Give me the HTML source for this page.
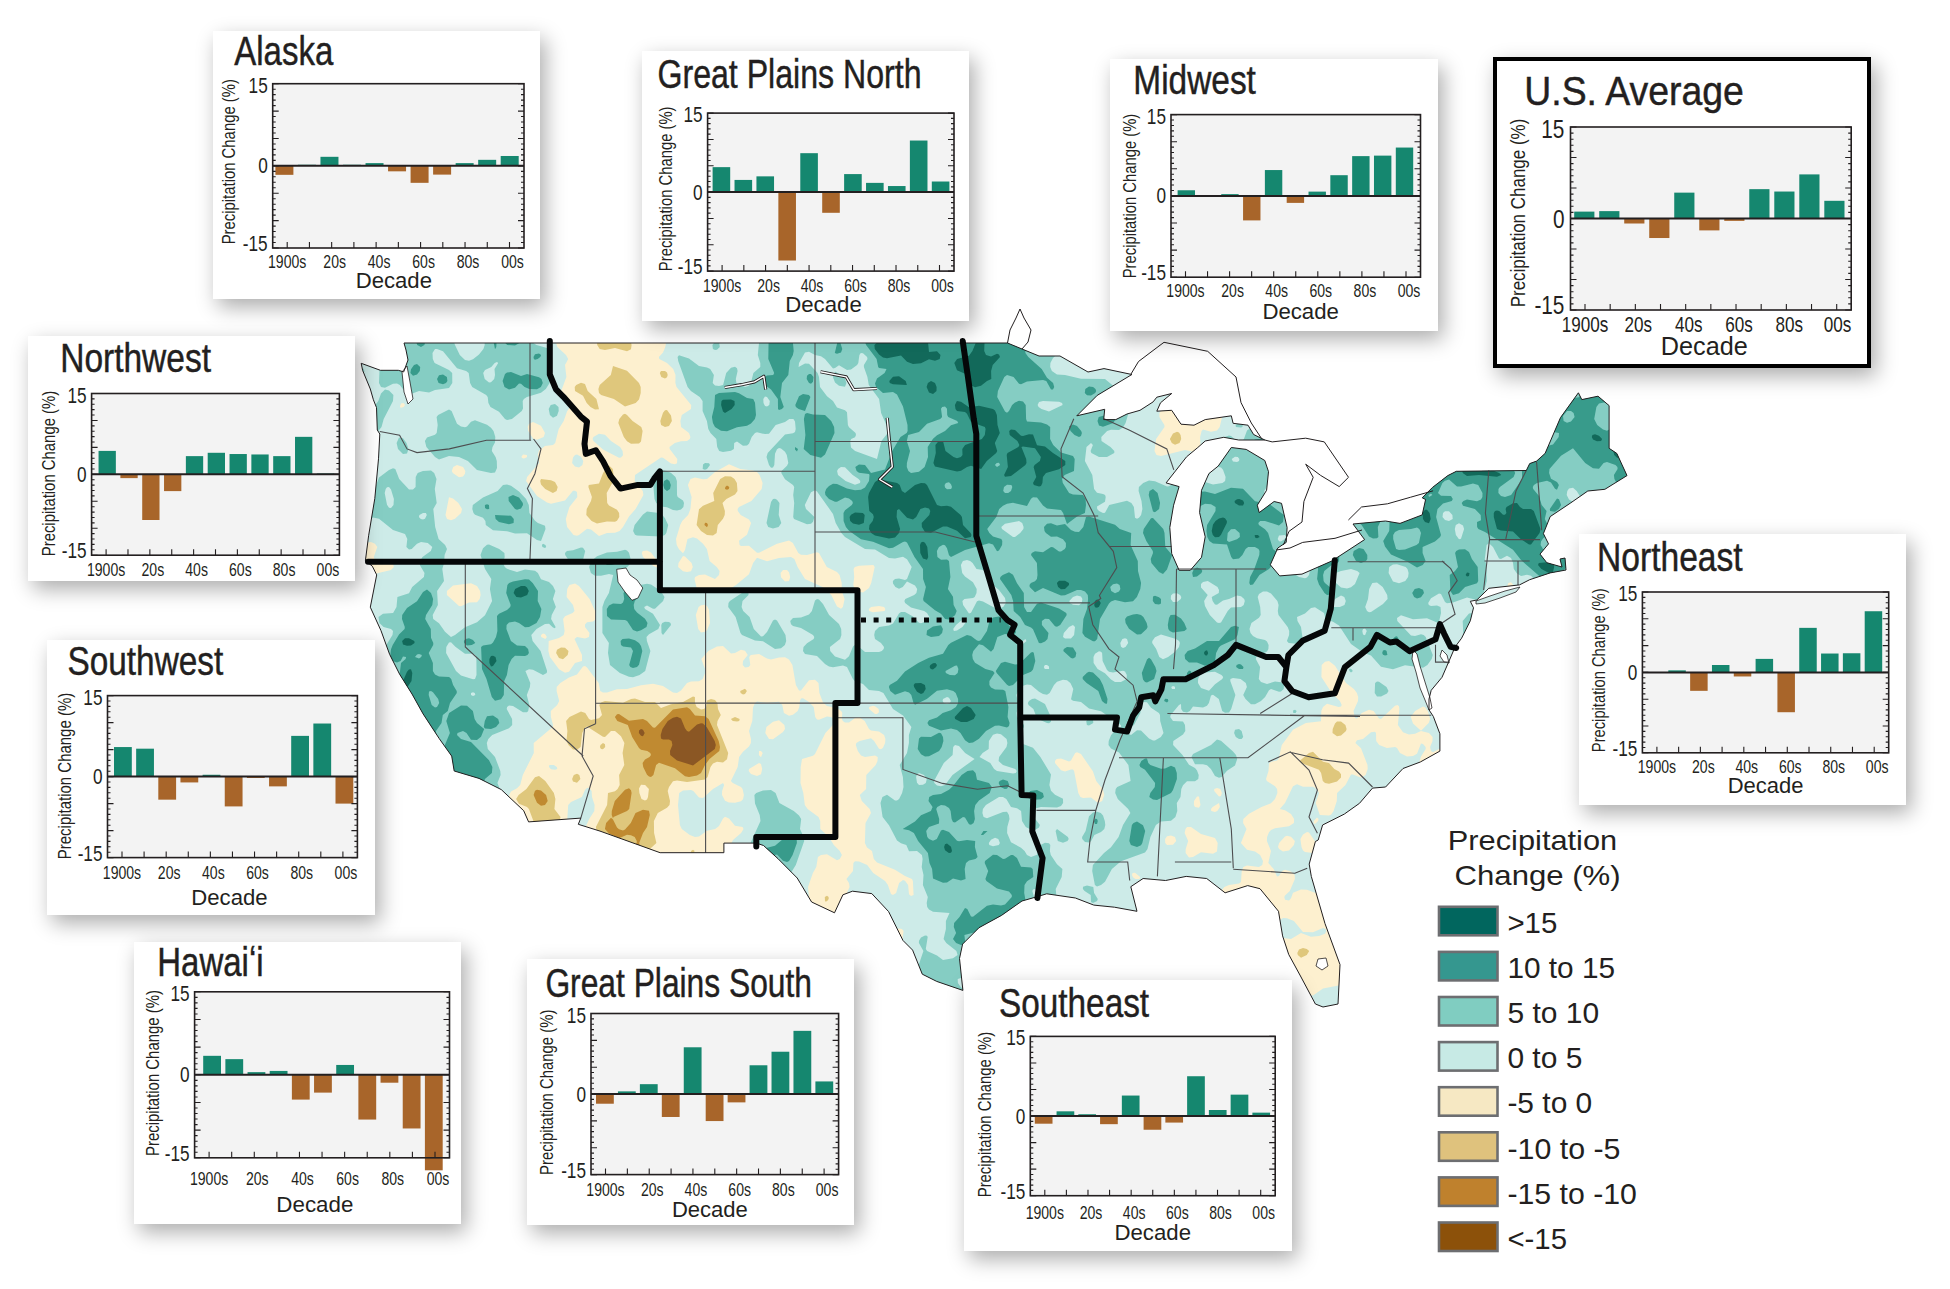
<!DOCTYPE html>
<html><head><meta charset="utf-8">
<style>
html,body{margin:0;padding:0;background:#fff;}
body{width:1950px;height:1289px;position:relative;overflow:hidden;font-family:"Liberation Sans",sans-serif;}
.pn{position:absolute;background:#fff;box-shadow:5px 8px 20px rgba(0,0,0,0.33);}
svg{position:absolute;left:0;top:0;}
text{font-family:"Liberation Sans",sans-serif;fill:#231f20;}
</style></head><body>

<svg width="1950" height="1289" viewBox="0 0 1950 1289" style="z-index:0"><defs><clipPath id="us"><path d="M361.2 363.3L380.4 370.3L398.3 370.3L403.7 371.9L408.0 360.0L406.0 350.0L404.0 343.0L1007.5 343.0L1022.0 349.0L1039.0 356.0L1060.0 356.0L1074.0 364.0L1088.0 372.0L1104.0 368.6L1131.9 374.5L1097.2 395.4L1076.8 415.8L1104.7 409.3L1103.7 419.6L1115.8 419.6L1127.0 414.0L1140.0 410.3L1153.1 401.9L1156.8 397.2L1171.7 393.5L1160.5 402.8L1156.8 411.2L1171.7 410.3L1181.0 424.2L1194.0 425.2L1205.2 419.6L1231.3 415.8L1233.1 423.3L1248.0 425.2L1253.6 434.5L1264.8 440.0L1238.7 440.0L1223.8 437.3L1205.2 441.0L1197.8 447.5L1186.6 456.8L1166.1 482.9L1179.1 486.6L1173.6 505.2L1169.8 527.5L1171.7 553.6L1179.1 570.3L1190.3 570.3L1201.5 557.3L1205.2 536.8L1199.6 512.6L1201.5 490.3L1208.9 473.6L1218.2 466.1L1231.3 447.5L1246.2 449.4L1264.8 460.5L1268.5 471.7L1266.6 490.3L1257.3 505.2L1259.2 512.6L1274.1 501.5L1281.5 503.3L1287.1 527.5L1286.2 542.4L1277.8 548.0L1270.3 564.8L1279.7 575.9L1302.0 574.1L1331.8 561.0L1364.6 539.6L1353.0 524.0L1385.5 521.0L1400.0 523.4L1422.2 514.9L1425.6 499.5L1422.2 497.8L1432.4 487.5L1447.8 475.6L1456.3 471.3L1526.3 470.5L1529.7 463.6L1536.6 461.1L1545.1 453.4L1560.5 417.6L1578.4 392.8L1581.8 399.6L1598.0 396.2L1609.1 405.6L1609.1 448.3L1616.8 453.4L1627.0 475.6L1604.9 489.3L1587.8 491.0L1570.7 502.9L1550.2 516.6L1543.4 533.6L1548.5 543.9L1540.0 554.1L1546.8 562.7L1562.0 567.0L1560.0 559.0L1565.0 558.0L1566.0 570.0L1550.2 572.9L1529.7 579.7L1519.5 584.9L1488.8 588.3L1476.8 600.0L1470.3 601.3L1473.5 607.8L1470.3 620.8L1461.6 638.2L1455.1 646.9L1448.6 662.1L1442.0 677.3L1431.2 690.3L1429.0 699.0L1429.0 709.9L1433.3 716.4L1439.9 733.8L1439.9 751.1L1420.3 762.0L1403.0 768.5L1385.6 787.0L1372.5 788.1L1359.5 803.3L1344.3 814.1L1322.6 825.0L1318.2 840.0L1315.4 841.5L1309.2 864.1L1311.3 876.4L1325.0 923.6L1340.0 964.6L1338.0 1004.0L1323.0 1007.0L1315.4 1004.0L1301.0 977.0L1288.7 954.4L1282.6 935.9L1278.5 911.3L1260.0 888.7L1247.7 885.6L1225.1 892.8L1206.7 878.5L1186.2 876.4L1165.6 880.5L1143.1 878.5L1130.8 886.7L1137.0 911.3L1114.4 907.2L1093.8 905.1L1075.4 898.0L1046.7 893.8L1036.4 896.9L1022.0 901.0L1001.5 915.4L979.0 927.7L962.6 944.1L959.5 958.5L962.9 990.4L936.7 981.4L922.3 974.2L912.6 950.1L903.0 940.5L888.6 911.6L871.8 893.6L852.5 891.2L842.9 894.8L834.5 912.8L811.6 902.0L797.2 878.0L778.0 858.7L763.5 845.5L756.3 843.1L723.9 843.1L723.9 852.7L660.1 852.7L600.0 831.1L578.3 824.3L580.8 818.1L528.6 821.9L523.7 810.7L501.3 789.6L479.0 778.4L454.2 771.0L451.7 756.1L439.3 738.7L423.1 713.9L412.0 694.0L399.6 674.2L389.6 654.3L381.0 630.7L370.3 607.2L376.7 574.9L372.3 566.2L365.4 560.6L368.6 535.8L374.8 498.5L378.5 458.8L379.8 434.0L377.3 430.0L376.5 407.6L373.4 399.8L370.3 389.0L362.6 370.3Z"/></clipPath></defs>
<g clip-path="url(#us)">
<rect x="360" y="300" width="1280" height="740" fill="#cdebe8"/>
<path fill="#85cdc3" fill-rule="evenodd" d="M549.6 383.0L545.8 389.0L541.0 392.8L526.9 397.0L523.9 399.0L522.7 401.0L523.0 408.4L521.8 411.0L511.9 419.0L507.0 420.0L505.0 418.9L499.0 411.7L490.5 407.0L488.4 403.0L487.7 397.0L486.2 395.0L472.2 387.0L470.1 383.0L468.7 373.0L466.1 371.0L457.0 368.2L443.0 351.3L437.0 348.9L435.0 349.1L432.5 353.0L432.8 359.0L434.6 363.0L449.0 370.1L452.2 373.0L452.3 383.0L449.0 387.9L435.0 389.9L429.0 392.4L419.0 391.1L411.0 393.9L405.0 391.7L399.8 385.0L397.0 383.5L393.0 383.7L385.0 387.7L381.0 387.0L379.0 383.0L379.7 365.0L377.1 361.0L371.0 357.1L369.1 351.0L374.3 341.0L375.5 335.0L383.4 325.0L384.6 317.0L382.8 313.0L381.0 312.1L377.0 312.8L370.0 317.0L365.0 324.5L361.0 326.2L361.0 301.0L385.7 301.0L388.5 303.0L397.0 304.6L401.0 303.6L402.8 301.0L419.4 301.0L423.0 305.7L431.0 308.4L436.1 307.0L441.0 302.7L443.0 302.1L447.0 317.0L449.0 319.5L451.0 319.8L455.0 319.0L458.3 315.0L459.7 309.0L459.1 301.0L532.2 301.0L537.9 311.0L538.7 317.0L537.8 325.0L531.1 333.0L530.5 337.0L533.2 343.0L536.5 345.0L547.0 348.1L551.0 353.0L551.7 369.0ZM715.0 322.3L713.0 323.8L711.0 323.7L703.0 315.6L697.3 315.0L694.1 313.0L692.9 309.0L694.9 301.0L697.8 301.0L703.0 313.6L705.0 314.7L713.0 311.4L717.0 312.7L717.8 317.0ZM893.4 1029.0L891.6 1025.0L893.0 1020.9L895.0 1019.4L905.0 1017.9L909.0 1015.0L920.0 995.0L926.6 987.0L926.9 983.0L925.9 981.0L919.5 975.0L917.7 971.0L918.0 967.0L923.4 951.0L918.9 943.0L919.0 940.8L921.0 937.5L925.0 935.4L927.0 935.7L927.7 937.0L925.8 949.0L927.1 951.0L937.0 955.4L943.0 960.0L953.0 958.3L957.6 955.0L956.4 951.0L946.3 943.0L943.6 939.0L945.9 929.0L945.9 921.0L949.5 913.0L933.0 911.7L929.0 909.6L927.2 907.0L926.7 903.0L927.8 897.0L922.9 885.0L923.5 875.0L921.7 867.0L922.6 859.0L921.9 855.0L917.0 851.1L909.0 851.3L906.3 845.0L901.0 843.2L897.0 840.4L889.0 825.3L882.6 817.0L880.5 803.0L882.4 797.0L887.0 794.7L895.0 800.4L897.0 800.5L899.1 799.0L902.1 793.0L903.5 787.0L902.9 777.0L899.7 765.0L907.0 753.0L908.9 743.0L908.9 735.0L911.4 727.0L903.0 715.4L893.0 708.9L883.4 693.0L879.0 690.9L869.0 689.9L863.0 684.1L855.0 681.2L852.9 679.0L847.0 667.0L843.0 665.5L833.0 667.2L829.0 666.5L825.0 664.0L817.0 655.9L805.0 654.1L803.0 651.0L803.5 647.0L807.0 643.2L813.7 639.0L814.3 637.0L813.0 635.0L801.0 628.1L793.0 626.0L791.0 624.2L790.2 621.0L793.0 618.0L801.0 617.5L809.0 614.6L811.9 611.0L815.0 600.4L817.0 598.9L819.0 599.5L823.0 603.9L829.1 615.0L839.0 624.0L841.2 629.0L841.4 635.0L840.1 639.0L829.9 647.0L830.2 651.0L835.0 656.6L845.0 659.7L849.0 656.3L853.0 646.5L855.0 644.7L857.0 645.2L865.0 651.9L879.0 651.9L881.8 651.0L883.7 649.0L884.0 647.0L881.0 643.0L875.0 639.0L874.2 635.0L875.0 631.0L879.1 627.0L889.0 625.6L893.0 623.6L899.0 613.4L901.0 611.9L905.0 612.0L913.0 616.4L919.0 622.8L921.0 623.3L927.1 621.0L929.1 619.0L929.4 617.0L927.0 613.1L924.1 611.0L911.0 607.4L905.1 603.0L904.4 601.0L905.3 599.0L914.2 595.0L916.4 593.0L917.2 589.0L915.0 585.4L907.0 581.5L902.8 587.0L899.0 588.7L895.4 587.0L893.0 583.6L892.9 581.0L895.0 578.9L899.0 578.5L905.0 580.1L907.0 578.9L911.7 567.0L907.0 559.2L903.0 556.8L895.0 558.5L889.0 558.1L875.0 549.6L865.0 549.0L845.0 537.0L841.4 533.0L835.7 523.0L833.0 513.9L817.0 491.4L815.0 490.3L811.0 492.2L804.8 505.0L806.0 509.0L814.4 517.0L813.0 521.8L811.0 523.8L807.0 524.3L794.0 519.0L793.2 517.0L794.2 503.0L793.2 495.0L794.2 487.0L793.0 485.0L785.0 479.2L781.3 473.0L781.5 471.0L787.0 465.7L788.3 463.0L786.8 455.0L785.0 451.8L781.0 448.5L779.0 448.1L777.0 449.3L775.0 453.8L774.3 465.0L773.0 467.6L771.0 467.7L769.0 465.0L766.5 457.0L767.7 453.0L785.0 434.6L793.0 433.3L795.0 432.0L795.7 429.0L795.0 421.6L793.4 419.0L789.3 419.0L785.0 422.0L775.7 425.0L769.0 433.7L765.0 434.1L757.0 432.3L755.0 432.9L751.7 437.0L749.0 443.8L747.0 445.6L743.0 445.8L737.0 441.4L734.2 443.0L733.9 449.0L731.0 450.8L723.0 452.1L719.2 451.0L717.2 447.0L716.3 439.0L710.5 433.0L708.3 429.0L706.9 421.0L702.6 411.0L702.6 401.0L699.7 397.0L690.9 391.0L687.6 387.0L678.2 361.0L677.6 357.0L679.0 355.3L689.0 358.5L699.0 366.0L707.0 367.4L710.2 369.0L713.9 375.0L712.7 383.0L715.0 385.5L719.0 386.1L723.1 385.0L726.2 373.0L731.0 367.8L735.0 366.7L737.0 368.2L737.6 371.0L735.8 379.0L736.4 383.0L745.0 386.9L749.0 385.8L751.0 382.6L753.4 373.0L760.3 367.0L760.3 363.0L757.8 355.0L759.2 341.0L761.0 336.3L767.4 329.0L769.6 323.0L769.6 313.0L766.5 301.0L852.3 301.0L855.0 308.9L859.0 311.9L863.0 311.1L865.4 309.0L867.3 305.0L867.7 301.0L1062.0 301.0L1057.3 325.0L1058.0 333.0L1057.2 335.0L1045.0 335.1L1041.1 339.0L1042.2 343.0L1045.0 343.9L1055.0 341.4L1057.0 341.8L1060.5 347.0L1060.5 351.0L1053.0 358.1L1050.4 363.0L1050.2 367.0L1051.9 371.0L1057.0 374.5L1065.0 374.9L1081.0 378.7L1105.0 378.9L1117.1 389.0L1123.0 398.7L1131.3 405.0L1131.0 409.0L1128.5 413.0L1125.6 423.0L1123.0 427.6L1119.0 429.9L1111.0 429.8L1107.1 431.0L1101.3 437.0L1101.5 441.0L1110.5 447.0L1114.3 451.0L1114.3 453.0L1107.0 457.0L1099.0 456.9L1091.4 453.0L1090.6 451.0L1092.9 445.0L1091.0 443.1L1086.5 447.0L1084.9 461.0L1092.3 475.0L1094.1 489.0L1097.0 492.8L1103.0 493.9L1105.1 495.0L1105.7 497.0L1105.0 501.8L1097.0 506.6L1097.2 509.0L1099.0 511.0L1103.0 512.9L1105.0 512.7L1109.2 505.0L1127.0 500.8L1131.4 503.0L1133.9 507.0L1135.0 517.7L1137.0 518.8L1139.0 517.8L1141.1 515.0L1142.4 509.0L1141.5 501.0L1138.6 491.0L1138.9 487.0L1143.2 483.0L1149.0 480.6L1155.0 481.2L1167.0 486.4L1169.0 486.2L1177.0 481.3L1181.0 480.7L1185.0 481.7L1193.0 486.0L1197.0 485.5L1205.0 482.0L1213.0 484.5L1222.5 483.0L1225.1 481.0L1225.6 477.0L1223.0 469.7L1221.0 467.6L1215.0 466.3L1213.4 467.0L1209.0 475.0L1205.0 477.0L1197.0 471.5L1194.9 467.0L1196.6 463.0L1199.0 461.8L1211.0 463.1L1215.0 449.7L1219.0 446.0L1221.0 441.0L1224.6 437.0L1229.0 435.4L1231.0 435.9L1237.0 441.2L1241.0 442.4L1243.9 439.0L1247.0 430.4L1257.0 422.9L1265.0 422.7L1275.0 425.2L1277.0 424.3L1279.0 420.0L1281.0 418.9L1289.0 420.7L1299.0 420.3L1303.0 421.5L1311.0 428.0L1319.0 428.0L1320.6 429.0L1321.5 437.0L1313.2 449.0L1312.1 459.0L1310.3 463.0L1307.0 464.6L1297.0 463.2L1294.9 465.0L1294.0 475.0L1292.4 479.0L1281.6 487.0L1281.8 489.0L1295.9 501.0L1298.6 511.0L1298.3 515.0L1291.2 525.0L1290.4 533.0L1293.0 533.4L1301.0 530.0L1304.9 525.0L1303.8 513.0L1309.0 505.0L1310.0 501.0L1309.3 491.0L1306.4 481.0L1307.0 474.7L1309.0 471.6L1311.0 471.2L1321.0 477.4L1323.0 477.4L1325.8 475.0L1327.3 463.0L1334.8 457.0L1336.8 453.0L1336.0 433.0L1336.8 429.0L1338.5 427.0L1345.0 423.7L1349.0 423.5L1349.8 425.0L1347.6 433.0L1349.6 439.0L1355.0 443.6L1363.0 446.2L1365.0 444.6L1368.2 437.0L1373.0 433.7L1377.0 434.4L1387.0 441.3L1389.0 441.3L1391.0 438.2L1392.8 433.0L1392.5 429.0L1385.0 418.7L1371.0 413.1L1360.8 415.0L1358.3 413.0L1357.0 407.0L1359.0 402.7L1363.0 402.0L1371.0 410.8L1373.0 411.5L1377.1 409.0L1378.6 405.0L1375.9 395.0L1387.0 385.0L1383.9 375.0L1384.1 363.0L1381.2 353.0L1372.0 345.0L1369.2 339.0L1371.0 335.0L1380.5 325.0L1381.3 321.0L1380.5 313.0L1388.3 305.0L1389.9 301.0L1451.1 301.0L1455.0 303.2L1457.9 301.0L1639.0 301.0L1639.0 621.3L1631.0 621.8L1629.1 623.0L1628.6 625.0L1630.6 627.0L1633.0 627.4L1639.0 625.8L1639.0 720.4L1631.2 721.0L1623.0 724.0L1622.2 723.0L1622.9 717.0L1621.1 713.0L1609.4 705.0L1605.0 699.2L1599.2 695.0L1599.9 683.0L1599.0 678.9L1597.0 676.8L1589.0 674.3L1577.0 677.0L1565.0 676.1L1561.0 673.8L1558.7 669.0L1557.3 659.0L1559.0 655.8L1564.0 651.0L1564.0 649.0L1559.0 643.5L1551.0 639.5L1548.6 637.0L1551.2 627.0L1550.8 621.0L1547.7 615.0L1540.8 607.0L1539.8 603.0L1541.0 597.0L1544.3 593.0L1543.7 589.0L1531.0 575.8L1527.0 574.7L1521.0 576.0L1517.0 573.6L1513.8 569.0L1513.0 562.7L1511.0 557.9L1507.0 555.8L1501.0 558.9L1499.0 558.4L1493.0 547.0L1489.0 543.3L1486.6 545.0L1484.8 559.0L1486.3 565.0L1486.8 581.0L1482.1 599.0L1477.0 599.9L1467.0 597.5L1453.0 602.6L1447.0 603.2L1445.0 602.0L1441.0 593.9L1439.0 593.4L1431.0 598.2L1428.2 603.0L1428.8 605.0L1431.0 605.9L1437.0 605.6L1440.5 607.0L1441.0 613.0L1439.0 622.0L1437.0 622.4L1427.0 618.2L1413.0 619.2L1401.0 615.3L1397.0 618.0L1397.3 621.0L1411.0 635.5L1415.0 636.0L1421.0 634.2L1423.7 635.0L1425.7 637.0L1432.8 655.0L1431.7 659.0L1427.4 665.0L1423.0 667.8L1405.0 665.2L1393.0 669.2L1381.0 666.7L1371.0 655.5L1363.0 652.6L1351.0 643.9L1339.0 625.6L1333.0 621.8L1325.7 619.0L1324.0 613.0L1315.0 607.2L1311.0 607.9L1305.0 613.4L1297.0 616.9L1297.5 621.0L1301.0 627.0L1303.0 641.2L1299.0 644.1L1288.7 643.0L1286.9 641.0L1289.1 635.0L1289.2 631.0L1287.7 627.0L1278.5 615.0L1277.8 611.0L1278.6 605.0L1277.4 601.0L1271.0 593.6L1267.0 591.6L1263.0 591.5L1259.0 594.1L1257.7 597.0L1260.2 607.0L1260.7 615.0L1259.0 617.7L1251.4 623.0L1249.5 629.0L1250.5 633.0L1253.0 636.0L1257.0 638.3L1265.0 640.1L1267.0 641.5L1268.6 645.0L1268.4 649.0L1267.0 651.5L1256.2 657.0L1255.8 659.0L1260.1 667.0L1258.8 679.0L1261.0 682.1L1267.0 684.0L1275.0 681.4L1281.0 682.2L1284.0 685.0L1283.7 689.0L1281.0 691.6L1279.0 691.8L1271.0 689.0L1269.0 690.2L1265.1 697.0L1261.0 701.1L1255.0 704.2L1251.0 704.2L1245.5 699.0L1243.2 695.0L1246.9 687.0L1245.8 683.0L1240.6 679.0L1233.0 678.0L1230.4 679.0L1230.3 681.0L1235.4 695.0L1231.2 709.0L1229.0 712.4L1225.0 712.8L1222.2 711.0L1218.8 699.0L1213.0 694.7L1211.0 695.6L1208.9 703.0L1207.0 705.8L1203.0 707.5L1193.0 706.6L1189.8 711.0L1187.0 712.6L1183.0 711.8L1181.2 709.0L1181.0 704.1L1179.0 705.1L1170.7 715.0L1170.2 717.0L1173.0 720.9L1183.0 721.5L1185.0 725.0L1185.3 731.0L1183.0 734.4L1173.3 741.0L1173.1 745.0L1182.5 755.0L1189.0 764.7L1195.0 768.0L1197.0 770.6L1198.7 775.0L1198.3 779.0L1195.0 781.2L1187.0 781.3L1183.0 785.3L1181.3 789.0L1180.5 797.0L1176.8 803.0L1177.3 811.0L1175.4 817.0L1171.0 820.7L1161.0 821.5L1155.9 825.0L1150.4 837.0L1147.5 849.0L1145.0 852.6L1121.0 861.3L1111.9 869.0L1105.0 881.7L1101.0 885.0L1097.0 886.4L1094.9 885.0L1092.2 871.0L1092.9 865.0L1104.0 853.0L1111.0 847.3L1118.6 837.0L1123.0 825.0L1130.4 813.0L1128.2 809.0L1117.8 799.0L1115.2 793.0L1115.7 789.0L1117.2 787.0L1130.6 781.0L1128.4 765.0L1119.0 752.5L1111.0 748.6L1108.5 745.0L1108.7 741.0L1111.0 735.2L1115.0 730.3L1121.2 727.0L1120.8 725.0L1101.0 711.2L1089.0 708.4L1081.0 701.9L1073.0 700.7L1071.0 699.2L1073.3 689.0L1070.4 683.0L1067.0 680.2L1063.0 679.7L1057.0 681.8L1054.0 685.0L1049.7 693.0L1047.0 694.8L1043.0 694.0L1039.0 691.7L1031.0 685.1L1027.0 684.6L1023.0 685.7L1018.8 689.0L1016.4 695.0L1018.5 705.0L1016.6 713.0L1017.0 717.0L1024.0 725.0L1024.0 727.0L1019.8 733.0L1021.0 739.2L1023.0 744.0L1033.0 747.8L1040.4 757.0L1051.0 774.5L1049.4 785.0L1051.0 790.7L1055.0 794.8L1063.0 798.8L1063.1 803.0L1061.0 805.9L1057.0 807.4L1041.0 807.0L1032.9 809.0L1031.3 811.0L1032.1 815.0L1039.9 825.0L1039.0 827.5L1035.0 829.9L1031.0 829.8L1025.8 827.0L1022.0 821.0L1021.1 811.0L1017.0 808.3L1011.0 806.9L1006.3 799.0L1003.0 797.0L999.0 797.0L985.9 805.0L982.9 809.0L982.4 813.0L983.6 817.0L987.0 818.3L1003.0 812.1L1007.0 811.8L1008.9 815.0L1009.5 819.0L1007.3 827.0L1007.1 833.0L1011.0 842.2L1021.0 847.8L1024.6 851.0L1027.0 855.1L1031.0 857.1L1037.0 854.8L1039.3 847.0L1041.0 844.8L1045.0 842.7L1049.0 843.3L1050.3 845.0L1049.9 851.0L1050.8 855.0L1057.0 864.3L1062.4 869.0L1061.7 877.0L1055.7 889.0L1057.1 903.0L1056.1 909.0L1054.1 915.0L1051.0 918.5L1047.0 919.3L1043.9 917.0L1037.6 897.0L1038.0 891.0L1035.0 888.9L1033.0 889.5L1032.3 891.0L1034.0 897.0L1032.0 907.0L1033.0 913.5L1037.0 918.3L1045.0 923.0L1051.0 931.0L1050.9 933.0L1045.0 941.0L1043.6 945.0L1044.1 951.0L1042.8 957.0L1045.0 965.0L1044.9 969.0L1043.0 971.8L1041.0 971.7L1031.0 968.0L1027.0 969.7L1023.0 973.7L1019.0 975.8L1002.0 977.0L999.0 979.0L995.0 986.4L993.0 987.0L984.2 981.0L981.0 974.5L979.0 973.7L975.1 975.0L974.5 977.0L980.1 981.0L980.9 983.0L975.5 997.0L974.9 1005.0L976.1 1009.0L981.0 1014.0L991.0 1017.4L1000.6 1019.0L1001.1 1021.0L995.0 1025.3L989.0 1026.2L977.0 1022.3L963.0 1027.0L959.2 1031.0L958.3 1039.0L921.7 1039.0L920.0 1033.0L917.0 1030.4L897.0 1030.3ZM1087.0 304.8L1085.0 305.7L1083.0 304.8L1079.9 301.0L1087.9 301.0ZM1429.0 320.9L1430.7 319.0L1429.6 315.0L1423.0 309.0L1421.8 313.0L1423.0 317.4L1425.0 320.2ZM479.0 321.5L483.0 321.1L486.3 319.0L487.1 315.0L485.0 312.0L481.0 311.1L477.6 313.0L476.5 317.0ZM848.8 323.0L847.8 317.0L843.0 312.9L838.7 313.0L834.0 317.0L834.4 321.0L839.3 325.0L845.0 326.4L847.0 325.8ZM409.0 319.3L411.5 317.0L411.0 314.4L409.0 314.2L407.1 317.0ZM1289.4 329.0L1284.6 339.0L1285.3 347.0L1283.8 349.0L1277.0 351.0L1269.0 348.7L1267.0 349.1L1262.8 353.0L1259.0 354.7L1255.0 352.4L1249.0 341.4L1240.7 337.0L1227.1 327.0L1227.0 325.0L1235.0 319.5L1243.0 319.5L1249.0 323.0L1255.0 331.4L1267.0 338.2L1269.0 338.2L1271.0 336.6L1276.7 327.0L1281.0 323.4L1285.0 322.4L1287.0 323.0L1288.9 325.0ZM805.0 338.1L807.5 335.0L806.5 331.0L800.2 321.0L795.7 321.0L794.7 323.0L798.6 329.0L801.0 335.7L803.0 338.1ZM1168.1 331.0L1165.0 331.1L1162.1 329.0L1161.7 327.0L1165.0 323.5L1167.0 323.3L1169.3 325.0L1170.0 329.0ZM1186.8 339.0L1185.0 337.0L1185.1 335.0L1188.2 327.0L1193.0 325.2L1197.0 326.1L1198.0 327.0L1197.4 329.0ZM1096.6 339.0L1095.0 339.7L1087.0 339.0L1083.0 337.3L1080.4 333.0L1081.0 328.8L1083.0 327.9L1087.0 329.7L1093.5 335.0ZM483.4 349.0L484.7 345.0L484.5 341.0L479.0 329.9L477.0 329.1L475.0 330.6L473.9 339.0L472.7 341.0L469.0 343.0L463.0 342.4L457.0 334.3L455.0 333.0L453.0 333.6L452.4 337.0L455.0 345.0L459.8 355.0L465.0 360.1L469.0 360.8L473.0 359.2L479.0 354.4ZM1320.1 353.0L1317.0 354.3L1315.0 353.2L1311.0 345.5L1303.0 342.0L1302.8 339.0L1304.2 337.0L1307.0 335.7L1309.0 336.0L1319.4 345.0L1321.2 349.0ZM715.0 350.1L712.9 349.0L712.4 345.0L715.0 341.8L717.0 341.6L719.2 343.0L719.8 347.0L717.0 349.7ZM1416.1 351.0L1415.8 349.0L1413.0 346.4L1409.0 345.5L1407.3 347.0L1411.0 352.7L1414.5 353.0ZM396.6 367.0L403.0 365.7L406.3 361.0L406.4 355.0L403.0 349.1L401.0 349.0L397.0 351.9L393.5 359.0L393.7 365.0ZM1179.0 364.0L1174.7 361.0L1174.8 355.0L1179.0 350.1L1183.0 348.7L1185.0 349.1L1187.0 351.3L1188.0 355.0L1187.0 360.5L1183.0 364.0ZM877.0 459.1L881.4 441.0L887.0 434.0L888.1 429.0L881.1 413.0L879.1 399.0L868.8 385.0L867.4 377.0L863.9 367.0L863.9 365.0L867.5 359.0L867.1 357.0L863.0 353.2L860.8 353.0L859.4 355.0L858.3 363.0L857.1 365.0L851.0 369.5L847.0 369.9L839.0 365.2L835.0 368.1L833.0 368.4L825.0 359.1L821.0 356.3L815.0 355.0L809.0 351.8L805.0 352.5L799.0 363.1L798.6 367.0L805.0 363.4L809.0 363.8L817.6 373.0L819.0 377.0L820.0 387.0L827.0 396.3L833.0 401.0L837.0 407.4L845.0 410.3L847.0 412.3L847.9 425.0L849.0 427.2L855.6 433.0L856.0 435.0L855.0 437.2L851.2 439.0L850.2 441.0L851.0 447.5L855.1 451.0ZM489.0 382.5L491.0 382.3L494.2 379.0L495.0 375.0L494.5 369.0L498.2 363.0L497.0 362.1L494.7 363.0L491.3 367.0L485.0 370.0L483.2 373.0L484.7 379.0ZM1473.0 369.3L1475.2 367.0L1475.2 365.0L1471.0 362.0L1469.0 363.8L1469.0 367.0L1471.0 369.5ZM361.0 373.8L361.0 367.2L363.7 369.0L364.4 371.0L363.7 373.0ZM1334.4 387.0L1331.0 388.2L1327.2 387.0L1319.0 379.1L1305.0 380.5L1297.0 374.3L1289.0 373.0L1290.9 371.0L1293.0 370.5L1303.0 372.4L1319.0 370.9L1325.0 369.2L1329.0 369.7L1332.1 373.0ZM845.0 386.7L839.0 385.7L835.0 382.5L832.9 377.0L835.0 371.6L843.0 376.3L845.0 378.7L846.4 383.0ZM1365.0 396.2L1363.3 393.0L1364.6 385.0L1367.0 382.2L1371.0 382.3L1372.5 385.0L1371.5 391.0L1369.0 394.6ZM1514.3 391.0L1517.9 389.0L1517.0 386.0L1514.4 387.0L1513.4 389.0ZM361.0 451.6L361.0 423.3L367.0 423.9L371.0 421.4L372.2 409.0L378.3 401.0L381.0 393.4L385.0 389.6L389.0 390.5L393.4 395.0L393.0 401.0L383.7 419.0L381.5 427.0L375.1 435.0L374.8 445.0L373.5 449.0L371.0 451.3ZM767.0 406.5L769.3 405.0L769.8 401.0L767.0 397.1L765.0 396.6L763.3 399.0L763.5 403.0L765.0 406.0ZM1062.6 405.0L1062.1 403.0L1059.0 401.7L1043.0 401.0L1039.0 402.0L1037.6 405.0L1038.6 407.0L1041.5 409.0L1049.0 411.4ZM1103.7 405.0L1101.5 401.0L1099.0 399.7L1094.2 401.0L1091.8 403.0L1091.2 405.0L1093.0 407.1L1099.0 408.5L1103.0 407.0ZM553.0 417.7L549.9 415.0L548.7 409.0L550.7 405.0L555.0 404.1L558.5 407.0L558.7 411.0L557.0 415.8ZM1253.0 416.5L1249.0 415.8L1247.0 414.0L1245.8 409.0L1247.0 406.7L1251.0 407.0L1253.2 409.0L1254.5 413.0ZM495.0 472.5L491.0 473.0L477.0 470.0L467.9 461.0L459.0 457.1L449.0 456.1L439.0 459.6L435.0 457.0L426.4 447.0L424.9 441.0L427.0 437.5L435.0 434.7L436.7 433.0L437.7 425.0L436.6 417.0L438.1 415.0L449.0 409.6L451.6 411.0L457.0 423.7L461.0 426.6L465.0 427.2L467.0 426.4L471.0 421.7L475.0 420.3L487.0 424.8L491.0 427.8L493.5 431.0L495.3 437.0L495.0 442.4L492.5 447.0L491.8 451.0L495.6 457.0L496.8 461.0L497.0 467.9ZM1321.0 426.5L1320.1 421.0L1321.0 418.1L1325.0 417.1L1328.4 419.0L1329.0 423.1L1325.0 425.9ZM1242.8 425.0L1242.4 427.0L1241.0 427.5L1235.9 427.0L1235.6 425.0L1239.0 422.9L1241.1 423.0ZM407.0 453.6L403.0 454.0L398.0 449.0L396.6 443.0L399.0 437.5L403.0 438.3L406.5 443.0L408.5 449.0ZM1371.9 455.0L1372.6 453.0L1371.0 450.1L1365.0 447.3L1364.4 451.0L1366.3 455.0L1369.0 456.0ZM1239.4 459.0L1237.8 457.0L1235.0 456.7L1231.7 459.0L1233.0 461.6L1237.0 462.1L1239.0 461.1ZM702.7 469.0L703.0 464.6L705.0 463.1L709.0 463.2L710.0 465.0L707.0 468.9L705.0 469.7ZM860.0 483.0L860.3 481.0L858.6 479.0L852.7 475.0L845.0 467.2L841.0 466.9L838.1 469.0L837.1 471.0L838.0 475.0L845.6 481.0L855.0 484.7ZM361.0 978.3L361.0 676.7L365.0 674.2L369.0 662.9L371.0 662.0L381.0 662.4L383.0 660.4L385.4 653.0L386.3 645.0L392.5 635.0L393.0 631.0L391.0 629.1L383.6 627.0L379.4 623.0L378.5 617.0L383.0 613.7L393.1 613.0L396.5 607.0L397.4 597.0L409.0 593.3L412.2 587.0L423.9 577.0L424.5 573.0L419.8 565.0L420.1 561.0L422.5 557.0L430.8 551.0L432.3 547.0L427.8 543.0L421.0 542.0L417.0 543.8L411.7 549.0L409.0 549.6L406.4 547.0L407.3 539.0L405.0 534.0L393.0 529.9L379.0 518.8L373.0 517.6L361.0 523.0L361.0 487.5L369.0 490.9L373.0 490.2L375.4 487.0L379.0 477.5L389.0 470.0L393.0 468.2L395.3 469.0L399.2 479.0L409.0 489.4L413.0 489.6L415.6 487.0L415.7 477.0L417.7 473.0L422.9 471.0L431.0 470.4L434.2 473.0L436.5 479.0L434.8 489.0L436.7 503.0L433.3 509.0L435.2 527.0L438.6 539.0L445.1 545.0L447.0 549.0L444.6 555.0L444.1 563.0L442.3 569.0L444.0 581.0L437.1 591.0L437.9 605.0L432.7 615.0L433.2 619.0L439.0 623.3L445.0 631.7L451.0 637.1L455.0 635.1L465.0 627.2L477.0 622.3L485.0 615.2L492.1 601.0L489.9 589.0L491.3 579.0L485.0 569.0L480.5 555.0L483.0 548.3L487.0 544.8L489.0 544.4L499.2 549.0L504.4 553.0L504.7 557.0L503.1 563.0L504.8 567.0L507.0 568.8L517.0 572.1L525.0 569.5L535.0 570.7L537.9 573.0L541.0 579.2L549.0 582.0L553.0 585.9L555.4 591.0L552.9 599.0L555.9 607.0L551.7 615.0L551.1 619.0L555.6 627.0L555.0 628.3L553.0 627.5L549.0 623.7L545.0 624.1L536.5 629.0L531.3 635.0L532.6 641.0L540.6 651.0L547.1 671.0L546.7 673.0L543.0 675.0L533.0 669.8L529.0 669.3L525.4 671.0L530.3 683.0L529.9 687.0L526.8 695.0L529.3 705.0L528.2 711.0L527.0 712.2L523.0 712.2L513.0 706.1L509.0 705.4L507.1 707.0L506.7 709.0L512.1 719.0L512.2 725.0L509.0 728.2L492.2 735.0L488.3 739.0L486.8 743.0L487.8 749.0L495.0 757.0L500.3 771.0L500.6 775.0L497.4 783.0L502.4 795.0L502.7 809.0L509.1 817.0L510.7 833.0L510.0 837.0L504.5 843.0L495.8 849.0L491.0 859.2L487.0 863.7L479.0 866.5L473.0 863.6L471.6 865.0L470.9 867.0L472.2 873.0L471.3 877.0L468.6 881.0L463.8 885.0L451.0 892.1L447.0 893.0L443.0 892.5L435.0 888.4L431.0 888.9L429.6 893.0L429.6 905.0L433.6 913.0L434.2 917.0L431.6 925.0L427.0 927.7L415.0 928.7L409.0 937.4L399.0 943.4L391.0 946.7L387.0 954.1L381.0 970.2L377.0 972.1L369.0 972.5ZM681.0 509.4L677.0 510.4L673.0 510.0L667.0 507.2L661.0 506.4L656.2 503.0L654.5 499.0L652.9 481.0L655.6 475.0L659.0 471.7L663.0 470.3L667.0 470.9L671.1 473.0L675.5 477.0L676.9 481.0L677.0 495.0L677.7 497.0L683.0 500.4L684.0 503.0L683.4 507.0ZM1266.0 495.0L1270.5 495.0L1273.5 493.0L1277.8 487.0L1276.4 485.0L1273.0 482.6L1269.0 483.1L1264.3 491.0L1264.1 493.0ZM541.0 540.9L537.0 539.9L527.0 533.2L515.0 533.4L507.0 531.2L493.0 530.2L485.8 525.0L485.4 521.0L483.0 517.8L475.0 514.7L473.5 513.0L472.3 509.0L472.8 505.0L483.0 497.6L497.6 491.0L503.0 484.9L507.0 484.4L511.0 485.8L519.0 491.6L526.1 499.0L528.8 505.0L529.4 513.0L535.0 520.7L537.9 523.0L545.0 525.7L545.5 529.0ZM391.0 508.1L393.5 505.0L393.9 499.0L391.0 489.4L389.0 487.0L387.0 487.3L385.7 489.0L384.7 493.0L387.0 504.7L389.0 507.7ZM1579.0 500.9L1580.4 499.0L1580.4 497.0L1576.7 491.0L1573.0 487.7L1569.0 488.4L1567.3 491.0L1566.7 495.0L1569.0 499.6L1573.0 502.1ZM773.0 528.4L768.2 527.0L766.5 523.0L771.0 501.9L773.0 499.0L775.0 498.8L777.0 499.7L779.5 503.0L778.7 515.0L781.3 523.0L778.6 527.0ZM1452.7 519.0L1452.4 515.0L1449.0 511.2L1445.0 511.3L1443.0 513.0L1442.5 517.0L1445.0 520.1L1449.0 521.0ZM1629.2 511.0L1627.0 511.0L1623.0 513.7L1619.0 513.2L1617.0 514.3L1615.8 517.0L1616.7 519.0L1629.0 519.0ZM426.8 515.0L425.9 513.0L423.0 512.9L419.4 515.0L418.9 517.0L420.8 519.0L423.0 519.4L425.0 518.7ZM668.2 525.0L666.3 533.0L664.8 535.0L661.0 536.4L637.0 535.4L635.0 534.7L633.1 531.0L634.6 525.0L643.0 514.5L647.0 511.5L661.0 513.3L665.0 518.2ZM1023.6 527.0L1022.2 523.0L1019.0 521.1L1005.0 523.8L1001.3 527.0L1002.0 529.0L1013.0 537.0L1015.0 536.9L1020.2 533.0L1023.4 529.0ZM1175.9 545.0L1179.0 547.0L1185.0 547.6L1193.0 541.7L1199.0 539.2L1200.9 533.0L1199.0 524.3L1197.0 523.2L1193.0 525.1L1188.4 537.0L1179.0 537.4L1175.6 539.0L1174.6 541.0ZM1459.0 539.2L1461.0 538.7L1464.1 529.0L1463.0 525.4L1459.0 523.2L1455.8 525.0L1454.8 529.0L1455.9 535.0ZM1279.0 541.3L1281.0 541.6L1284.7 539.0L1286.1 537.0L1285.0 535.1L1279.0 535.4L1277.7 539.0ZM545.0 548.1L542.4 547.0L541.9 545.0L543.0 543.7L545.5 545.0L546.2 547.0ZM585.2 551.0L583.0 560.1L579.0 563.7L575.0 563.6L567.8 559.0L565.2 555.0L565.0 553.0L566.9 551.0L573.0 550.2L581.0 547.5L583.0 547.7ZM633.0 677.2L629.0 676.8L619.9 673.0L610.0 665.0L608.0 653.0L608.9 643.0L602.4 633.0L602.4 607.0L604.4 601.0L608.9 593.0L613.2 575.0L609.0 574.1L601.0 575.8L595.0 575.7L590.9 573.0L589.1 567.0L591.3 561.0L597.0 556.2L607.0 552.4L617.0 551.7L625.0 549.8L627.0 550.4L629.0 552.7L631.1 561.0L629.2 565.0L621.1 573.0L621.1 575.0L628.4 581.0L635.0 584.6L639.0 585.2L647.0 583.8L651.0 584.4L660.8 591.0L664.5 597.0L663.1 601.0L655.0 608.7L653.0 608.7L647.0 605.5L644.2 607.0L645.0 609.0L653.0 613.7L660.0 625.0L658.3 629.0L649.0 634.2L646.5 637.0L646.9 641.0L650.4 651.0L645.2 671.0L639.6 675.0ZM1003.2 607.0L1005.8 603.0L1005.0 597.9L999.0 589.9L991.0 583.6L985.0 571.6L983.0 570.1L976.5 569.0L972.6 563.0L970.1 561.0L967.0 560.0L962.9 561.0L960.9 565.0L962.2 573.0L965.0 576.6L973.0 582.3L976.7 589.0L976.5 593.0L974.7 597.0L973.0 598.1L964.4 599.0L962.4 601.0L963.1 605.0L969.0 613.6L971.0 612.7L977.0 601.3L979.0 600.5L983.0 601.4L995.0 608.1L999.0 608.4ZM1405.3 581.0L1408.1 577.0L1408.6 573.0L1407.5 569.0L1405.7 567.0L1397.0 564.2L1393.0 564.6L1389.2 567.0L1388.6 573.0L1393.0 581.4L1399.0 583.3ZM1309.0 574.9L1309.8 571.0L1309.0 568.9L1307.0 568.1L1297.0 567.6L1295.0 570.1L1296.0 575.0L1299.0 577.0L1305.0 578.2L1307.0 577.4ZM1359.6 573.0L1357.2 571.0L1351.0 569.0L1341.0 570.9L1335.0 573.3L1333.6 575.0L1333.4 579.0L1336.0 583.0L1341.0 587.5L1347.0 588.5L1351.0 587.2L1355.0 583.9ZM1243.7 605.0L1244.8 601.0L1244.2 599.0L1241.0 596.2L1237.0 595.4L1229.0 599.1L1223.0 600.4L1217.0 604.8L1215.0 604.6L1212.6 601.0L1211.7 597.0L1218.8 593.0L1219.0 590.0L1217.5 587.0L1207.8 581.0L1203.0 581.9L1201.0 584.1L1201.0 587.5L1207.7 595.0L1204.1 601.0L1205.0 606.1L1209.8 615.0L1217.0 622.4L1219.0 623.1L1221.0 622.5L1227.7 611.0L1231.0 607.5L1241.0 607.1ZM1369.0 612.2L1371.0 612.1L1383.0 604.1L1387.6 599.0L1387.2 595.0L1382.7 587.0L1377.0 582.5L1372.3 583.0L1369.2 589.0L1368.0 599.0L1365.2 607.0L1367.0 611.0ZM784.9 645.0L781.0 648.3L775.0 648.9L763.0 641.2L755.0 640.5L742.0 635.0L740.5 633.0L735.6 617.0L728.2 607.0L728.5 603.0L729.9 601.0L743.0 592.2L747.0 591.3L748.5 593.0L748.5 595.0L742.5 601.0L741.6 607.0L743.2 611.0L749.6 617.0L753.8 629.0L761.0 636.4L763.0 636.3L767.0 632.0L773.0 620.6L775.0 619.5L777.0 620.4L785.5 635.0L786.2 641.0ZM1180.8 599.0L1181.3 597.0L1180.1 595.0L1177.0 593.2L1173.0 593.5L1171.0 595.5L1170.8 599.0L1173.0 602.0L1177.0 602.0ZM1082.4 599.0L1081.0 596.5L1077.0 595.6L1073.0 597.0L1069.3 601.0L1070.0 603.0L1073.0 604.7L1079.0 605.3L1081.7 603.0ZM1332.7 607.0L1339.8 607.0L1344.5 605.0L1345.8 601.0L1344.3 597.0L1341.0 595.6L1335.0 598.9L1332.3 603.0L1331.8 605.0ZM1491.8 607.0L1491.0 608.6L1486.9 607.0L1489.0 605.8ZM1501.0 670.1L1495.0 672.1L1489.5 671.0L1487.9 669.0L1485.0 660.3L1481.0 657.8L1479.0 658.7L1473.0 667.0L1469.0 667.8L1467.0 666.8L1463.6 649.0L1463.9 645.0L1467.0 641.8L1473.0 644.6L1474.6 643.0L1467.0 640.8L1465.0 638.5L1463.2 633.0L1462.7 621.0L1469.0 613.5L1473.1 613.0L1474.7 623.0L1483.0 635.7L1491.0 635.8L1495.5 639.0L1499.0 653.4L1504.7 663.0L1504.4 667.0ZM953.9 631.0L957.0 630.6L962.4 627.0L966.8 621.0L967.0 617.8L961.0 620.8L956.0 625.0L953.2 629.0ZM663.0 635.0L661.5 633.0L661.3 625.0L662.2 623.0L665.0 621.8L669.0 621.9L670.5 623.0L671.0 625.0ZM1065.0 638.5L1071.0 638.4L1074.1 635.0L1075.0 626.9L1073.0 625.0L1069.0 627.1L1063.8 633.0L1063.0 637.0ZM1365.0 635.2L1366.8 631.0L1365.0 628.4L1363.0 628.9L1362.3 631.0L1363.0 634.4ZM1163.0 659.2L1168.1 657.0L1175.0 651.7L1179.0 647.0L1179.9 643.0L1179.1 641.0L1176.0 639.0L1161.0 634.6L1155.0 637.3L1152.3 641.0L1152.2 643.0L1156.2 649.0L1159.3 657.0ZM1023.0 643.9L1026.5 641.0L1025.4 639.0L1022.7 641.0ZM1123.0 648.0L1125.5 647.0L1128.2 643.0L1127.0 639.0L1125.0 638.2L1122.4 639.0L1120.3 643.0L1121.0 646.7ZM361.0 654.5L361.0 642.3L363.0 643.3L364.7 647.0L363.2 653.0ZM475.0 679.1L476.5 675.0L476.4 659.0L475.3 655.0L473.0 653.7L465.0 653.7L455.7 647.0L451.0 642.2L449.0 642.5L446.3 647.0L446.1 653.0L456.0 671.0L461.0 675.6L473.0 679.3ZM1126.6 679.0L1126.8 675.0L1125.0 671.6L1123.0 670.8L1113.0 672.6L1109.0 671.7L1107.0 670.1L1102.6 661.0L1102.1 653.0L1101.0 651.7L1099.0 651.3L1095.0 653.7L1093.5 657.0L1093.6 663.0L1097.6 669.0L1105.0 673.3L1111.0 679.6L1115.0 681.9L1121.0 682.1ZM1049.1 669.0L1049.0 666.4L1047.0 664.9L1044.9 665.0L1043.8 667.0L1044.8 669.0ZM1352.9 671.0L1351.0 672.4L1349.4 671.0L1349.0 668.9L1351.0 668.7ZM1527.4 689.0L1521.4 689.0L1515.0 685.9L1515.0 677.0L1517.0 672.0L1523.0 670.9L1531.0 671.7L1532.9 673.0L1529.2 687.0ZM1223.2 677.0L1221.5 675.0L1215.0 671.7L1205.0 672.4L1199.8 675.0L1198.1 679.0L1198.0 683.0L1201.0 687.9L1209.0 690.8L1215.0 684.3L1222.3 679.0ZM1387.0 693.5L1381.0 696.4L1377.0 696.4L1374.7 693.0L1375.1 683.0L1377.0 681.5L1379.0 681.8L1386.5 687.0L1388.5 691.0ZM1175.0 689.0L1175.0 686.7L1173.0 686.0L1171.2 687.0L1172.0 689.0ZM475.3 695.0L474.8 693.0L473.0 692.3L471.0 693.0L471.0 695.0L473.0 696.0ZM1441.0 699.0L1437.0 700.7L1435.0 699.4L1433.1 695.0L1433.7 693.0L1437.0 692.9L1440.3 695.0L1441.4 697.0ZM950.9 701.0L949.0 697.8L947.0 697.0L943.0 699.0L942.6 701.0L943.8 703.0L947.0 704.0L950.0 703.0ZM1529.0 720.7L1526.0 717.0L1526.5 711.0L1533.0 697.6L1535.0 696.2L1539.0 695.9L1541.2 697.0L1543.0 701.0L1541.9 711.0L1535.0 720.1L1533.0 721.0ZM1051.0 721.7L1049.0 723.3L1047.0 723.1L1037.0 718.6L1033.4 709.0L1028.5 705.0L1027.8 703.0L1029.0 701.0L1032.0 699.0L1035.0 698.6L1045.0 704.0L1050.9 717.0ZM1593.0 717.1L1587.7 709.0L1587.5 707.0L1591.0 702.1L1597.0 697.6L1599.0 697.3L1599.8 703.0L1598.7 711.0L1597.0 714.7ZM1461.0 738.7L1458.2 737.0L1457.0 728.8L1451.0 722.1L1450.5 719.0L1452.3 713.0L1455.3 707.0L1459.0 703.7L1469.0 700.2L1475.0 700.0L1478.1 703.0L1478.2 707.0L1469.0 713.2L1464.4 721.0L1465.0 724.3L1469.7 729.0L1469.3 733.0L1465.0 737.7ZM1155.0 740.4L1160.9 737.0L1163.5 733.0L1160.2 721.0L1160.0 715.0L1158.9 713.0L1151.0 707.8L1147.0 702.2L1143.0 701.9L1141.0 704.9L1140.4 713.0L1134.0 725.0L1125.1 729.0L1127.2 733.0L1131.0 735.0L1137.0 730.2L1141.0 730.6L1149.0 738.6L1153.0 740.5ZM1293.3 713.0L1293.0 710.6L1295.0 709.7L1296.7 711.0L1295.6 713.0ZM1553.0 723.9L1551.0 721.3L1551.4 719.0L1553.0 716.5L1557.0 715.7L1559.0 717.8L1559.6 721.0L1557.0 723.2ZM1089.0 725.6L1086.9 725.0L1086.2 721.0L1089.0 717.7L1091.0 717.9L1093.0 719.6L1093.3 723.0ZM1587.0 725.0L1583.0 727.2L1580.1 727.0L1578.0 725.0ZM1241.6 739.0L1239.0 739.0L1235.8 737.0L1234.1 733.0L1235.0 729.8L1239.0 729.0L1241.6 731.0L1243.2 737.0ZM1015.8 773.0L1016.8 771.0L1015.2 769.0L1003.0 765.1L998.6 761.0L999.1 757.0L1006.5 747.0L1007.4 743.0L1006.6 739.0L1001.0 734.2L997.0 733.4L993.0 734.8L988.9 741.0L988.7 749.0L982.6 753.0L979.5 757.0L990.3 763.0L994.1 769.0L997.0 771.0L1013.0 773.5ZM1219.0 777.7L1215.0 775.9L1210.9 769.0L1207.0 765.3L1203.0 764.2L1195.0 764.2L1191.4 757.0L1193.0 753.9L1211.0 744.9L1217.0 739.5L1221.0 740.8L1233.0 751.4L1236.0 755.0L1237.2 759.0L1235.0 765.5L1227.0 770.7L1221.7 777.0ZM937.0 785.4L941.0 786.3L945.0 784.9L952.5 775.0L974.6 759.0L965.1 753.0L959.0 745.9L955.0 744.9L953.2 747.0L952.6 755.0L943.8 763.0L934.0 781.0L934.3 783.0ZM399.2 757.0L401.0 758.4L405.0 756.0L410.8 749.0L409.8 747.0L403.0 745.9L399.6 747.0L398.1 751.0ZM923.0 784.7L925.8 783.0L926.8 779.0L924.0 775.0L919.0 773.1L917.0 774.3L916.1 777.0L917.0 782.8L919.0 784.9ZM676.0 1039.0L677.6 1031.0L683.8 1023.0L686.4 1015.0L690.8 1007.0L691.9 997.0L690.3 991.0L678.0 983.0L677.2 979.0L687.4 963.0L695.0 955.7L699.0 953.3L707.0 955.2L709.0 954.7L711.3 951.0L711.7 939.0L716.7 935.0L727.0 933.1L729.0 931.8L730.3 929.0L729.1 921.0L729.6 917.0L735.0 912.5L743.0 910.9L743.9 909.0L739.5 899.0L739.9 893.0L747.2 875.0L753.8 867.0L754.4 865.0L748.1 853.0L747.8 849.0L760.5 821.0L759.7 815.0L755.0 803.6L754.4 795.0L756.2 793.0L763.0 790.4L771.0 789.9L775.6 793.0L779.4 803.0L793.8 811.0L799.0 815.5L801.2 819.0L800.0 829.0L803.7 837.0L804.2 841.0L795.8 865.0L789.6 875.0L789.2 879.0L791.0 888.8L799.0 899.6L800.5 907.0L800.5 913.0L792.3 923.0L789.0 931.2L785.0 932.6L777.0 929.6L769.0 934.4L766.9 939.0L768.9 949.0L765.0 955.8L755.0 960.7L747.0 967.5L738.6 971.0L736.7 973.0L732.6 983.0L729.0 986.7L716.9 991.0L714.0 999.0L708.3 1009.0L707.3 1015.0L709.0 1017.7L720.3 1023.0L726.6 1039.0ZM1487.0 800.9L1484.6 799.0L1484.2 797.0L1486.4 793.0L1489.0 792.3L1491.0 795.0L1491.0 797.0L1489.0 800.5ZM1085.0 842.0L1082.2 839.0L1082.1 837.0L1085.6 831.0L1089.0 816.3L1093.0 812.4L1097.0 811.8L1100.8 813.0L1103.0 815.5L1104.8 821.0L1105.3 825.0L1104.3 829.0L1101.0 831.9L1094.4 835.0L1091.0 841.3L1089.0 842.6ZM1389.0 829.8L1384.8 825.0L1385.0 819.6L1393.0 814.8L1397.0 814.9L1398.0 819.0L1395.5 827.0L1393.0 829.8ZM430.0 825.0L427.0 825.0L426.2 827.0L429.0 827.2ZM1398.1 853.0L1396.0 849.0L1398.0 843.0L1401.1 841.0L1411.2 839.0L1412.4 837.0L1412.8 831.0L1415.0 828.9L1417.0 829.0L1418.3 835.0L1425.8 841.0L1426.2 843.0L1423.0 844.3L1415.0 845.0L1409.7 851.0L1406.2 853.0L1401.0 854.0ZM1067.5 841.0L1063.0 842.7L1057.8 841.0L1055.6 831.0L1057.0 829.1L1067.9 837.0L1068.7 839.0ZM442.9 853.0L445.0 854.2L447.0 853.9L459.0 847.0L467.0 846.2L469.1 845.0L469.2 841.0L467.0 838.3L464.0 837.0L453.0 836.3L449.0 840.2L442.9 851.0ZM999.9 843.0L998.3 839.0L995.0 837.8L991.0 839.7L988.8 843.0L989.3 845.0L993.0 846.2L998.8 845.0ZM397.0 886.5L401.0 885.0L402.4 883.0L403.1 879.0L401.0 876.9L397.0 878.1L394.8 881.0L394.5 885.0ZM1176.2 889.0L1175.3 887.0L1176.1 885.0L1178.9 883.0L1181.0 883.2L1182.4 885.0L1181.0 888.9ZM1093.0 903.1L1091.0 902.1L1090.7 895.0L1084.6 891.0L1082.9 889.0L1083.0 886.8L1087.0 885.6L1093.3 887.0L1094.1 893.0L1097.8 899.0L1097.1 901.0ZM855.0 924.9L854.0 923.0L855.0 920.4L861.0 917.8L869.0 908.4L871.0 907.4L873.0 907.9L875.0 917.0L873.0 923.0L869.0 925.0L863.0 923.5ZM1083.0 927.3L1079.0 928.6L1077.0 927.4L1074.4 921.0L1075.0 916.6L1077.0 915.4L1079.0 915.9L1083.4 923.0ZM1163.0 935.9L1162.7 931.0L1165.0 927.4L1169.0 923.6L1171.0 922.7L1173.0 923.4L1173.6 927.0L1171.0 933.4L1167.0 936.1ZM1067.0 943.0L1066.5 941.0L1069.0 937.7L1073.0 935.8L1075.0 936.5L1076.1 939.0L1074.9 943.0L1071.0 944.3ZM847.3 975.0L848.0 969.0L851.0 964.2L861.0 959.7L869.0 953.7L889.0 951.6L895.2 953.0L898.8 957.0L899.2 961.0L897.9 965.0L893.0 968.0L885.0 967.9L875.0 961.6L873.0 961.3L865.0 965.7L855.7 975.0L851.0 976.3ZM1063.0 988.7L1057.0 986.6L1051.7 981.0L1049.9 977.0L1055.4 969.0L1057.0 958.8L1059.0 956.0L1061.0 955.3L1067.9 963.0L1069.7 969.0L1077.1 979.0L1071.0 982.0ZM1126.0 989.0L1123.0 990.9L1107.0 992.9L1105.0 994.7L1099.0 1005.7L1095.0 1008.4L1089.0 1008.6L1085.6 1005.0L1082.4 997.0L1082.4 987.0L1081.3 983.0L1083.0 981.1L1093.0 986.6L1101.0 987.8L1104.1 985.0L1103.8 979.0L1095.0 968.3L1075.0 966.7L1072.6 965.0L1073.5 963.0L1079.0 958.8L1087.0 957.4L1091.0 958.8L1097.0 965.2L1105.0 964.5L1109.0 965.7L1115.5 971.0L1120.2 983.0L1123.0 986.0L1125.6 987.0ZM967.0 987.5L968.0 983.0L967.0 980.2L961.0 978.1L957.7 979.0L957.9 983.0L961.0 987.5L965.0 989.1ZM905.0 992.3L901.0 992.9L895.8 989.0L894.5 985.0L896.7 981.0L901.0 980.2L905.3 983.0L907.2 989.0ZM845.0 992.6L842.1 991.0L841.0 982.1L843.0 982.3L846.1 989.0ZM1121.0 1002.2L1118.7 1001.0L1119.0 999.4L1121.0 998.5L1122.5 1001.0ZM817.0 1009.7L816.6 1007.0L819.0 1003.9L823.0 1003.0L825.0 1004.9L825.0 1007.0L823.0 1010.1L819.0 1011.0ZM953.0 1016.9L957.0 1015.8L958.9 1011.0L957.4 1005.0L955.0 1003.2L952.2 1005.0L948.1 1013.0L948.8 1015.0ZM1139.0 1018.9L1137.0 1017.1L1136.6 1015.0L1137.6 1009.0L1141.0 1006.6L1145.0 1006.9L1146.3 1009.0L1145.0 1014.8L1143.0 1017.4ZM1312.2 1011.0L1309.2 1015.0L1305.0 1016.4L1301.0 1015.9L1299.0 1013.0L1301.0 1008.4L1305.0 1006.1L1309.7 1007.0ZM1051.0 1028.0L1048.5 1025.0L1048.6 1019.0L1053.0 1009.0L1055.0 1008.9L1055.8 1013.0L1054.4 1025.0L1053.0 1027.4ZM843.0 1029.3L839.1 1025.0L839.4 1021.0L843.0 1017.7L848.1 1017.0L849.9 1021.0L849.0 1027.0L847.0 1029.1ZM1084.6 1039.0L1089.0 1025.3L1091.0 1022.7L1093.0 1022.5L1095.0 1024.5L1097.7 1031.0L1096.3 1039.0ZM1234.8 1039.0L1228.6 1039.0L1229.0 1036.1L1231.0 1034.3L1233.0 1034.7ZM1447.3 1039.0L1430.0 1039.0L1432.9 1035.0L1437.0 1034.2L1443.0 1035.6ZM1486.3 1039.0L1479.9 1039.0L1483.0 1036.4L1485.0 1036.9Z"/>
<path fill="#389b8b" fill-rule="evenodd" d="M480.1 301.0L478.2 303.0L475.0 303.9L473.0 303.6L471.3 301.0ZM777.9 311.0L778.0 307.0L781.0 305.2L793.0 305.0L799.0 307.0L801.5 301.0L812.1 301.0L814.3 307.0L811.8 309.0L809.0 309.3L799.0 307.0L792.9 313.0L785.0 316.6L781.0 315.4ZM837.1 301.0L835.2 305.0L829.0 308.7L821.0 307.5L819.0 305.0L819.5 301.0ZM949.0 619.5L945.1 619.0L941.0 613.7L935.0 610.2L923.6 601.0L923.1 599.0L925.9 587.0L923.1 579.0L923.0 569.0L914.5 557.0L907.0 542.6L905.0 541.5L903.0 542.0L893.0 547.8L889.0 548.2L873.0 541.7L861.0 539.2L849.0 530.8L845.9 527.0L843.6 521.0L843.5 513.0L845.0 510.3L851.8 505.0L852.9 503.0L852.2 501.0L849.0 498.5L845.0 497.5L837.0 501.8L835.0 501.7L829.0 499.1L825.4 495.0L825.0 492.3L826.2 489.0L829.0 486.0L833.0 483.8L837.0 483.9L847.0 488.4L855.0 490.2L861.0 489.8L865.0 487.5L869.0 481.0L869.5 475.0L869.0 473.9L859.0 472.8L856.6 471.0L855.3 467.0L859.0 464.4L865.0 464.9L871.0 472.9L885.0 469.5L892.2 451.0L900.5 437.0L906.7 433.0L907.6 431.0L907.5 425.0L903.0 406.5L897.0 394.4L893.0 392.1L883.0 393.1L876.1 387.0L875.0 383.4L877.0 378.5L884.6 373.0L886.5 369.0L879.0 368.1L878.2 367.0L876.6 359.0L866.1 345.0L863.3 337.0L857.3 327.0L858.2 323.0L860.0 321.0L875.0 311.0L874.3 301.0L1023.1 301.0L1021.4 307.0L1017.0 309.7L1001.0 312.6L983.0 310.0L981.0 311.5L981.2 315.0L984.8 319.0L990.3 321.0L1009.0 323.4L1019.0 331.5L1028.9 335.0L1030.1 339.0L1025.4 347.0L1025.4 353.0L1028.3 357.0L1041.7 369.0L1047.0 377.8L1053.1 383.0L1054.2 387.0L1053.0 389.5L1051.0 389.4L1046.3 381.0L1043.0 379.9L1027.0 381.6L1021.0 384.3L1019.0 383.8L1013.6 377.0L1007.0 375.1L1004.3 377.0L997.9 391.0L997.2 397.0L1005.0 411.5L1007.0 412.7L1009.0 411.1L1012.1 405.0L1015.0 402.5L1019.0 400.8L1023.0 401.4L1025.7 405.0L1026.1 419.0L1027.0 421.6L1041.0 422.6L1047.0 424.5L1050.2 427.0L1050.1 439.0L1053.2 445.0L1061.0 452.4L1073.0 455.9L1074.7 459.0L1074.0 471.0L1064.6 475.0L1062.1 479.0L1062.8 483.0L1069.1 493.0L1073.0 494.6L1083.0 494.9L1085.6 499.0L1086.0 505.0L1084.9 513.0L1077.0 516.4L1067.0 524.1L1063.1 513.0L1061.0 510.0L1047.0 508.5L1043.0 505.6L1037.0 497.4L1033.0 497.3L1031.0 498.7L1027.0 505.9L1013.0 502.8L1007.0 503.7L1003.0 505.7L999.2 509.0L996.3 517.0L987.2 529.0L989.4 533.0L993.0 536.4L1001.3 539.0L1002.3 541.0L1002.1 545.0L999.0 550.6L997.0 551.2L993.0 544.6L989.0 543.2L965.0 550.0L951.0 557.1L949.0 555.2L947.0 548.2L945.0 545.3L943.0 544.8L939.0 547.0L936.9 551.0L937.4 557.0L941.0 559.8L947.0 559.6L949.0 561.0L950.4 577.0L947.9 589.0L953.0 596.7L953.6 605.0L956.7 611.0L955.0 615.2ZM1639.0 716.5L1631.0 714.1L1625.0 707.0L1617.0 701.6L1608.6 691.0L1607.1 685.0L1608.9 677.0L1608.6 673.0L1602.4 665.0L1597.1 651.0L1591.0 646.3L1570.6 635.0L1567.0 630.8L1561.0 627.9L1559.0 625.7L1558.7 619.0L1567.0 613.6L1573.4 601.0L1573.7 597.0L1572.6 595.0L1569.0 592.2L1561.0 590.6L1541.0 577.5L1521.0 560.0L1513.0 549.8L1485.0 531.9L1478.4 529.0L1477.1 527.0L1477.0 521.9L1481.0 520.2L1480.7 515.0L1474.9 509.0L1463.0 505.7L1461.7 503.0L1463.4 501.0L1467.0 499.5L1477.0 501.2L1481.0 499.5L1482.4 497.0L1482.5 493.0L1478.2 485.0L1473.0 483.5L1461.0 486.4L1457.0 486.4L1449.0 479.5L1445.0 480.8L1442.4 483.0L1438.0 493.0L1441.0 495.7L1451.0 496.1L1452.8 499.0L1451.8 501.0L1443.0 503.4L1437.5 509.0L1436.1 517.0L1441.0 535.0L1440.1 537.0L1435.0 541.5L1422.6 547.0L1422.6 553.0L1425.6 561.0L1422.7 565.0L1417.0 567.6L1407.0 561.5L1391.0 554.5L1385.0 546.4L1383.2 541.0L1389.2 531.0L1389.9 513.0L1387.9 509.0L1383.0 503.8L1379.0 502.9L1377.3 505.0L1381.6 519.0L1377.8 527.0L1378.4 537.0L1377.0 538.2L1373.0 538.6L1369.0 536.6L1361.6 525.0L1349.8 515.0L1359.1 509.0L1361.3 503.0L1360.2 499.0L1355.0 495.9L1349.0 488.6L1345.0 486.3L1341.0 487.4L1331.0 495.3L1327.0 493.9L1324.7 489.0L1326.3 485.0L1337.0 476.1L1341.0 474.5L1351.0 476.3L1355.3 475.0L1356.3 471.0L1352.7 463.0L1352.8 461.0L1355.0 458.4L1357.0 458.3L1365.0 462.2L1375.7 463.0L1378.9 465.0L1379.2 467.0L1373.0 474.6L1370.4 481.0L1365.8 487.0L1365.0 491.3L1367.0 495.0L1369.0 494.8L1370.2 493.0L1371.2 485.0L1380.6 477.0L1383.8 469.0L1387.2 465.0L1390.7 457.0L1393.0 455.4L1397.0 455.2L1399.8 467.0L1407.0 472.2L1415.0 474.0L1425.0 473.3L1429.0 471.8L1431.0 468.1L1431.2 463.0L1429.5 457.0L1427.0 453.0L1421.0 448.9L1407.0 450.0L1403.1 449.0L1401.6 445.0L1401.7 439.0L1409.0 429.9L1419.0 421.8L1423.0 419.6L1433.0 417.4L1437.0 414.9L1440.0 411.0L1443.0 400.1L1445.0 400.2L1456.5 407.0L1471.0 409.4L1481.0 417.8L1485.0 416.2L1487.1 413.0L1486.9 411.0L1483.0 406.1L1479.0 404.5L1469.0 403.6L1463.0 400.5L1460.3 397.0L1461.6 393.0L1467.0 385.6L1472.2 381.0L1477.0 379.6L1483.0 381.5L1485.6 385.0L1485.4 391.0L1487.0 394.3L1497.0 399.8L1507.0 408.0L1511.6 415.0L1519.0 417.6L1523.0 417.0L1526.3 415.0L1527.8 413.0L1527.5 411.0L1516.1 407.0L1514.0 405.0L1513.9 403.0L1516.3 399.0L1525.5 391.0L1529.0 380.9L1533.6 373.0L1532.5 365.0L1535.0 359.6L1541.0 357.7L1550.0 361.0L1550.9 363.0L1547.5 371.0L1547.0 375.0L1549.0 376.9L1553.0 377.8L1559.1 377.0L1561.2 371.0L1559.3 359.0L1565.7 351.0L1568.2 345.0L1570.9 325.0L1569.0 321.6L1565.0 320.6L1559.0 321.3L1549.0 326.1L1539.0 326.9L1535.5 329.0L1534.7 331.0L1539.4 337.0L1540.7 343.0L1538.6 347.0L1533.0 350.4L1529.0 350.3L1526.8 349.0L1522.1 339.0L1519.0 337.5L1505.0 338.4L1499.0 341.9L1494.9 347.0L1494.6 351.0L1505.0 353.4L1507.0 355.0L1511.0 361.7L1517.2 367.0L1510.7 371.0L1508.5 379.0L1505.0 384.5L1499.0 385.4L1491.0 383.5L1489.4 381.0L1495.9 369.0L1489.0 355.8L1479.0 352.4L1471.0 344.0L1461.0 342.4L1459.0 339.2L1459.3 337.0L1465.3 331.0L1466.0 329.0L1465.4 325.0L1463.0 321.8L1459.0 319.7L1451.0 323.2L1445.0 323.9L1444.1 323.0L1444.6 311.0L1451.0 310.9L1461.0 315.3L1467.0 313.2L1477.0 312.9L1483.8 309.0L1487.2 301.0L1510.8 301.0L1510.9 307.0L1509.0 309.9L1495.0 314.4L1490.5 317.0L1488.5 321.0L1488.0 325.0L1489.0 328.1L1491.0 328.6L1508.1 323.0L1516.3 317.0L1520.0 311.0L1518.2 301.0L1566.2 301.0L1571.0 306.1L1581.0 308.8L1584.0 311.0L1586.6 319.0L1591.2 325.0L1593.6 335.0L1595.0 337.7L1597.0 338.3L1599.0 335.2L1599.6 331.0L1597.7 321.0L1601.9 313.0L1600.2 311.0L1592.2 309.0L1590.6 307.0L1589.8 301.0L1639.0 301.0L1639.0 312.9L1636.7 315.0L1639.0 316.8L1639.0 355.2L1634.9 357.0L1633.8 365.0L1631.0 367.2L1627.0 367.7L1622.0 361.0L1617.0 358.1L1613.0 359.0L1611.7 363.0L1615.0 368.6L1621.7 371.0L1620.9 379.0L1623.0 383.0L1629.0 382.8L1635.0 375.6L1639.0 372.6L1639.0 393.7L1634.7 395.0L1625.0 403.0L1609.0 401.6L1599.0 403.4L1596.4 407.0L1594.2 419.0L1597.2 425.0L1603.0 429.4L1607.0 430.8L1610.1 429.0L1615.0 419.6L1621.0 414.7L1625.0 413.5L1639.0 414.6L1639.0 499.2L1627.0 497.7L1623.2 495.0L1614.4 479.0L1613.9 475.0L1617.6 469.0L1617.4 467.0L1615.5 465.0L1607.0 462.0L1603.6 463.0L1599.0 468.7L1593.0 468.2L1585.2 463.0L1573.0 448.3L1561.0 455.8L1549.5 469.0L1549.1 473.0L1551.0 478.7L1557.0 482.1L1558.9 485.0L1557.0 489.8L1555.0 488.7L1551.0 482.5L1547.0 480.8L1537.0 483.0L1533.9 485.0L1532.8 487.0L1533.2 489.0L1539.0 496.1L1541.7 505.0L1546.6 511.0L1544.8 519.0L1549.8 529.0L1549.6 533.0L1543.0 538.6L1541.0 541.6L1540.6 545.0L1543.0 549.0L1547.0 549.8L1553.0 547.1L1558.1 539.0L1567.0 531.0L1571.0 530.6L1581.0 535.8L1585.4 535.0L1588.4 531.0L1590.9 523.0L1587.3 509.0L1589.7 505.0L1593.0 503.2L1605.0 503.5L1607.0 504.2L1608.5 507.0L1607.0 513.7L1599.6 523.0L1600.8 533.0L1603.0 536.0L1613.0 540.3L1619.0 540.6L1622.9 539.0L1627.1 535.0L1639.0 528.0L1639.0 545.0L1633.4 549.0L1631.9 555.0L1634.5 563.0L1633.8 571.0L1639.0 572.3L1639.0 599.5L1634.4 601.0L1633.0 603.0L1637.7 611.0L1636.5 613.0L1625.0 618.9L1621.6 623.0L1620.1 627.0L1623.0 629.9L1639.0 636.9L1635.0 643.0L1635.3 645.0L1639.0 646.9L1639.0 692.8L1631.0 692.3L1628.3 695.0L1629.0 698.2L1631.0 699.4L1639.0 699.4ZM361.0 313.3L361.0 309.6L369.0 309.0ZM507.2 345.0L505.3 343.0L505.2 341.0L510.4 333.0L509.6 323.0L511.1 317.0L514.6 311.0L517.0 309.0L523.0 308.5L528.3 313.0L529.7 317.0L528.0 321.0L519.5 331.0L519.5 343.0L515.0 345.4ZM1397.0 318.3L1390.7 317.0L1390.3 313.0L1393.0 310.5L1397.0 310.8L1398.6 313.0L1398.6 317.0ZM1433.0 368.4L1429.0 370.2L1425.0 370.0L1417.0 367.2L1415.2 365.0L1415.6 363.0L1423.9 355.0L1425.6 349.0L1423.0 345.0L1419.0 341.9L1401.8 333.0L1400.3 329.0L1401.0 322.5L1413.0 321.1L1415.0 321.5L1423.0 328.6L1439.0 328.4L1437.7 345.0L1441.7 355.0L1442.1 359.0ZM421.0 347.0L417.2 345.0L415.9 341.0L417.2 331.0L419.0 327.8L421.0 326.9L423.0 328.7L426.0 339.0L424.4 345.0ZM389.5 339.0L388.4 337.0L389.0 333.0L393.0 328.1L397.0 328.2L400.4 331.0L401.0 333.1L398.5 337.0L393.0 339.5ZM779.0 409.9L778.0 409.0L777.9 399.0L771.0 389.6L764.9 385.0L763.1 381.0L764.9 377.0L767.0 375.4L773.2 375.0L774.2 373.0L768.3 359.0L768.6 341.0L777.0 330.0L783.0 328.4L787.0 329.5L791.0 333.0L792.4 337.0L793.7 351.0L792.9 355.0L789.8 361.0L788.3 375.0L782.0 383.0L780.3 397.0L783.8 407.0L781.9 409.0ZM495.0 349.3L493.8 343.0L489.3 333.0L491.0 329.9L494.4 331.0L496.9 335.0L496.3 347.0ZM837.0 353.8L834.8 353.0L837.2 343.0L833.6 335.0L835.0 332.4L838.4 333.0L840.5 335.0L840.4 343.0L842.3 349.0L841.0 352.6ZM533.9 359.0L533.5 357.0L535.0 354.3L539.0 353.5L541.1 355.0L540.3 357.0L537.7 359.0L535.0 359.7ZM1459.0 369.3L1453.0 368.7L1448.8 365.0L1448.9 361.0L1455.0 356.2L1459.0 356.5L1460.4 359.0L1461.1 365.0ZM413.0 375.8L410.4 373.0L411.0 369.3L414.0 365.0L417.0 363.9L420.2 367.0L419.8 371.0L417.0 374.4ZM1593.0 378.8L1594.8 377.0L1592.2 371.0L1587.0 364.8L1585.0 363.8L1583.0 364.3L1577.8 371.0L1577.0 375.0L1577.8 377.0L1581.0 379.0ZM542.8 383.0L540.9 387.0L537.0 389.2L529.4 389.0L524.6 387.0L521.0 383.7L519.0 383.4L515.0 387.8L509.0 389.4L504.5 387.0L502.6 381.0L505.0 373.9L507.0 372.5L511.0 372.0L521.0 375.9L527.0 373.9L539.0 377.3L541.5 379.0ZM446.0 383.0L443.0 384.2L438.6 383.0L437.0 379.0L439.0 375.2L443.0 374.4L446.9 377.0L447.4 381.0ZM811.0 383.8L809.0 383.1L806.7 379.0L807.0 375.8L809.0 373.9L811.0 374.1L813.5 377.0L813.0 381.8ZM1388.9 411.0L1387.8 403.0L1389.7 397.0L1393.0 394.4L1397.0 393.3L1405.0 398.3L1409.0 397.0L1412.0 385.0L1417.0 376.7L1421.0 375.3L1425.0 375.8L1440.4 383.0L1437.0 395.0L1432.3 401.0L1427.0 404.7L1419.0 404.6L1417.0 405.7L1411.0 413.3L1407.0 416.6L1395.0 416.8ZM1091.0 395.6L1087.0 395.3L1084.8 393.0L1085.3 389.0L1089.0 386.4L1093.1 387.0L1095.5 389.0L1096.2 391.0L1095.2 393.0ZM1580.5 395.0L1577.8 391.0L1575.0 389.9L1569.0 391.2L1566.3 395.0L1567.0 397.4L1571.0 398.4L1579.0 397.3ZM715.0 426.9L712.9 423.0L711.9 417.0L714.3 407.0L715.0 394.9L719.0 393.0L735.0 392.1L739.0 393.2L747.0 397.9L753.2 399.0L755.0 402.8L756.0 415.0L754.9 419.0L751.0 423.6L747.0 425.7L737.0 427.2L727.0 431.2L721.0 430.8ZM805.0 410.9L798.6 409.0L795.9 407.0L795.3 405.0L799.0 396.2L803.0 393.9L808.9 395.0L810.4 397.0ZM1543.0 407.2L1543.0 405.0L1541.0 404.2L1540.1 405.0L1539.9 407.0L1541.0 408.2ZM911.0 472.9L919.0 471.8L924.6 467.0L928.0 457.0L927.7 447.0L933.0 438.8L937.0 435.3L945.0 431.0L951.0 425.3L958.2 423.0L957.2 421.0L948.2 417.0L947.2 415.0L947.0 408.8L945.0 406.4L942.2 407.0L941.0 408.7L942.1 417.0L940.2 419.0L927.0 423.8L919.0 432.0L908.2 435.0L906.8 441.0L910.0 451.0L906.9 463.0L906.8 467.0L908.4 471.0ZM1567.0 422.7L1571.0 421.5L1574.6 417.0L1573.6 413.0L1571.0 411.0L1567.0 410.9L1563.0 416.1L1563.6 421.0ZM821.0 457.8L810.4 455.0L803.7 449.0L805.4 435.0L803.9 419.0L805.0 414.0L807.0 413.1L813.0 414.6L825.0 415.1L831.2 421.0L834.1 427.0L834.5 433.0L825.0 454.4ZM1115.7 419.0L1113.2 423.0L1103.0 426.7L1099.0 425.4L1097.5 421.0L1098.7 417.0L1105.0 415.2L1113.0 416.0ZM1081.0 436.1L1079.0 436.9L1074.5 435.0L1070.5 431.0L1069.0 426.4L1073.0 424.6L1077.0 426.0L1081.2 431.0L1081.9 433.0ZM1464.4 435.0L1463.0 431.6L1459.0 429.8L1449.0 432.2L1447.0 431.3L1443.0 423.1L1441.0 423.1L1437.0 426.2L1427.3 439.0L1426.9 441.0L1441.0 446.5L1445.0 442.4L1447.0 442.1L1453.0 445.7L1457.0 445.8L1461.0 443.5L1463.0 441.0ZM1544.8 443.0L1549.0 445.4L1553.0 444.6L1558.7 437.0L1559.0 433.0L1553.0 432.0L1545.0 433.4L1543.5 437.0ZM1267.0 456.1L1265.0 456.9L1261.3 455.0L1259.0 448.8L1253.3 443.0L1253.4 441.0L1255.0 439.4L1263.0 438.6L1267.0 440.2L1269.8 443.0L1270.2 449.0ZM1501.0 495.9L1505.0 496.9L1511.1 495.0L1522.1 479.0L1521.9 469.0L1523.0 465.0L1526.3 461.0L1533.4 457.0L1535.0 455.0L1534.8 451.0L1529.0 445.6L1523.0 445.2L1513.3 453.0L1509.0 458.0L1507.0 458.8L1501.0 455.4L1497.3 457.0L1496.0 459.0L1496.2 461.0L1498.2 463.0L1509.0 464.8L1513.4 469.0L1515.2 473.0L1513.6 477.0L1499.9 487.0L1498.5 489.0L1498.4 493.0ZM797.0 451.4L795.0 449.5L795.0 447.0L798.0 449.0ZM1483.6 451.0L1483.3 449.0L1481.0 446.5L1479.0 445.7L1476.2 447.0L1476.2 449.0L1479.0 451.6L1481.0 452.2ZM1451.0 461.2L1451.1 459.0L1449.0 455.7L1443.0 450.8L1442.9 453.0L1449.0 462.4ZM1000.1 465.0L999.0 462.7L996.7 463.0L994.9 465.0L997.0 466.9ZM1288.0 475.0L1285.0 477.7L1281.0 477.8L1276.4 475.0L1274.2 471.0L1277.0 468.8L1285.0 468.6L1287.7 471.0ZM667.0 491.1L664.4 489.0L663.3 485.0L664.0 481.0L667.0 479.3L669.4 481.0L670.8 485.0L670.0 489.0ZM951.1 489.0L952.0 487.0L951.0 484.2L949.0 482.3L945.9 483.0L944.6 485.0L945.0 487.6L947.0 489.2ZM1005.0 493.0L1008.2 493.0L1011.0 491.0L1012.3 487.0L1011.4 485.0L1007.0 484.8L1004.0 487.0L1003.2 491.0ZM1407.0 485.3L1403.0 484.7L1394.2 489.0L1389.9 493.0L1389.4 495.0L1390.4 497.0L1397.0 498.5L1402.3 497.0L1406.7 491.0L1407.6 487.0ZM1155.0 512.3L1153.0 511.6L1148.7 495.0L1149.5 491.0L1153.0 488.9L1157.6 493.0L1160.1 503.0L1159.1 509.0ZM1331.5 593.0L1329.0 594.8L1327.0 594.9L1324.5 593.0L1319.0 584.4L1317.1 579.0L1318.1 569.0L1313.0 557.1L1311.0 556.6L1305.0 558.4L1295.0 558.8L1285.0 564.2L1279.0 561.7L1275.0 562.1L1269.0 569.0L1259.4 575.0L1253.0 584.6L1250.3 585.0L1249.3 583.0L1250.1 577.0L1254.3 569.0L1259.3 555.0L1259.5 551.0L1258.5 549.0L1254.9 547.0L1248.2 547.0L1245.6 549.0L1242.4 555.0L1239.0 558.5L1233.0 559.2L1231.2 557.0L1227.0 544.6L1213.0 543.4L1209.4 541.0L1207.3 537.0L1206.4 531.0L1207.1 525.0L1215.5 511.0L1215.6 507.0L1211.0 504.3L1205.0 503.7L1201.0 505.8L1195.0 512.3L1189.0 514.8L1187.0 514.8L1184.7 513.0L1184.2 509.0L1185.0 506.6L1193.0 497.0L1201.0 491.8L1205.0 491.6L1215.0 494.1L1231.0 487.8L1243.0 488.8L1255.0 501.3L1269.0 503.8L1283.9 515.0L1283.0 522.1L1279.0 525.5L1265.0 521.0L1260.2 521.0L1258.3 523.0L1258.9 525.0L1265.0 529.2L1268.1 533.0L1273.0 549.0L1277.0 552.2L1297.0 543.4L1305.0 536.0L1311.0 533.5L1315.8 535.0L1317.7 537.0L1314.9 547.0L1315.5 551.0L1319.0 552.0L1327.0 551.0L1329.5 547.0L1321.9 537.0L1322.8 529.0L1326.0 523.0L1332.9 517.0L1334.5 509.0L1337.0 508.3L1339.4 509.0L1343.4 513.0L1341.9 521.0L1343.9 533.0L1342.0 537.0L1336.5 543.0L1336.1 545.0L1339.3 551.0L1339.1 561.0L1337.7 563.0L1331.0 565.6L1324.3 571.0L1323.1 575.0L1323.6 581.0L1324.9 583.0L1332.2 589.0ZM1429.0 497.0L1432.4 495.0L1431.0 493.5L1428.4 495.0ZM521.0 508.6L517.0 509.8L515.0 509.0L508.7 501.0L508.5 497.0L513.0 495.1L519.0 497.6L522.8 503.0L523.0 505.0ZM1550.1 511.0L1549.8 509.0L1557.0 498.4L1559.0 499.3L1561.1 505.0L1559.0 508.8L1555.0 511.8ZM489.2 509.0L487.0 509.3L485.0 508.1L484.9 505.0L487.0 504.2L489.0 505.0ZM513.6 523.0L509.0 524.3L499.0 521.9L495.6 519.0L495.0 515.0L511.0 515.7L513.8 519.0ZM1095.0 641.3L1093.0 641.3L1085.0 636.8L1082.4 633.0L1083.4 619.0L1087.0 609.0L1088.1 599.0L1087.8 595.0L1085.0 591.6L1081.0 590.0L1077.0 590.0L1065.0 595.2L1061.0 595.6L1043.0 587.9L1035.0 592.2L1029.7 587.0L1029.5 585.0L1030.9 583.0L1035.0 581.3L1036.9 579.0L1037.5 575.0L1036.9 563.0L1031.0 555.0L1031.7 553.0L1035.0 551.2L1043.0 552.3L1051.0 546.9L1053.0 547.2L1059.0 551.5L1061.0 551.6L1064.8 549.0L1065.9 547.0L1065.9 543.0L1063.0 539.2L1057.0 536.6L1051.0 536.7L1045.9 533.0L1044.5 531.0L1044.0 527.0L1047.0 523.7L1051.0 523.3L1057.0 525.6L1065.0 523.9L1071.0 530.0L1075.0 531.8L1079.0 532.0L1083.3 527.0L1086.0 517.0L1089.0 516.4L1115.0 524.7L1119.8 529.0L1131.2 533.0L1130.6 545.0L1137.8 561.0L1138.0 571.0L1141.1 583.0L1140.3 589.0L1136.9 597.0L1133.0 601.3L1125.0 602.2L1115.0 600.0L1111.0 601.6L1109.0 603.5L1100.0 619.0L1097.2 639.0ZM1163.0 573.9L1159.0 572.1L1151.4 563.0L1150.7 559.0L1153.0 553.0L1152.8 551.0L1146.3 541.0L1143.0 533.0L1143.7 529.0L1151.0 518.2L1153.0 518.0L1163.3 529.0L1164.5 533.0L1165.3 547.0L1172.1 555.0L1167.0 569.4ZM1229.0 542.0L1237.0 539.3L1239.9 537.0L1239.6 533.0L1235.0 529.0L1231.0 529.2L1227.7 533.0L1227.0 540.5ZM1396.1 549.0L1399.0 550.0L1405.0 549.4L1416.5 545.0L1418.9 543.0L1421.0 533.0L1419.3 529.0L1417.0 527.5L1411.0 529.1L1399.0 530.0L1395.0 531.9L1393.2 535.0L1393.2 539.0ZM1563.0 586.0L1567.0 587.8L1569.0 586.9L1571.3 583.0L1571.4 579.0L1567.8 569.0L1581.0 562.0L1587.0 553.4L1590.5 551.0L1591.0 547.8L1589.0 547.0L1583.0 550.5L1573.0 552.5L1569.6 555.0L1567.3 561.0L1566.8 567.0L1561.3 573.0L1559.8 577.0L1560.2 583.0ZM1366.0 561.0L1361.0 562.9L1356.0 561.0L1352.8 555.0L1353.7 551.0L1359.0 547.9L1363.5 549.0L1367.3 555.0L1367.3 559.0ZM1453.0 595.1L1450.4 591.0L1449.7 575.0L1455.0 571.0L1458.0 567.0L1455.1 553.0L1456.2 551.0L1459.0 549.6L1465.0 549.3L1469.0 552.0L1471.9 559.0L1477.7 567.0L1478.2 581.0L1477.0 583.3L1465.1 587.0L1459.0 593.2ZM605.2 563.0L611.0 558.9L617.9 559.0L619.2 561.0L617.0 563.4L611.2 565.0L606.8 565.0ZM1193.0 577.0L1192.2 573.0L1193.9 569.0L1197.0 567.6L1201.3 569.0L1202.3 571.0L1201.4 573.0L1197.0 576.4ZM1045.0 641.6L1041.0 643.2L1038.9 643.0L1033.0 629.3L1031.0 627.4L1025.0 624.9L1020.2 617.0L1013.7 611.0L1013.1 601.0L1011.3 595.0L1000.0 579.0L1000.4 577.0L1002.7 575.0L1009.0 572.2L1013.0 574.7L1017.0 583.3L1023.8 593.0L1024.1 607.0L1027.0 612.0L1031.0 612.0L1037.0 603.8L1041.0 602.6L1059.0 608.5L1066.3 613.0L1066.7 615.0L1060.2 625.0L1057.0 626.7L1055.0 626.2L1049.0 619.1L1045.0 618.7L1041.9 621.0L1041.9 625.0L1048.5 633.0L1047.5 639.0ZM1609.0 604.0L1614.6 603.0L1618.2 601.0L1619.0 599.0L1617.4 591.0L1619.8 581.0L1617.8 579.0L1609.0 575.9L1606.2 577.0L1603.7 581.0L1602.0 595.0L1604.0 601.0L1606.0 603.0ZM495.0 700.8L491.8 697.0L486.5 679.0L482.0 669.0L481.1 647.0L483.0 645.6L491.0 644.2L493.0 642.6L496.0 637.0L497.4 631.0L497.0 616.0L499.0 613.7L507.0 609.9L510.2 607.0L510.7 605.0L506.2 593.0L507.4 585.0L509.1 583.0L513.0 581.5L525.0 579.2L529.0 579.6L532.7 583.0L538.0 591.0L537.7 601.0L541.4 609.0L540.0 617.0L536.5 623.0L529.0 627.0L525.0 627.2L519.0 622.9L515.0 621.6L509.0 622.6L506.6 625.0L506.4 629.0L510.9 641.0L517.0 645.6L525.0 646.0L528.1 649.0L528.9 653.0L527.5 655.0L525.0 656.0L515.0 655.8L511.6 659.0L508.6 665.0L506.9 675.0L504.2 681.0L503.8 695.0L501.0 699.2ZM1115.0 593.2L1119.0 591.4L1120.4 589.0L1119.6 585.0L1117.0 583.6L1113.0 584.3L1110.2 587.0L1111.2 591.0ZM1424.0 593.0L1421.0 597.2L1417.0 598.4L1414.1 597.0L1412.2 593.0L1414.7 589.0L1419.0 587.9L1423.0 589.7ZM483.0 855.3L481.0 854.9L478.4 851.0L474.4 831.0L475.8 827.0L482.5 817.0L483.2 813.0L481.0 810.5L477.0 811.1L463.2 817.0L461.0 826.8L457.0 827.7L449.7 825.0L443.0 818.5L429.5 815.0L425.7 813.0L419.0 807.3L413.0 799.8L409.0 797.5L399.0 799.6L389.0 795.4L381.0 799.5L371.0 799.1L365.0 804.6L361.0 806.3L361.0 745.1L365.0 743.1L369.0 738.5L373.0 736.4L383.0 737.6L386.4 741.0L387.4 745.0L381.0 745.5L376.2 751.0L376.0 755.0L380.8 767.0L380.8 771.0L379.7 773.0L377.0 774.5L369.0 771.6L364.7 773.0L371.0 779.3L379.0 780.9L387.0 785.3L391.0 784.5L402.5 777.0L408.3 767.0L412.1 757.0L420.6 751.0L421.4 749.0L420.4 745.0L417.0 739.3L413.0 737.0L407.0 737.8L403.0 736.3L400.5 733.0L398.2 725.0L391.0 721.8L388.3 719.0L387.6 713.0L391.3 705.0L387.7 693.0L395.6 683.0L399.8 673.0L401.0 663.0L405.6 659.0L406.1 657.0L403.0 656.6L400.6 661.0L397.0 662.4L392.3 661.0L390.2 657.0L391.0 649.2L392.7 645.0L399.0 634.6L404.6 629.0L404.8 627.0L402.0 619.0L402.2 615.0L407.0 608.0L417.0 601.2L423.0 592.0L427.0 589.6L431.0 593.1L433.1 599.0L432.3 605.0L426.0 615.0L425.2 619.0L430.8 629.0L431.0 637.8L433.3 643.0L433.2 645.0L428.7 653.0L432.9 663.0L432.9 671.0L435.0 674.4L439.0 676.5L449.1 677.0L451.2 679.0L453.1 685.0L456.7 691.0L456.8 693.0L450.0 703.0L447.8 711.0L442.8 715.0L441.5 723.0L436.0 731.0L437.0 748.3L439.0 750.9L443.0 749.4L449.9 733.0L446.3 721.0L449.1 713.0L461.0 705.6L467.0 705.7L472.9 711.0L474.6 719.0L477.0 723.0L484.2 729.0L481.0 736.8L477.0 740.0L471.0 739.8L466.5 733.0L463.0 731.0L457.5 733.0L457.0 735.0L461.0 739.0L471.0 742.0L489.0 760.3L492.4 767.0L491.9 773.0L484.9 779.0L483.7 783.0L495.0 791.9L497.1 795.0L497.2 799.0L493.4 805.0L493.2 807.0L500.8 821.0L501.2 827.0L499.0 836.7L489.0 842.2L485.6 853.0ZM641.0 630.3L637.0 631.4L633.0 629.9L627.1 621.0L625.0 620.0L611.0 619.4L607.0 615.9L606.8 609.0L609.0 605.4L613.0 603.6L621.0 603.9L623.0 602.4L624.2 599.0L623.5 593.0L625.0 591.0L639.9 595.0L634.8 601.0L633.7 605.0L634.2 609.0L637.0 612.5L645.0 618.7L647.5 623.0L646.5 627.0ZM1161.0 603.4L1159.0 604.6L1155.0 604.0L1152.8 601.0L1153.0 596.4L1155.0 595.8L1159.0 597.2L1161.0 599.0ZM1146.6 629.0L1141.0 634.2L1137.0 634.4L1129.0 628.8L1125.6 623.0L1125.1 619.0L1127.0 616.5L1133.0 614.5L1137.0 614.0L1141.0 615.1L1143.4 617.0L1146.7 623.0L1147.6 627.0ZM1186.8 629.0L1184.4 631.0L1173.0 632.4L1169.8 631.0L1168.3 629.0L1167.8 625.0L1169.0 617.9L1170.6 615.0L1175.0 614.8L1181.0 618.6L1184.3 623.0ZM890.3 691.0L888.9 687.0L889.7 685.0L897.0 680.8L905.0 671.5L918.2 663.0L929.0 657.8L943.0 653.7L948.3 645.0L951.0 642.8L967.0 634.9L971.0 636.1L977.0 640.5L979.0 641.1L981.0 640.0L986.9 631.0L989.5 621.0L993.0 617.6L999.0 616.4L1005.0 617.5L1009.0 625.7L1015.9 631.0L1015.7 633.0L1013.0 635.3L1005.0 634.0L997.4 637.0L993.6 649.0L991.0 651.7L983.0 645.3L979.0 644.3L973.3 651.0L972.2 655.0L972.8 659.0L975.0 662.7L985.4 669.0L992.9 671.0L994.6 673.0L989.4 681.0L989.4 685.0L991.0 687.5L995.0 689.4L1003.0 689.8L1005.3 691.0L1008.4 707.0L1007.6 717.0L1009.6 723.0L1009.0 725.9L1007.0 727.6L999.0 725.4L995.0 725.8L986.0 731.0L979.0 738.8L973.0 742.4L969.0 743.1L965.0 740.2L960.5 733.0L957.0 730.0L951.0 728.6L941.0 730.4L929.0 725.7L927.4 723.0L929.0 720.3L937.0 717.4L942.7 713.0L951.0 710.2L955.9 707.0L958.1 703.0L958.1 699.0L955.7 693.0L953.3 691.0L947.0 689.2L937.0 690.7L926.8 699.0L915.0 704.8L913.5 703.0L911.3 695.0L909.0 692.5L905.0 691.3L895.0 694.8ZM1611.0 638.3L1613.6 635.0L1614.6 631.0L1614.0 629.0L1609.7 625.0L1605.0 618.2L1603.0 618.6L1605.1 633.0L1607.0 635.9ZM942.9 629.0L942.1 633.0L939.0 636.0L931.0 636.9L926.5 635.0L927.0 630.5L933.0 626.4L941.0 625.3ZM1185.1 659.0L1184.6 655.0L1187.7 651.0L1195.0 648.6L1207.0 640.9L1219.0 640.9L1231.0 626.9L1235.0 625.7L1238.9 627.0L1237.5 635.0L1235.3 639.0L1221.0 645.4L1219.0 647.3L1216.1 653.0L1215.1 661.0L1213.0 663.9L1205.0 665.8L1197.0 662.5L1189.0 662.5ZM1395.0 642.5L1392.8 641.0L1393.0 639.0L1395.0 636.8L1397.0 636.3L1398.6 639.0L1397.0 641.9ZM475.3 643.0L471.8 645.0L467.0 645.4L464.1 643.0L463.9 641.0L465.5 639.0L469.0 638.2L473.0 639.9ZM637.0 667.1L633.0 668.0L630.4 667.0L629.2 665.0L633.0 651.0L631.0 647.4L623.0 646.5L621.0 645.0L620.6 641.0L622.5 639.0L629.0 638.6L635.0 640.3L639.0 643.0L641.0 646.0L642.3 651.0L639.0 664.7ZM1075.5 657.0L1073.0 658.5L1071.0 657.9L1063.3 651.0L1063.8 649.0L1067.0 646.9L1073.0 647.6L1076.3 653.0ZM1387.4 655.0L1385.0 655.6L1383.0 654.7L1382.2 653.0L1383.0 650.5L1385.0 649.9L1386.6 651.0ZM996.7 673.0L995.8 671.0L1001.0 662.9L1005.0 661.7L1015.0 664.6L1019.0 664.3L1031.0 652.5L1033.0 651.9L1033.8 653.0L1035.3 661.0L1033.0 669.4L1031.0 671.7L1023.0 675.1L1013.0 684.9L1009.0 686.1L1007.0 684.7ZM421.9 655.0L419.0 653.9L417.0 654.4L415.0 657.0L419.0 658.4L421.2 657.0ZM1147.0 682.4L1145.0 682.1L1143.0 679.5L1141.8 673.0L1147.0 659.4L1149.0 657.8L1151.0 659.3L1155.4 667.0L1156.5 671.0L1154.1 679.0ZM1575.8 669.0L1571.0 671.7L1567.0 671.0L1564.5 667.0L1565.3 663.0L1569.0 660.7L1575.0 661.4L1577.2 663.0ZM1243.0 669.0L1239.0 669.1L1236.1 667.0L1236.6 665.0L1239.0 663.9L1241.0 664.5L1243.5 667.0ZM958.4 669.0L957.0 665.5L955.0 665.7L945.5 671.0L945.8 673.0L949.9 675.0L955.0 675.2L957.7 673.0ZM1189.0 679.8L1186.9 675.0L1187.0 672.9L1189.0 670.5L1191.0 671.3L1192.0 675.0L1191.0 679.4ZM375.0 677.1L373.2 675.0L375.0 672.6L377.2 675.0ZM1107.0 703.7L1105.0 703.5L1102.0 701.0L1098.3 691.0L1086.6 683.0L1082.7 679.0L1082.7 677.0L1087.0 672.7L1089.0 671.8L1093.0 672.6L1099.8 679.0L1102.9 685.0L1107.5 699.0ZM437.0 707.0L439.2 703.0L438.2 699.0L433.0 692.3L431.0 691.0L429.0 691.6L428.7 695.0L431.7 705.0L435.0 707.6ZM1167.0 702.5L1164.1 701.0L1165.0 698.7L1167.8 699.0L1168.4 701.0ZM485.0 728.4L483.8 727.0L484.8 721.0L487.0 716.2L493.0 715.5L498.2 719.0L499.3 723.0L496.0 727.0L491.0 729.0ZM921.0 754.2L917.7 749.0L919.0 738.5L921.0 736.7L931.0 736.9L939.0 732.7L941.0 733.2L943.0 737.0L943.4 741.0L941.7 747.0L939.1 751.0L929.0 756.3L925.0 756.4ZM427.0 779.2L431.0 779.2L433.0 777.9L437.7 769.0L437.8 761.0L437.0 758.6L435.0 757.0L427.0 759.8L423.0 763.0L420.5 767.0L421.8 773.0ZM1171.0 793.1L1157.0 799.9L1153.0 799.5L1149.3 797.0L1150.3 793.0L1154.8 787.0L1155.1 783.0L1145.0 769.7L1140.3 767.0L1139.4 765.0L1141.3 761.0L1145.0 758.5L1147.0 758.6L1148.3 763.0L1150.3 765.0L1161.0 768.7L1165.0 768.6L1171.0 765.8L1175.0 767.6L1176.8 773.0L1176.9 779.0L1173.0 790.1ZM943.0 882.8L933.0 878.4L932.1 869.0L929.5 863.0L927.9 853.0L918.1 841.0L913.9 833.0L909.0 830.3L902.7 829.0L915.0 821.6L921.0 815.3L930.9 811.0L932.6 807.0L928.5 801.0L929.2 797.0L933.0 794.9L941.0 794.0L949.0 789.7L953.0 786.1L961.6 775.0L967.5 771.0L973.0 770.2L975.6 773.0L977.0 779.7L989.0 782.9L991.8 787.0L989.7 793.0L979.0 800.5L975.3 805.0L974.1 811.0L974.9 819.0L973.6 823.0L971.0 824.7L969.0 824.2L965.0 817.5L963.0 816.9L955.0 822.5L953.0 821.9L951.6 819.0L950.6 811.0L949.0 807.9L945.0 805.5L941.0 805.1L937.3 807.0L936.2 809.0L939.2 819.0L939.0 823.4L929.0 826.9L926.2 831.0L927.3 837.0L929.0 839.1L933.0 840.7L936.8 839.0L941.0 830.5L943.0 829.8L949.0 832.1L957.0 840.8L959.0 841.3L967.0 839.9L975.2 841.0L974.9 847.0L977.6 857.0L975.5 859.0L969.0 860.4L966.0 863.0L964.7 869.0L965.6 879.0L961.0 880.4L953.0 878.5L947.0 882.6ZM1007.0 788.8L1004.8 789.0L1000.5 787.0L998.6 783.0L999.6 781.0L1003.0 779.5L1007.7 781.0L1009.3 785.0ZM1043.9 797.0L1041.0 799.3L1035.0 799.8L1029.0 798.4L1027.0 795.0L1030.3 791.0L1037.0 790.1L1042.9 793.0ZM453.0 811.5L457.8 811.0L461.0 802.9L459.0 802.8L455.0 805.3L452.6 809.0ZM361.0 861.9L361.0 809.5L365.0 809.8L369.0 811.8L374.2 823.0L383.1 829.0L384.7 831.0L384.7 833.0L381.0 839.1L373.0 840.9L370.2 843.0L367.2 849.0L366.2 859.0ZM411.0 830.4L397.0 821.9L397.5 815.0L401.0 809.5L405.0 809.6L408.1 811.0L413.3 817.0L414.9 825.0ZM1097.0 823.9L1095.0 824.0L1093.8 821.0L1095.0 818.7L1097.0 819.0L1097.8 821.0ZM1137.0 846.9L1130.9 845.0L1129.3 841.0L1131.9 825.0L1133.5 823.0L1137.0 821.6L1143.0 825.2L1145.2 831.0L1142.3 843.0L1141.0 845.3ZM980.9 835.0L983.4 831.0L987.5 831.0L983.2 835.0ZM435.0 870.6L429.0 871.9L423.0 871.4L413.5 865.0L409.0 860.6L406.3 855.0L406.2 847.0L407.8 839.0L411.0 834.6L425.0 841.1L427.0 840.8L435.0 833.0L439.0 831.7L441.9 833.0L442.9 837.0L441.5 841.0L433.6 849.0L432.2 853.0L433.1 859.0L436.9 867.0L436.8 869.0ZM796.7 839.0L796.9 843.0L792.6 855.0L789.1 861.0L787.0 862.0L783.0 860.8L777.0 854.6L769.0 856.3L765.6 853.0L765.7 849.0L767.0 847.7L775.0 845.7L783.0 839.0L789.0 835.7L793.0 835.2ZM445.0 885.2L443.4 881.0L444.5 875.0L443.8 871.0L444.9 869.0L451.0 864.4L459.0 855.7L461.0 854.8L463.0 855.4L463.8 857.0L463.0 861.2L461.0 863.5L453.0 867.6L449.6 873.0L449.5 875.0L453.1 881.0L453.2 883.0L449.0 885.8ZM956.1 943.0L953.0 939.0L956.1 933.0L953.8 927.0L954.1 923.0L959.5 917.0L965.0 908.1L967.3 909.0L971.0 916.4L973.0 916.8L987.0 905.8L993.0 904.5L1001.0 905.5L1005.0 904.4L1011.8 897.0L1011.8 895.0L1009.0 891.6L997.0 888.4L986.4 881.0L985.4 879.0L988.2 871.0L984.7 863.0L985.0 861.0L993.0 854.8L997.0 854.9L1003.0 859.1L1005.0 858.8L1011.0 855.0L1013.0 855.0L1017.0 858.0L1021.0 866.7L1031.0 867.6L1032.7 869.0L1033.3 877.0L1027.0 881.2L1024.5 885.0L1024.2 893.0L1026.0 903.0L1023.5 915.0L1021.0 918.6L1007.0 927.7L1003.0 929.1L999.0 927.6L993.0 922.7L989.0 922.2L975.0 932.3L964.4 935.0L965.3 943.0L963.6 945.0L961.0 945.1ZM375.0 870.0L371.6 863.0L372.2 859.0L377.0 857.0L385.0 855.9L389.0 856.8L390.9 859.0L390.5 863.0L387.0 867.2L379.0 871.6L377.0 871.7ZM729.0 959.8L727.9 955.0L732.3 951.0L737.0 949.5L745.0 950.8L746.9 945.0L746.6 941.0L744.7 937.0L738.5 931.0L737.7 925.0L739.0 923.0L747.0 919.1L752.5 911.0L755.5 897.0L764.7 887.0L765.2 883.0L764.0 877.0L766.6 875.0L769.0 874.7L775.0 876.3L779.0 879.6L783.6 889.0L794.1 901.0L795.0 905.0L793.4 911.0L789.0 917.3L783.0 920.5L775.0 918.1L771.3 915.0L768.9 911.0L767.0 910.0L765.0 910.5L764.8 913.0L767.3 917.0L768.2 921.0L761.4 937.0L762.1 947.0L761.0 950.6L757.0 952.5L753.0 952.9L745.0 951.2L735.0 959.6L731.0 960.8ZM366.7 907.0L367.8 903.0L371.0 900.8L381.0 900.7L391.0 897.7L399.0 900.0L400.1 895.0L411.0 884.0L417.0 881.5L419.0 881.7L421.0 883.9L424.5 895.0L424.4 899.0L423.0 902.7L419.0 906.1L409.0 906.1L407.0 907.0L403.8 917.0L399.0 920.7L395.0 920.0L389.0 916.8L379.0 917.3L377.0 916.5ZM361.0 963.7L361.0 925.6L373.0 925.3L375.0 926.2L376.6 929.0L378.1 935.0L377.9 955.0L375.0 958.0L366.5 959.0ZM1007.3 957.0L1006.5 961.0L1003.0 965.0L995.0 969.2L991.0 969.3L981.0 965.2L967.0 967.7L965.3 967.0L964.3 965.0L965.3 961.0L971.0 950.3L977.0 947.4L985.0 941.1L991.0 941.9L1001.0 947.1L1005.0 951.3ZM1027.0 953.9L1025.0 953.3L1023.2 951.0L1022.7 945.0L1025.0 941.7L1029.0 940.5L1031.4 943.0L1031.8 949.0L1029.5 953.0ZM701.0 1004.3L698.1 1001.0L697.0 991.0L684.5 981.0L684.1 979.0L685.6 975.0L689.0 970.7L693.0 967.9L695.0 968.5L701.0 974.8L708.3 979.0L708.2 983.0L705.5 989.0L706.3 999.0L703.8 1003.0ZM723.0 981.4L718.6 979.0L717.4 977.0L720.5 973.0L725.0 971.4L727.0 972.2L728.9 977.0L727.0 980.9ZM929.0 1017.7L925.0 1013.8L924.5 1009.0L929.0 1003.4L935.0 1002.5L937.6 1005.0L937.1 1011.0L933.0 1016.9ZM954.2 1039.0L928.6 1039.0L928.7 1031.0L933.0 1027.3L945.0 1024.0L949.0 1024.5L951.0 1025.5L953.4 1029.0ZM693.8 1039.0L699.1 1029.0L701.0 1027.7L703.0 1029.0L699.9 1039.0ZM691.1 1039.0L681.0 1039.0L683.0 1035.6L685.0 1035.2Z"/>
<path fill="#12695a" fill-rule="evenodd" d="M939.7 359.0L935.0 360.7L929.0 359.3L921.0 363.2L913.0 363.9L907.0 361.7L901.0 355.4L887.0 358.3L883.0 357.5L879.0 354.4L874.8 349.0L874.4 345.0L883.2 337.0L871.0 331.8L866.9 327.0L868.6 323.0L877.0 318.7L880.7 315.0L881.6 309.0L879.7 301.0L891.7 301.0L891.6 307.0L893.1 315.0L891.0 330.3L887.4 337.0L907.0 343.0L921.0 337.8L925.0 337.9L927.9 341.0L929.0 351.9L937.0 351.2L940.5 355.0ZM959.0 342.4L955.0 343.0L941.0 335.0L937.0 335.2L929.0 338.2L921.0 330.9L913.7 317.0L914.4 315.0L922.0 309.0L924.0 301.0L972.2 301.0L970.5 317.0L969.0 319.1L959.0 320.9L957.0 324.2L956.7 329.0L959.8 339.0ZM1562.3 313.0L1557.0 314.9L1551.0 313.4L1543.5 301.0L1555.8 301.0L1562.5 309.0L1563.1 311.0ZM1615.1 315.0L1613.5 301.0L1639.0 301.0L1639.0 304.8L1633.0 307.9L1623.0 318.1L1619.0 318.5ZM1001.0 342.3L997.5 339.0L996.3 333.0L999.0 329.2L1005.0 328.7L1007.7 331.0L1007.6 337.0L1005.0 341.0ZM975.0 387.2L970.1 385.0L967.4 377.0L965.0 373.7L957.0 370.2L954.3 363.0L957.1 359.0L969.0 355.7L972.4 351.0L976.5 341.0L979.0 339.5L981.0 339.7L984.5 343.0L984.2 351.0L986.0 355.0L991.0 356.5L997.0 353.8L999.0 354.4L1000.0 357.0L992.7 365.0L991.1 371.0L991.3 379.0L987.0 381.0L981.0 385.8ZM906.9 385.0L893.0 384.3L889.8 383.0L889.3 381.0L893.0 376.7L899.0 376.3L905.7 381.0ZM933.0 394.1L929.0 392.6L926.6 387.0L927.9 383.0L931.0 381.0L935.0 382.9L936.6 387.0L936.5 391.0ZM1423.0 392.8L1419.2 391.0L1418.6 389.0L1419.0 386.8L1421.0 385.0L1425.0 386.3L1426.3 389.0L1425.0 391.9ZM723.0 411.4L721.1 405.0L721.5 401.0L723.0 399.7L731.0 399.4L734.5 401.0L734.7 405.0L731.6 409.0L725.0 412.9ZM935.0 466.4L933.4 463.0L935.8 453.0L935.4 445.0L938.7 441.0L943.0 441.1L945.5 451.0L953.5 457.0L957.0 458.2L960.9 457.0L962.5 455.0L962.3 449.0L965.1 445.0L981.9 439.0L984.8 435.0L985.6 429.0L984.9 427.0L971.0 422.0L967.0 413.8L965.0 411.9L957.0 410.9L955.5 409.0L954.9 405.0L956.9 401.0L961.0 401.8L969.0 407.3L979.0 405.8L993.0 408.9L995.0 410.4L996.9 415.0L997.5 425.0L999.8 433.0L994.8 443.0L997.2 451.0L996.2 453.0L986.8 461.0L981.1 469.0L971.0 465.8L967.0 466.9L961.0 470.7L957.0 471.6ZM1639.0 458.1L1631.0 449.4L1627.0 451.8L1623.8 457.0L1621.0 458.5L1617.0 457.7L1614.2 455.0L1611.1 441.0L1616.8 431.0L1619.0 423.3L1621.9 421.0L1627.0 420.5L1630.6 423.0L1629.6 427.0L1625.6 431.0L1625.4 435.0L1631.0 448.2L1639.0 448.0ZM1489.0 440.1L1488.5 437.0L1490.3 427.0L1492.9 423.0L1495.0 422.0L1501.0 421.4L1523.0 424.2L1533.0 421.1L1535.3 423.0L1533.0 433.3L1531.0 435.2L1523.0 434.0L1505.0 442.4L1497.0 444.1L1491.3 443.0ZM1065.3 465.0L1059.0 469.2L1046.0 473.0L1042.9 477.0L1042.4 483.0L1041.0 486.1L1039.0 486.5L1033.9 485.0L1033.0 483.0L1036.3 477.0L1033.6 467.0L1034.6 465.0L1039.9 461.0L1040.9 457.0L1035.0 448.3L1023.0 446.6L1021.4 447.0L1026.2 459.0L1026.5 463.0L1025.4 465.0L1011.0 476.1L1005.0 476.7L1004.1 475.0L1007.9 467.0L1006.7 455.0L1007.5 453.0L1018.4 447.0L1019.4 445.0L1017.4 441.0L1009.7 435.0L1009.2 431.0L1011.0 429.5L1015.0 430.0L1021.0 435.7L1023.0 436.1L1029.0 434.2L1033.0 434.4L1037.0 445.2L1045.0 446.6L1053.0 453.1L1065.3 461.0ZM1601.1 441.0L1597.0 441.2L1593.0 439.5L1591.8 437.0L1592.4 435.0L1595.0 434.2L1599.0 435.7L1602.1 439.0ZM1411.0 442.3L1409.2 441.0L1409.9 439.0L1413.0 437.7L1413.3 441.0ZM1501.3 475.0L1497.0 476.8L1479.0 474.9L1467.0 476.1L1462.7 473.0L1461.7 467.0L1465.0 459.2L1467.0 457.0L1469.0 456.8L1483.0 463.0L1491.0 469.7L1499.2 473.0ZM970.8 537.0L965.0 538.3L957.0 530.8L947.0 526.4L943.0 526.6L931.0 532.7L925.0 532.1L921.9 527.0L921.7 523.0L929.3 515.0L930.3 511.0L929.0 508.4L925.0 507.4L920.4 509.0L916.2 517.0L913.0 519.4L907.0 517.8L899.0 509.1L897.0 510.3L896.6 517.0L900.1 529.0L899.0 533.0L895.0 537.5L889.0 538.6L875.0 535.5L871.2 533.0L869.0 529.0L869.5 525.0L872.7 521.0L873.8 517.0L873.0 514.2L869.3 511.0L868.1 497.0L869.0 493.0L875.0 482.1L879.0 479.2L897.1 483.0L899.7 485.0L901.9 491.0L905.0 493.0L915.0 485.1L921.0 483.1L925.0 483.2L927.0 485.0L937.0 504.9L941.0 506.2L947.0 505.8L951.0 506.8L960.6 515.0L961.9 517.0L963.0 525.0L970.6 533.0L971.5 535.0ZM1639.0 491.7L1633.1 489.0L1631.3 481.0L1633.0 480.2L1639.0 480.7ZM1417.0 493.8L1416.5 491.0L1419.0 488.0L1419.1 491.0ZM1244.2 503.0L1243.0 505.4L1239.0 505.4L1234.9 503.0L1234.6 501.0L1237.0 499.2L1239.3 499.0L1243.0 500.6ZM1539.6 533.0L1531.0 544.5L1529.0 544.6L1520.7 539.0L1513.0 531.4L1501.0 530.5L1497.0 529.1L1493.8 517.0L1493.8 513.0L1495.0 511.0L1497.0 510.4L1499.2 511.0L1503.0 514.8L1505.0 514.8L1506.4 513.0L1505.6 509.0L1506.5 507.0L1513.0 503.3L1517.0 503.0L1520.0 507.0L1523.0 508.9L1531.0 509.1L1533.8 511.0L1540.5 529.0ZM1429.0 523.2L1425.0 521.9L1423.0 519.0L1422.6 513.0L1425.0 509.7L1427.0 509.7L1429.6 513.0L1430.7 519.0ZM863.8 523.0L859.0 524.8L853.0 523.6L850.2 521.0L849.6 517.0L851.0 514.7L855.0 512.5L862.9 513.0L864.7 515.0ZM1215.0 537.3L1212.8 535.0L1211.7 531.0L1213.0 524.6L1215.5 521.0L1219.0 518.4L1223.0 517.6L1225.0 518.3L1226.9 521.0L1226.8 523.0L1221.0 534.7L1219.0 537.0ZM1259.7 537.0L1257.0 538.2L1255.0 537.5L1254.7 535.0L1258.0 535.0ZM1575.0 543.0L1571.0 543.8L1569.5 541.0L1571.0 539.1L1573.0 539.3L1575.0 541.0ZM927.0 559.8L923.0 558.5L920.3 553.0L920.0 545.0L921.0 542.5L923.0 541.7L925.0 542.8L927.3 547.0L928.2 557.0ZM1617.0 569.3L1613.4 567.0L1609.5 561.0L1607.2 555.0L1607.6 551.0L1619.0 547.9L1625.0 548.3L1626.8 553.0L1626.1 561.0L1621.0 568.4ZM1553.0 571.7L1551.0 573.2L1549.0 573.0L1541.4 569.0L1538.0 565.0L1538.8 563.0L1547.0 562.3L1553.0 559.9L1554.2 567.0ZM1469.0 575.9L1467.0 576.4L1465.6 575.0L1467.0 572.5L1469.5 573.0ZM1069.0 585.0L1065.0 589.0L1061.0 589.2L1058.1 587.0L1056.9 583.0L1059.0 580.8L1065.0 580.7L1068.9 583.0ZM1627.0 593.0L1626.2 591.0L1627.2 589.0L1634.8 581.0L1639.0 579.1L1639.0 594.5ZM516.4 597.0L513.6 593.0L515.1 589.0L521.0 585.9L525.0 586.1L527.0 587.4L528.8 591.0L527.2 595.0L521.0 597.4ZM1097.0 607.8L1095.0 607.2L1094.2 605.0L1094.9 601.0L1097.0 599.6L1099.0 600.1L1100.8 603.0L1099.0 606.8ZM1585.0 624.2L1579.0 622.2L1575.7 619.0L1577.0 612.5L1583.0 608.3L1585.5 609.0L1589.1 617.0L1588.2 621.0ZM1601.0 643.7L1597.8 643.0L1591.0 637.8L1585.0 635.0L1583.0 632.1L1583.0 628.9L1585.0 627.0L1587.0 627.3L1593.0 630.8L1599.0 637.5L1601.1 641.0ZM414.6 643.0L411.0 645.6L407.0 645.8L403.0 644.5L402.1 641.0L405.0 638.2L409.0 638.3L414.3 641.0ZM1205.0 655.3L1203.9 653.0L1205.0 650.9L1207.0 650.2L1208.2 653.0L1207.0 655.5ZM1639.0 686.0L1627.0 683.8L1619.0 690.5L1617.0 690.7L1613.6 689.0L1612.1 685.0L1615.3 673.0L1613.6 669.0L1607.1 661.0L1606.0 653.0L1607.0 649.5L1616.9 653.0L1619.3 655.0L1622.6 661.0L1625.0 661.8L1633.0 655.9L1639.0 654.8ZM491.0 666.4L489.4 663.0L489.4 659.0L491.0 656.1L493.0 655.8L495.5 657.0L496.5 661.0L493.0 666.1ZM930.8 669.0L929.6 667.0L930.4 665.0L933.0 663.2L935.4 663.0L937.0 665.0L936.1 667.0L933.0 669.4ZM401.0 694.7L399.1 693.0L399.5 689.0L407.0 671.7L409.0 669.4L411.0 669.2L412.3 673.0L411.5 681.0L407.5 687.0L405.0 693.7L403.0 695.0ZM923.3 693.0L921.0 693.9L917.0 691.8L914.1 687.0L913.7 685.0L915.0 683.3L921.0 683.0L924.9 685.0L925.7 689.0ZM955.1 719.0L954.7 717.0L963.0 708.1L967.0 706.1L971.0 708.1L975.7 715.0L973.7 719.0L967.0 722.0L961.0 721.9ZM1639.0 711.7L1636.9 711.0L1635.8 709.0L1636.9 707.0L1639.0 706.4ZM415.5 723.0L413.0 724.0L409.0 723.2L407.2 719.0L408.1 717.0L411.0 715.6L414.4 717.0L416.6 721.0ZM361.0 760.4L361.0 754.8L363.4 757.0L363.3 759.0ZM455.0 793.3L449.0 793.6L441.2 789.0L442.3 785.0L447.0 779.9L451.0 779.0L457.0 785.0L458.0 789.0ZM361.0 791.8L361.0 782.6L363.8 785.0L364.2 787.0ZM485.0 832.1L483.0 830.2L483.0 827.0L487.0 821.2L491.0 819.3L493.0 820.7L494.0 823.0L493.0 828.7L489.0 832.0ZM951.0 852.7L948.9 853.0L945.0 850.3L944.1 847.0L945.0 844.3L947.0 843.4L951.0 846.8L952.0 851.0ZM417.2 897.0L415.0 897.8L413.0 897.1L412.2 895.0L415.0 893.2L417.2 895.0ZM781.0 913.1L777.6 909.0L777.5 905.0L779.0 902.3L783.0 900.7L786.6 903.0L787.3 907.0L785.0 912.0ZM1007.0 915.3L1007.8 913.0L1015.0 906.5L1017.0 907.0L1017.0 910.1L1015.0 913.2L1011.0 915.4ZM753.0 937.5L749.4 933.0L747.9 929.0L753.0 920.7L757.0 918.6L759.4 921.0L759.6 927.0L755.0 937.3ZM365.0 952.0L361.0 952.2L361.0 932.5L367.0 935.7L369.9 943.0L369.6 949.0Z"/>
<path fill="#fdf0cf" fill-rule="evenodd" d="M564.0 301.0L561.8 307.0L559.0 309.1L555.0 307.7L550.2 301.0ZM573.5 535.0L567.1 527.0L565.8 519.0L569.4 507.0L577.3 497.0L577.0 492.1L575.0 490.7L573.0 490.8L565.0 500.5L551.0 503.7L547.0 502.4L537.0 496.0L526.1 481.0L527.1 477.0L539.1 463.0L537.7 455.0L539.0 450.6L545.0 445.9L553.0 445.0L555.2 443.0L558.7 429.0L563.7 421.0L567.0 411.5L571.2 405.0L570.3 403.0L562.4 397.0L560.4 393.0L566.4 377.0L565.0 365.0L568.2 359.0L566.0 355.0L557.3 347.0L555.6 341.0L559.5 335.0L563.1 325.0L571.0 312.1L576.0 301.0L681.8 301.0L680.4 305.0L674.2 313.0L673.5 323.0L667.0 326.1L665.1 329.0L667.1 337.0L665.3 347.0L663.0 352.6L658.9 357.0L659.3 359.0L667.0 363.1L673.2 369.0L675.5 375.0L675.4 383.0L676.5 387.0L691.2 405.0L691.0 409.1L681.8 415.0L680.4 421.0L681.1 427.0L689.0 433.0L690.4 437.0L689.8 439.0L687.0 441.1L681.0 441.3L674.8 443.0L669.5 447.0L669.7 449.0L677.3 459.0L677.0 463.3L675.0 464.2L671.0 463.5L663.0 457.8L661.0 457.5L635.0 475.0L634.7 481.0L642.8 491.0L643.4 495.0L635.6 509.0L629.0 516.6L623.0 527.1L619.6 531.0L615.0 532.8L607.0 533.1L599.0 536.0L591.0 529.5L587.0 528.7L579.0 535.0L577.0 535.7ZM1132.8 301.0L1130.0 305.0L1123.0 306.9L1117.5 305.0L1114.4 301.0ZM1143.0 303.3L1140.4 305.0L1137.8 303.0L1137.2 301.0L1143.3 301.0ZM1243.5 301.0L1241.0 304.7L1239.0 304.8L1235.1 301.0ZM1352.8 301.0L1351.0 303.9L1347.0 305.6L1341.0 304.3L1338.1 301.0ZM755.6 311.0L752.6 311.0L752.2 309.0L755.0 308.5ZM1321.0 331.0L1319.0 331.1L1315.2 329.0L1309.9 323.0L1310.0 319.0L1313.0 315.0L1315.0 314.5L1317.0 315.5L1323.6 323.0L1324.5 327.0L1323.7 329.0ZM1127.0 342.3L1121.8 341.0L1120.1 337.0L1121.0 329.8L1125.0 326.9L1129.0 327.6L1132.6 331.0L1131.4 339.0ZM687.6 341.0L685.0 341.1L680.4 337.0L679.5 335.0L680.8 333.0L685.0 332.7L688.8 335.0L689.2 339.0ZM1203.0 361.8L1200.5 361.0L1199.4 359.0L1199.4 355.0L1201.0 348.7L1203.0 346.6L1205.0 346.8L1209.2 351.0L1210.3 355.0L1208.5 359.0ZM1091.6 359.0L1089.0 359.0L1088.0 357.0L1089.0 354.7L1091.0 354.8L1092.6 357.0ZM1229.0 383.0L1225.0 378.6L1223.8 373.0L1227.0 367.6L1231.0 365.2L1233.0 365.4L1237.0 369.0L1238.2 373.0L1235.0 379.1L1231.0 382.6ZM1156.5 455.0L1154.5 451.0L1156.1 439.0L1164.5 427.0L1164.4 425.0L1159.4 417.0L1159.4 413.0L1168.2 401.0L1176.7 387.0L1176.9 385.0L1173.0 379.2L1165.0 382.5L1159.0 382.2L1157.0 380.0L1156.6 377.0L1159.0 372.4L1161.0 371.5L1165.0 372.1L1173.0 376.9L1179.0 375.8L1183.0 376.6L1195.0 384.0L1199.0 384.1L1205.0 382.0L1207.0 382.2L1208.8 387.0L1207.4 397.0L1207.7 405.0L1210.1 411.0L1213.0 413.7L1217.0 413.6L1218.0 411.0L1215.1 399.0L1216.2 393.0L1225.0 389.4L1229.0 390.2L1230.6 397.0L1228.4 411.0L1227.0 413.3L1222.1 417.0L1219.7 427.0L1217.0 430.5L1211.0 431.8L1203.0 429.4L1201.6 431.0L1200.1 437.0L1200.5 445.0L1198.5 449.0L1193.0 451.7L1185.0 450.1L1161.0 456.0ZM401.0 407.8L399.9 407.0L401.0 403.4L403.5 403.0L405.1 405.0L403.6 407.0ZM543.7 437.0L537.0 439.7L533.0 438.5L528.3 431.0L527.7 427.0L529.0 423.7L533.0 422.1L541.0 425.7L545.0 433.0ZM623.0 455.3L622.6 451.0L620.1 447.0L611.0 441.1L605.0 434.7L599.0 433.7L593.4 437.0L592.6 439.0L593.5 441.0L603.0 449.6L619.0 457.8L621.0 457.6ZM526.9 455.0L527.1 457.0L525.0 458.3L523.0 458.4L521.3 457.0L523.0 454.4ZM579.0 467.4L582.4 465.0L583.3 461.0L581.0 456.7L577.0 454.5L575.0 455.0L573.0 457.4L572.1 463.0L575.0 466.5ZM463.0 476.4L459.0 477.2L452.8 473.0L451.8 471.0L453.2 467.0L457.0 465.0L463.1 467.0L465.3 471.0L465.0 473.7ZM842.9 607.0L841.0 608.7L837.0 606.4L831.3 595.0L823.0 587.3L805.0 579.0L797.6 567.0L794.4 559.0L791.0 557.1L779.0 558.1L767.0 561.2L757.0 557.8L753.1 563.0L749.0 574.3L736.0 585.0L729.5 589.0L723.0 591.4L713.0 588.8L703.0 591.3L698.7 591.0L697.0 589.4L694.5 579.0L695.1 577.0L699.0 574.9L705.0 574.4L715.0 579.1L719.0 575.0L719.6 571.0L716.7 567.0L709.6 561.0L706.9 549.0L703.0 543.7L697.0 538.6L693.0 537.2L687.5 539.0L685.0 550.0L683.0 553.2L679.0 549.3L676.7 545.0L676.0 539.0L680.2 525.0L682.2 521.0L688.1 515.0L690.4 509.0L691.6 497.0L687.9 485.0L690.5 479.0L695.0 477.6L703.0 479.2L707.0 479.0L715.0 471.9L729.0 464.3L740.2 469.0L753.0 470.4L757.0 471.9L759.6 475.0L762.6 483.0L761.7 489.0L751.4 501.0L739.0 506.9L737.6 509.0L737.8 511.0L740.7 515.0L749.0 519.6L751.1 523.0L747.0 534.8L739.0 540.8L739.6 545.0L741.0 546.0L749.0 545.8L757.0 552.7L759.0 552.8L777.0 543.8L789.0 540.5L792.9 543.0L798.3 553.0L801.0 554.8L807.0 555.0L817.0 552.2L819.0 553.0L826.8 567.0L837.0 571.9L839.6 575.0L841.7 583.0L841.8 591.0L844.6 599.0ZM451.0 520.3L447.0 518.9L445.5 515.0L449.0 497.3L453.0 498.5L458.4 503.0L462.0 509.0L461.1 513.0L455.0 518.8ZM361.0 588.1L361.0 560.2L365.0 557.8L366.0 555.0L364.5 545.0L367.0 542.6L371.0 542.1L375.0 543.7L377.3 547.0L373.8 557.0L375.0 560.3L381.0 562.4L391.0 562.6L393.0 563.8L393.9 567.0L391.0 570.1L371.0 574.8L365.0 585.5ZM661.0 565.2L657.0 567.5L653.0 565.7L643.0 557.1L641.8 553.0L642.8 551.0L647.0 550.5L651.0 552.4L655.0 558.0L661.0 562.5ZM691.0 571.3L687.0 572.1L683.0 571.2L678.1 567.0L678.5 563.0L683.0 556.1L685.0 556.6L691.6 563.0L692.8 567.0ZM857.0 591.4L854.6 589.0L853.3 585.0L854.2 577.0L853.6 569.0L854.8 567.0L859.0 565.7L873.4 565.0L874.7 567.0L871.2 583.0L869.0 588.0L863.0 592.5ZM789.0 581.1L785.0 581.5L781.0 577.2L780.6 573.0L783.0 570.1L787.0 570.0L789.0 572.3L790.2 577.0ZM1509.0 594.2L1506.9 593.0L1506.0 589.0L1508.4 583.0L1511.0 582.3L1513.5 585.0L1513.7 589.0L1512.4 593.0ZM446.9 595.0L446.9 591.0L453.0 585.4L471.0 583.3L477.0 586.0L480.1 591.0L480.6 595.0L479.7 599.0L477.0 602.2L469.0 602.5L461.0 606.2L459.0 605.9ZM565.0 672.7L559.0 669.2L549.9 657.0L548.4 651.0L548.7 641.0L559.0 638.1L563.7 635.0L564.6 631.0L563.1 619.0L565.0 616.2L572.6 613.0L574.5 611.0L573.0 605.0L566.6 597.0L567.2 589.0L569.4 585.0L575.0 583.6L579.0 585.9L589.6 599.0L595.0 610.8L596.0 617.0L595.0 619.9L593.0 621.5L587.0 622.3L585.0 624.4L585.0 627.1L589.5 633.0L589.0 637.0L585.0 638.6L577.0 637.1L574.5 639.0L582.0 655.0L582.0 661.0L575.0 663.1L569.0 671.8ZM701.0 632.6L698.2 629.0L695.8 615.0L698.6 607.0L701.0 605.3L705.0 604.8L707.0 606.0L709.0 609.7L710.0 623.0L707.0 630.2L705.0 631.8ZM885.3 609.0L884.7 611.0L873.0 612.2L869.1 611.0L868.9 609.0L871.1 607.0L879.0 606.0L884.1 607.0ZM361.0 632.4L361.0 617.5L366.0 621.0L367.8 627.0L365.5 631.0ZM545.3 639.0L541.2 637.0L541.0 634.9L543.0 633.5L545.0 634.1L546.9 637.0ZM1509.0 648.1L1507.7 645.0L1509.0 642.0L1513.0 637.9L1517.0 636.8L1520.2 641.0L1519.4 645.0L1513.0 647.6ZM361.0 1039.0L361.0 986.3L371.0 980.7L383.0 980.4L389.0 977.8L401.0 967.4L404.4 963.0L405.9 959.0L405.8 951.0L407.0 948.9L421.0 939.1L431.0 937.2L443.6 927.0L461.5 897.0L481.0 881.6L489.0 877.2L501.0 860.1L505.0 858.2L517.0 856.7L521.1 855.0L521.9 851.0L520.3 845.0L519.3 831.0L521.6 819.0L518.8 813.0L510.0 803.0L509.1 795.0L511.0 791.6L517.0 788.2L520.2 785.0L522.8 775.0L533.8 753.0L533.7 743.0L552.7 727.0L553.1 725.0L550.9 717.0L550.8 711.0L557.2 705.0L559.2 701.0L556.6 691.0L556.7 687.0L560.3 683.0L569.0 677.4L577.0 674.5L583.0 666.5L585.0 666.0L587.0 667.4L598.7 683.0L600.2 691.0L603.0 692.4L607.0 692.6L617.0 689.2L627.0 689.0L641.0 685.2L653.0 683.8L663.0 686.1L673.0 692.5L677.0 693.1L681.0 690.6L687.0 682.9L691.0 681.5L699.0 681.2L702.7 679.0L705.8 671.0L701.3 659.0L708.3 651.0L717.0 646.4L723.0 645.9L731.0 653.4L735.0 653.0L741.0 649.8L745.0 650.8L747.8 655.0L743.0 661.0L742.7 665.0L745.0 667.5L748.6 667.0L750.3 665.0L749.2 657.0L750.8 655.0L759.0 654.1L767.0 658.4L771.0 659.4L779.0 657.5L785.0 657.3L789.0 659.4L792.4 665.0L795.9 685.0L799.0 690.5L801.0 690.4L809.0 680.2L815.0 679.8L818.5 683.0L819.4 693.0L823.0 702.4L827.0 706.0L837.0 708.3L841.2 711.0L842.3 713.0L841.9 719.0L842.8 721.0L845.0 722.4L849.0 722.6L855.0 717.9L859.0 717.0L864.7 721.0L869.0 728.9L871.0 730.6L879.0 731.5L884.1 735.0L885.4 739.0L885.1 743.0L883.0 747.8L881.0 749.3L879.0 748.8L874.1 741.0L871.0 738.3L859.7 741.0L856.3 743.0L855.8 745.0L857.8 751.0L861.0 755.4L865.0 756.9L875.0 755.5L877.7 757.0L877.5 761.0L875.7 765.0L866.3 775.0L866.1 789.0L859.8 795.0L861.8 801.0L869.7 809.0L871.0 813.0L865.5 823.0L864.9 843.0L867.0 847.5L872.0 851.0L873.8 859.0L877.0 862.4L895.0 869.7L905.0 876.1L912.0 879.0L912.9 881.0L913.6 895.0L911.0 895.9L909.0 894.3L908.1 885.0L905.0 880.7L903.0 879.9L899.1 883.0L896.1 893.0L893.0 894.9L891.0 893.9L887.9 885.0L885.1 881.0L873.2 873.0L867.2 865.0L859.0 861.6L855.0 861.3L853.4 863.0L853.0 871.0L846.4 879.0L849.0 883.1L849.6 887.0L845.9 895.0L843.7 905.0L840.1 911.0L831.0 919.0L825.0 918.9L812.1 907.0L809.3 901.0L808.0 887.0L813.0 872.7L816.3 867.0L817.9 857.0L821.0 855.0L827.0 854.2L837.0 860.3L839.8 859.0L841.9 855.0L839.8 851.0L833.8 845.0L829.0 837.0L820.3 829.0L820.2 821.0L818.5 817.0L807.6 809.0L804.8 805.0L803.3 793.0L800.5 783.0L800.7 767.0L802.0 759.0L813.0 755.8L815.0 754.1L825.4 733.0L834.8 723.0L835.3 721.0L834.2 719.0L831.0 717.0L827.0 716.4L819.0 719.8L817.0 719.6L815.2 717.0L813.7 707.0L809.0 702.0L803.0 698.2L801.0 698.5L799.9 701.0L799.3 707.0L797.7 711.0L793.0 714.7L789.0 715.7L783.9 713.0L782.3 705.0L779.0 701.7L767.0 702.8L757.0 701.6L755.0 703.1L753.0 707.4L752.3 721.0L749.0 731.0L751.0 739.0L750.9 743.0L749.0 746.6L743.0 751.7L739.1 757.0L737.7 767.0L730.9 781.0L732.8 783.0L741.0 786.9L742.6 789.0L743.9 795.0L743.0 799.2L741.0 801.2L735.0 802.7L729.0 802.6L725.0 800.8L722.0 795.0L722.1 791.0L724.1 785.0L723.0 783.0L713.0 788.9L703.0 798.0L699.0 797.4L693.3 791.0L691.0 790.0L683.0 790.4L679.2 793.0L678.0 805.0L679.9 825.0L681.8 829.0L689.8 835.0L695.0 836.9L699.0 836.6L707.0 830.7L715.2 829.0L719.0 826.0L723.0 818.5L725.0 816.8L729.0 818.5L735.0 825.7L742.6 827.0L743.5 829.0L741.1 833.0L733.0 840.0L727.5 851.0L732.5 881.0L729.0 903.3L725.0 906.9L715.7 909.0L713.4 911.0L713.2 921.0L711.0 924.0L697.0 929.6L692.0 933.0L689.7 937.0L687.0 947.4L680.5 955.0L677.0 966.1L673.8 969.0L667.0 971.9L666.9 975.0L669.6 985.0L673.0 989.3L677.9 993.0L679.7 997.0L676.8 1005.0L675.4 1015.0L669.3 1027.0L668.0 1039.0ZM1229.0 1020.7L1224.7 1019.0L1221.0 1015.7L1212.6 1001.0L1212.7 997.0L1215.6 991.0L1209.9 983.0L1212.9 973.0L1212.4 971.0L1205.2 963.0L1203.1 951.0L1199.3 939.0L1200.3 933.0L1207.0 923.0L1207.0 920.3L1205.0 917.9L1203.0 917.4L1201.0 918.6L1195.8 927.0L1189.0 933.0L1185.0 934.0L1183.0 931.2L1182.9 925.0L1179.6 913.0L1179.5 907.0L1182.2 903.0L1185.0 901.9L1201.0 904.3L1211.0 900.3L1219.0 898.8L1220.3 897.0L1221.0 891.0L1224.4 887.0L1229.0 885.1L1239.0 883.5L1241.0 881.9L1241.7 871.0L1243.3 867.0L1247.0 865.4L1259.0 867.1L1262.3 865.0L1263.0 861.0L1260.1 855.0L1255.0 851.5L1247.0 849.7L1240.9 843.0L1246.5 829.0L1243.1 823.0L1243.3 819.0L1249.0 813.7L1261.5 807.0L1271.0 803.3L1275.0 798.9L1277.4 793.0L1277.1 789.0L1275.0 786.3L1266.8 781.0L1266.0 779.0L1268.5 771.0L1269.0 763.6L1271.0 761.8L1277.0 760.5L1278.6 759.0L1281.8 745.0L1293.0 729.8L1305.9 723.0L1321.0 721.3L1321.3 711.0L1323.0 707.0L1327.0 703.7L1338.7 707.0L1341.0 706.6L1341.7 705.0L1339.9 701.0L1331.8 693.0L1321.4 677.0L1321.7 665.0L1325.0 661.7L1329.0 661.0L1335.0 665.7L1346.0 683.0L1353.9 689.0L1356.9 693.0L1358.2 697.0L1358.0 701.0L1353.5 711.0L1355.0 718.0L1357.0 718.4L1361.8 713.0L1369.0 709.7L1373.6 711.0L1379.0 718.5L1381.0 718.9L1395.0 705.7L1397.6 705.0L1399.0 706.2L1399.4 709.0L1397.9 725.0L1403.0 732.2L1409.0 734.4L1415.0 733.8L1421.0 731.1L1429.0 733.0L1432.6 737.0L1432.5 741.0L1430.1 747.0L1431.0 751.0L1433.0 752.2L1445.0 745.8L1449.0 747.0L1450.5 751.0L1440.1 767.0L1423.0 771.0L1417.0 778.0L1413.0 780.1L1411.0 779.4L1409.3 777.0L1409.2 773.0L1417.0 767.3L1418.4 765.0L1421.0 756.6L1425.7 749.0L1425.6 747.0L1423.0 743.9L1421.0 743.5L1417.0 753.7L1413.0 755.9L1407.0 756.4L1400.0 753.0L1397.0 748.0L1395.1 747.0L1387.0 748.1L1379.2 745.0L1376.2 741.0L1376.0 733.0L1375.0 731.8L1371.0 732.3L1363.0 738.9L1357.0 740.2L1355.4 743.0L1361.0 748.3L1367.5 765.0L1367.7 769.0L1365.6 775.0L1361.0 777.8L1353.0 774.4L1351.0 774.6L1345.5 785.0L1337.1 793.0L1336.8 801.0L1333.6 811.0L1331.0 814.8L1329.0 815.6L1319.8 815.0L1315.7 803.0L1319.0 793.0L1316.7 789.0L1313.0 786.7L1303.0 786.8L1297.0 784.2L1293.0 786.2L1285.0 802.9L1279.8 809.0L1285.0 810.2L1291.0 814.0L1294.1 819.0L1293.9 823.0L1289.0 826.3L1275.0 828.3L1271.0 830.1L1269.0 832.3L1267.1 837.0L1266.9 841.0L1271.0 851.0L1268.3 863.0L1273.7 869.0L1277.0 876.5L1279.0 875.9L1282.1 871.0L1285.0 869.7L1291.0 871.4L1294.7 875.0L1294.9 879.0L1289.8 891.0L1285.0 895.4L1284.3 897.0L1285.0 899.7L1289.0 900.5L1291.0 898.2L1293.0 892.7L1301.0 889.4L1307.0 889.8L1317.0 893.6L1322.6 899.0L1327.0 907.8L1330.3 909.0L1337.0 908.8L1341.2 911.0L1347.0 923.0L1349.8 937.0L1353.0 941.8L1357.0 941.9L1361.6 939.0L1363.8 935.0L1365.0 928.1L1367.0 925.0L1371.0 923.5L1375.0 923.4L1381.0 925.9L1383.1 931.0L1383.5 939.0L1392.0 947.0L1394.0 953.0L1389.6 959.0L1378.0 969.0L1377.2 973.0L1379.0 974.5L1387.0 976.1L1393.0 974.4L1395.7 971.0L1397.0 964.0L1399.0 963.5L1405.0 965.5L1413.0 963.0L1419.0 963.7L1429.1 969.0L1439.0 976.1L1440.2 979.0L1441.3 993.0L1439.0 995.9L1435.0 995.5L1427.0 987.2L1421.0 984.7L1411.0 987.4L1395.0 984.1L1389.0 985.7L1385.3 989.0L1384.0 993.0L1393.0 998.6L1399.0 1003.8L1405.6 1007.0L1407.0 1009.0L1406.7 1011.0L1401.0 1018.6L1397.0 1019.4L1394.9 1019.0L1393.1 1017.0L1391.1 1009.0L1389.0 1006.5L1381.0 1005.3L1376.7 1003.0L1375.8 1001.0L1378.5 995.0L1377.7 993.0L1371.0 988.5L1363.0 980.6L1359.0 978.9L1355.0 979.6L1345.0 984.2L1323.0 988.6L1313.0 995.5L1306.3 995.0L1299.5 989.0L1296.7 975.0L1289.0 961.0L1285.0 958.4L1281.0 958.2L1271.0 962.1L1267.0 962.3L1265.1 961.0L1266.0 949.0L1269.0 945.0L1279.0 937.6L1291.0 938.9L1301.0 933.1L1311.0 936.8L1319.0 936.1L1325.0 933.7L1326.3 931.0L1325.8 929.0L1323.0 927.9L1313.0 932.2L1303.0 931.9L1293.9 921.0L1287.0 918.3L1283.0 918.0L1279.0 920.7L1271.0 930.6L1261.0 934.2L1257.1 937.0L1256.0 939.0L1256.2 945.0L1254.4 947.0L1247.0 949.3L1245.0 951.4L1240.8 959.0L1239.7 965.0L1241.2 969.0L1245.0 970.7L1259.0 966.0L1259.2 979.0L1261.4 995.0L1263.7 999.0L1269.4 1005.0L1271.0 1009.0L1274.0 1001.0L1277.0 998.2L1283.0 996.2L1290.8 997.0L1290.5 1001.0L1284.6 1013.0L1285.6 1023.0L1283.1 1025.0L1281.0 1025.2L1273.8 1023.0L1271.0 1019.0L1269.0 1012.2L1263.0 1014.3L1253.0 1020.2L1251.0 1020.0L1245.0 1015.9L1243.0 1015.9L1236.0 1021.0ZM1461.0 692.6L1459.0 692.1L1458.4 689.0L1459.8 687.0L1463.0 686.8L1464.5 689.0L1463.7 691.0ZM879.0 712.2L877.0 714.0L875.0 714.1L869.1 709.0L869.1 707.0L873.0 705.7L875.0 706.2L878.6 709.0ZM1421.0 730.8L1413.0 723.5L1410.7 717.0L1415.1 711.0L1423.0 706.5L1425.0 707.3L1427.8 711.0L1430.1 719.0L1428.7 723.0ZM769.0 739.1L765.3 733.0L766.4 727.0L773.0 721.7L779.0 720.2L784.4 725.0L785.0 729.1L783.0 731.9L773.0 739.2ZM1611.0 755.6L1607.0 755.9L1603.0 754.3L1599.0 751.3L1596.4 747.0L1595.1 739.0L1595.9 735.0L1603.0 730.4L1607.0 729.9L1618.3 741.0L1618.8 745.0L1617.5 751.0L1615.0 753.7ZM1573.0 744.3L1571.0 744.2L1568.4 739.0L1568.4 737.0L1571.0 735.0L1575.0 735.9L1576.9 739.0ZM1573.0 766.5L1571.0 766.2L1565.0 761.8L1562.8 757.0L1565.0 750.8L1571.0 747.3L1575.0 752.3L1577.6 759.0L1577.0 763.5ZM761.0 757.3L758.9 755.0L759.0 751.1L761.0 750.9L762.7 753.0ZM1102.2 801.0L1099.0 802.4L1097.0 802.2L1091.0 797.6L1083.0 798.0L1080.4 797.0L1078.3 793.0L1074.1 771.0L1073.0 769.6L1071.0 769.4L1065.0 771.6L1061.0 770.2L1055.0 763.0L1055.0 761.0L1056.6 759.0L1061.0 758.4L1069.0 761.4L1071.0 760.6L1075.2 753.0L1077.0 752.3L1081.0 754.0L1093.0 771.5L1096.2 781.0L1103.0 789.4L1104.3 795.0ZM557.3 769.0L556.8 767.0L553.8 765.0L549.3 765.0L549.0 767.0L551.0 769.2L555.0 769.8ZM751.0 774.0L748.7 771.0L749.0 768.9L759.0 763.1L761.0 763.9L762.2 769.0L761.0 774.3L757.0 775.9ZM1617.0 790.5L1612.5 775.0L1615.0 772.0L1619.0 770.7L1621.0 771.2L1622.4 773.0L1624.5 783.0L1621.0 788.6ZM1561.4 775.0L1553.0 787.0L1549.0 788.6L1535.0 785.5L1530.3 783.0L1526.7 779.0L1528.1 775.0L1535.0 771.5L1545.0 775.0L1557.0 772.9L1559.6 773.0ZM1639.0 794.2L1632.7 789.0L1629.9 783.0L1630.1 781.0L1633.0 777.1L1639.0 775.1ZM1464.6 785.0L1463.7 791.0L1461.0 795.8L1459.0 796.1L1451.0 791.5L1445.0 795.1L1441.0 796.0L1438.1 795.0L1436.6 793.0L1437.0 788.6L1443.0 784.2L1451.0 784.5L1461.0 781.4L1463.0 782.3ZM1503.0 797.1L1500.3 793.0L1499.9 789.0L1501.0 786.0L1507.0 782.5L1513.0 782.3L1514.3 787.0L1513.0 793.0L1509.0 797.0ZM575.0 835.6L579.0 835.6L583.0 832.6L589.2 819.0L594.3 811.0L594.6 805.0L592.0 797.0L591.6 791.0L589.0 787.8L587.0 788.0L585.0 789.9L581.9 797.0L571.0 802.0L568.2 805.0L566.8 827.0L569.0 832.0L571.0 834.1ZM1221.0 796.1L1219.0 796.5L1214.2 791.0L1214.2 789.0L1217.0 788.0L1220.3 789.0L1221.9 793.0ZM1199.0 807.8L1195.0 807.0L1193.9 805.0L1194.0 801.0L1197.0 796.5L1199.0 796.5L1200.5 805.0ZM1607.0 813.6L1605.0 812.5L1603.1 809.0L1602.0 803.0L1605.0 799.3L1613.0 796.2L1613.9 799.0L1612.9 807.0L1611.0 811.4ZM1433.2 807.0L1428.8 809.0L1419.1 809.0L1416.1 807.0L1415.4 803.0L1418.1 799.0L1425.0 799.0L1431.0 801.0L1432.9 803.0ZM1211.2 811.0L1211.0 809.0L1212.6 807.0L1219.0 803.0L1219.9 807.0L1217.3 811.0L1215.0 811.9ZM1561.0 831.4L1558.7 829.0L1560.1 821.0L1557.7 815.0L1559.3 813.0L1562.4 811.0L1567.0 810.0L1571.0 810.7L1574.9 813.0L1580.3 819.0L1579.7 821.0L1570.4 829.0L1565.0 831.4ZM1533.5 819.0L1531.0 820.0L1527.4 819.0L1524.1 815.0L1527.0 813.4L1529.0 813.8L1533.1 817.0ZM1315.0 824.0L1313.5 823.0L1313.8 821.0L1317.0 817.6L1318.6 819.0L1318.1 821.0ZM1481.0 848.6L1477.0 847.5L1473.0 843.5L1467.2 829.0L1467.5 823.0L1471.0 819.6L1475.0 818.0L1479.0 818.1L1481.0 819.4L1487.5 827.0L1488.9 831.0L1489.4 843.0L1485.0 847.0ZM1621.0 839.6L1616.6 837.0L1615.5 835.0L1616.0 831.0L1621.0 824.6L1625.0 822.5L1627.0 822.9L1633.7 831.0L1633.2 833.0L1626.7 839.0ZM1217.0 851.4L1213.0 853.7L1201.0 852.2L1193.0 857.1L1189.0 857.6L1185.6 853.0L1185.7 849.0L1188.2 841.0L1184.6 833.0L1185.5 829.0L1187.0 827.0L1191.0 826.9L1201.0 833.9L1215.0 838.1L1217.7 843.0ZM1313.0 853.0L1305.0 851.9L1303.0 850.4L1301.5 847.0L1300.4 839.0L1303.0 834.4L1307.0 832.0L1309.0 832.6L1317.5 845.0L1317.0 849.2ZM1173.0 844.7L1167.0 845.0L1165.2 843.0L1165.1 839.0L1167.0 836.2L1171.0 835.4L1175.0 837.1L1176.2 841.0ZM1283.0 851.5L1279.1 849.0L1278.0 847.0L1279.1 843.0L1285.0 836.5L1287.0 835.7L1291.0 836.8L1294.9 841.0L1293.9 845.0L1289.0 850.5ZM569.0 884.3L573.0 883.2L574.5 881.0L575.1 873.0L581.2 867.0L581.7 859.0L585.7 851.0L585.0 844.0L583.0 841.3L579.0 839.2L571.0 840.7L569.0 842.6L567.4 847.0L567.0 853.0L568.4 861.0L564.0 877.0L565.0 881.3ZM1381.0 866.8L1378.9 865.0L1377.6 859.0L1379.0 855.7L1383.0 854.8L1386.1 857.0L1386.9 861.0L1385.0 864.9ZM1572.7 857.0L1571.8 859.0L1567.0 862.2L1565.0 862.0L1562.8 859.0L1563.5 857.0L1567.0 854.9L1570.6 855.0ZM1593.0 885.4L1591.0 885.5L1589.0 884.1L1585.9 879.0L1585.1 865.0L1581.0 856.8L1583.0 856.1L1593.0 858.6L1597.0 861.3L1600.7 871.0L1600.6 875.0L1597.0 882.0ZM1480.5 873.0L1475.0 873.4L1473.1 871.0L1473.1 867.0L1475.0 863.7L1477.0 863.8L1480.2 867.0L1481.5 871.0ZM1532.0 873.0L1531.0 876.1L1527.0 877.6L1520.2 875.0L1519.4 873.0L1521.0 871.0L1527.0 869.0L1531.0 870.5ZM1139.6 879.0L1135.4 879.0L1133.0 877.3L1132.0 875.0L1132.6 873.0L1135.0 872.7L1140.2 877.0ZM1437.0 880.5L1435.0 881.3L1433.0 880.4L1431.8 877.0L1433.0 875.4L1435.0 875.3L1437.6 877.0ZM1373.0 885.5L1371.0 883.3L1371.3 879.0L1373.0 878.1L1375.9 879.0L1377.0 881.0L1376.4 883.0ZM1415.0 914.5L1410.7 913.0L1404.4 903.0L1404.9 895.0L1400.5 889.0L1401.6 887.0L1409.0 883.2L1415.0 881.7L1419.0 882.5L1422.5 885.0L1425.0 894.0L1427.0 895.7L1433.0 897.7L1434.3 901.0L1432.5 905.0L1429.0 908.7ZM707.0 887.0L707.0 884.8L705.0 883.2L703.0 883.8L703.0 887.0L705.0 888.1ZM1343.0 897.8L1339.0 896.6L1337.4 893.0L1338.0 887.0L1339.0 885.2L1341.0 884.4L1345.0 886.9L1347.1 891.0L1346.7 895.0ZM1501.0 901.8L1499.0 900.1L1498.2 897.0L1500.7 891.0L1507.0 885.6L1511.0 884.0L1513.0 884.7L1515.5 891.0L1513.0 897.9L1507.0 902.3ZM1373.6 901.0L1371.0 901.9L1368.8 901.0L1365.0 896.4L1365.3 893.0L1369.0 891.5L1370.6 893.0L1374.2 899.0ZM559.0 958.9L565.0 958.9L569.0 957.2L575.0 951.2L582.4 947.0L585.0 942.7L587.6 931.0L587.6 925.0L585.3 913.0L582.2 905.0L581.2 897.0L579.0 894.7L573.0 896.3L569.0 900.4L562.1 911.0L560.5 919.0L554.5 927.0L554.2 931.0L559.9 943.0L556.2 953.0L556.7 957.0ZM1601.0 920.0L1599.0 920.3L1593.6 913.0L1585.0 909.4L1583.1 907.0L1584.5 901.0L1589.0 896.4L1593.0 896.9L1596.3 901.0L1601.7 917.0ZM1467.0 915.9L1465.0 916.9L1455.0 911.0L1450.8 903.0L1451.9 899.0L1457.0 897.9L1467.0 904.0L1468.7 909.0ZM551.2 909.0L550.9 907.0L549.0 905.6L547.0 905.6L545.1 907.0L545.0 909.0L547.0 910.1ZM1147.0 935.8L1142.7 931.0L1141.9 927.0L1148.7 911.0L1153.0 909.4L1165.0 909.7L1166.3 911.0L1163.6 917.0L1153.8 927.0L1149.0 935.9ZM1233.0 918.4L1233.4 915.0L1231.0 912.1L1227.0 911.2L1224.6 913.0L1223.8 915.0L1225.2 917.0L1230.8 919.0ZM1577.0 944.8L1571.0 943.7L1569.1 941.0L1572.5 931.0L1568.3 919.0L1569.1 917.0L1573.0 914.5L1577.0 915.1L1578.6 917.0L1581.6 927.0L1581.1 941.0L1579.0 944.1ZM1477.0 934.6L1469.0 933.4L1465.0 929.0L1464.3 923.0L1465.0 920.0L1467.0 917.6L1478.5 931.0L1478.9 933.0ZM1621.0 949.4L1618.3 949.0L1616.7 947.0L1618.4 937.0L1617.4 933.0L1609.5 927.0L1606.4 923.0L1606.5 921.0L1609.6 919.0L1617.0 917.2L1621.0 917.3L1623.0 918.6L1625.8 925.0L1629.0 928.7L1633.0 929.7L1639.0 928.6L1639.0 935.4L1633.0 935.7L1631.0 937.0L1625.0 946.7ZM1444.4 935.0L1439.0 936.8L1429.0 936.4L1424.2 935.0L1423.6 933.0L1427.0 927.9L1433.0 925.7L1441.2 929.0L1444.4 933.0ZM1564.1 945.0L1557.6 957.0L1551.0 959.9L1545.0 960.9L1541.0 959.2L1535.0 952.3L1529.0 949.6L1521.0 940.7L1517.0 941.4L1513.0 946.6L1511.0 947.2L1506.4 945.0L1504.8 939.0L1508.3 933.0L1515.0 927.9L1519.0 926.9L1533.0 932.1L1536.6 943.0L1539.0 944.4L1549.0 939.7L1555.0 938.5L1562.3 941.0L1564.2 943.0ZM882.3 941.0L881.8 935.0L885.0 931.7L899.0 928.5L901.9 929.0L903.6 931.0L902.5 939.0L899.0 943.9L891.0 944.7L885.0 943.1ZM1160.9 965.0L1157.0 966.2L1149.0 965.8L1141.0 969.4L1137.0 968.8L1129.0 952.8L1120.8 947.0L1119.7 941.0L1121.2 935.0L1123.0 933.0L1127.0 931.6L1133.0 933.4L1138.7 941.0L1145.0 946.4L1145.5 955.0L1147.0 958.9L1151.0 960.5L1155.8 959.0L1159.0 959.3L1161.2 961.0L1161.8 963.0ZM819.0 945.2L821.0 937.4L823.0 934.6L825.0 934.3L840.2 939.0L840.3 941.0L839.0 942.3L831.0 942.4L821.0 946.8ZM732.6 1039.0L730.6 1031.0L732.8 1025.0L739.0 1020.2L745.0 1022.7L747.0 1022.3L751.0 1016.7L754.0 1009.0L753.0 997.0L751.0 994.4L747.0 995.1L744.6 1005.0L741.0 1009.5L739.0 1010.4L737.0 1009.5L732.7 1003.0L732.2 997.0L738.1 989.0L741.9 981.0L751.0 976.6L759.0 971.0L766.2 969.0L770.8 959.0L775.0 953.6L779.0 951.5L786.1 953.0L789.8 945.0L792.4 943.0L799.0 942.4L807.5 947.0L809.2 951.0L809.5 959.0L816.0 971.0L817.0 982.7L813.0 981.2L797.0 982.5L782.7 987.0L781.9 989.0L785.1 999.0L780.8 1013.0L779.0 1015.1L772.1 1019.0L769.8 1025.0L772.1 1029.0L779.0 1028.8L781.0 1029.9L782.3 1033.0L781.7 1039.0L749.2 1039.0L747.0 1037.6L746.4 1039.0ZM1581.7 961.0L1581.0 956.4L1585.0 951.3L1593.0 949.1L1601.0 944.2L1603.0 944.3L1605.0 946.3L1606.2 949.0L1606.0 953.0L1603.0 957.4L1597.0 958.1L1587.0 963.8ZM1491.5 961.0L1487.0 962.7L1484.4 961.0L1484.3 959.0L1487.0 957.4L1489.0 957.6L1491.3 959.0ZM1511.0 984.4L1509.4 983.0L1510.2 977.0L1511.8 975.0L1516.6 973.0L1517.6 971.0L1516.4 965.0L1517.0 962.4L1519.0 959.9L1523.0 959.8L1524.9 963.0L1524.4 969.0L1518.1 981.0L1515.0 983.6ZM1639.0 971.0L1635.6 967.0L1634.6 963.0L1635.2 961.0L1639.0 959.2ZM1622.0 1015.0L1617.0 1016.6L1613.7 1015.0L1611.7 1007.0L1601.0 991.9L1581.0 984.1L1575.0 984.0L1565.0 985.9L1559.0 985.3L1555.3 981.0L1555.0 976.6L1569.0 967.3L1591.0 975.0L1601.0 973.7L1607.0 975.5L1609.0 977.5L1611.6 985.0L1616.7 991.0L1616.2 1003.0L1621.4 1011.0ZM1185.0 1012.3L1183.0 1012.9L1179.0 1011.3L1173.9 1003.0L1167.2 981.0L1167.9 975.0L1171.0 972.3L1177.0 971.4L1189.0 972.2L1193.0 973.4L1196.7 977.0L1197.0 979.3L1191.0 981.9L1187.3 987.0L1186.8 991.0L1189.7 1001.0L1187.6 1009.0ZM1253.4 997.0L1253.7 993.0L1249.0 983.4L1247.0 980.9L1243.0 978.9L1240.4 981.0L1240.8 987.0L1239.0 989.4L1235.0 989.9L1230.7 983.0L1227.0 981.7L1223.0 983.5L1219.5 989.0L1219.5 991.0L1223.2 995.0L1231.0 999.0L1243.0 1003.2L1249.0 1002.4ZM1525.5 1009.0L1523.0 1011.8L1511.0 1013.7L1507.0 1012.8L1498.0 1003.0L1489.1 999.0L1485.0 992.4L1479.0 1001.2L1465.0 1005.8L1463.0 1005.8L1457.0 999.7L1450.4 997.0L1448.3 995.0L1449.1 993.0L1453.0 989.7L1463.0 987.9L1469.0 982.0L1473.0 980.2L1481.0 981.6L1487.0 988.1L1495.0 983.8L1503.0 983.8L1508.1 985.0L1509.7 993.0L1513.0 997.7L1517.0 999.9L1523.2 1001.0L1525.0 1004.0ZM797.0 1017.1L793.8 1015.0L792.9 1011.0L797.0 1005.7L803.0 1002.4L805.2 1005.0L804.6 1013.0L801.0 1017.2ZM1471.0 1028.0L1467.7 1021.0L1468.2 1017.0L1470.9 1015.0L1477.0 1013.0L1481.0 1008.4L1483.0 1008.0L1484.8 1015.0L1483.6 1021.0L1477.0 1027.3L1473.0 1028.9ZM1356.1 1019.0L1351.0 1022.7L1344.6 1023.0L1341.5 1019.0L1342.3 1011.0L1347.0 1009.5L1353.0 1010.4L1356.6 1015.0ZM1639.0 1032.8L1633.0 1029.8L1627.6 1025.0L1625.4 1021.0L1625.0 1016.9L1631.0 1014.3L1639.0 1013.8ZM1111.0 1026.3L1109.0 1026.4L1106.5 1023.0L1106.8 1021.0L1109.0 1018.9L1111.0 1018.7L1112.6 1021.0ZM1441.4 1021.0L1439.0 1022.9L1437.0 1022.8L1435.1 1021.0L1435.2 1019.0L1437.0 1017.7L1439.0 1017.9ZM1077.0 1023.1L1075.0 1023.7L1072.9 1021.0L1075.0 1020.0L1076.7 1021.0ZM1154.7 1027.0L1153.6 1025.0L1155.0 1021.8L1159.0 1020.8L1161.0 1022.5L1161.1 1025.0L1159.0 1026.9ZM1577.2 1023.0L1578.7 1021.0L1581.0 1020.7L1586.2 1023.0L1579.0 1025.3ZM1373.2 1039.0L1372.4 1031.0L1373.1 1027.0L1374.9 1025.0L1381.0 1021.9L1387.0 1022.4L1387.8 1025.0L1383.2 1039.0ZM1216.4 1039.0L1174.6 1039.0L1176.6 1035.0L1181.0 1030.7L1193.0 1023.3L1196.4 1025.0L1201.6 1031.0L1211.7 1035.0ZM586.0 1029.0L585.0 1026.9L581.0 1027.0L577.6 1029.0L576.7 1033.0L579.0 1034.6L581.0 1034.4L583.5 1033.0ZM1319.1 1039.0L1303.6 1039.0L1306.1 1031.0L1308.8 1027.0L1311.0 1026.3L1315.0 1028.9ZM1539.1 1039.0L1523.9 1039.0L1524.5 1033.0L1529.0 1030.5L1535.0 1029.9L1538.0 1033.0ZM1567.7 1039.0L1552.1 1039.0L1553.6 1033.0L1555.0 1031.1L1557.0 1030.6L1561.0 1032.8ZM831.3 1039.0L803.4 1039.0L805.0 1034.7L809.0 1032.5L813.0 1033.6L819.0 1037.8L827.0 1034.1L829.0 1034.3ZM1032.8 1039.0L991.2 1039.0L995.0 1036.6L1015.0 1032.6L1023.0 1034.6L1031.0 1034.4Z"/>
<path fill="#dfc77c" fill-rule="evenodd" d="M631.0 349.2L627.0 351.3L615.0 348.0L605.0 349.9L599.7 349.0L597.2 345.0L596.8 337.0L589.0 325.3L585.0 323.4L575.0 328.0L573.6 327.0L574.2 323.0L577.0 317.0L581.0 312.5L595.0 307.9L597.3 305.0L598.3 301.0L616.3 301.0L615.8 313.0L617.0 315.7L622.4 321.0L623.3 329.0L630.2 339.0L631.6 345.0ZM654.0 301.0L652.1 305.0L647.0 306.7L641.7 305.0L639.8 301.0ZM635.7 403.0L625.0 406.5L613.9 399.0L601.1 395.0L599.0 393.0L598.4 389.0L599.7 385.0L610.8 375.0L613.0 366.0L627.0 370.7L639.0 383.0L640.7 387.0L640.7 393.0L639.0 399.4ZM667.0 377.2L665.0 378.4L661.3 377.0L659.8 373.0L661.0 371.1L665.0 370.9L667.0 372.6L667.7 375.0ZM599.0 409.3L595.0 409.5L590.5 407.0L586.7 403.0L583.0 395.8L575.0 391.0L574.7 387.0L576.2 385.0L581.0 382.7L585.0 384.0L587.7 391.0L596.4 399.0ZM665.0 427.1L661.1 425.0L660.3 421.0L663.0 412.7L665.0 410.3L667.0 410.1L671.0 415.4L671.9 421.0L669.0 425.9ZM639.0 443.4L631.0 443.7L627.0 441.3L623.8 437.0L618.3 423.0L619.3 419.0L623.0 414.4L625.0 413.8L627.0 414.9L632.6 421.0L641.3 427.0L642.6 431.0L641.0 441.4ZM1175.0 444.7L1171.8 443.0L1169.9 439.0L1173.0 433.5L1177.0 431.7L1179.0 432.5L1180.6 435.0L1181.2 439.0L1179.5 443.0ZM597.0 523.6L591.6 521.0L586.3 515.0L586.7 509.0L591.0 501.0L591.9 497.0L588.4 487.0L588.7 485.0L599.0 483.6L603.1 473.0L607.0 466.7L609.0 465.6L612.8 469.0L613.8 477.0L612.3 483.0L606.7 493.0L607.2 503.0L609.0 505.4L617.0 509.8L619.1 513.0L619.3 517.0L617.0 520.8L615.0 521.8L607.0 521.5ZM707.0 535.0L701.0 531.0L696.6 525.0L699.0 509.2L703.0 505.7L714.3 501.0L713.2 493.0L720.2 479.0L725.0 476.2L731.0 476.4L734.5 479.0L736.9 483.0L737.5 491.0L735.0 494.5L726.4 499.0L722.5 503.0L724.9 511.0L724.7 515.0L723.0 518.8L717.8 525.0L716.6 533.0L713.0 535.4ZM556.6 491.0L552.9 493.0L545.2 489.0L541.0 484.5L540.2 481.0L541.0 479.1L551.0 480.2L555.0 482.0L557.7 487.0ZM563.0 659.3L559.0 657.9L556.1 653.0L557.0 649.8L561.0 647.4L565.0 647.7L568.5 651.0L567.7 655.0ZM746.9 691.0L745.0 694.1L743.0 694.5L740.6 693.0L740.2 691.0L745.0 688.7ZM595.3 1039.0L597.9 1029.0L597.1 1017.0L598.0 1011.0L605.0 997.0L611.1 991.0L612.7 987.0L611.0 983.5L605.0 982.1L601.0 979.9L598.8 975.0L600.1 969.0L605.1 961.0L604.6 957.0L600.2 949.0L609.0 944.3L611.7 939.0L611.3 937.0L609.0 935.4L599.0 934.9L597.6 933.0L597.7 927.0L611.3 913.0L612.0 911.0L611.0 908.6L607.0 905.7L597.0 904.9L594.7 903.0L595.1 899.0L601.0 892.3L603.2 887.0L602.6 883.0L596.3 875.0L597.9 861.0L603.3 845.0L602.4 841.0L596.9 833.0L595.9 827.0L607.1 805.0L608.0 793.0L615.0 791.3L617.6 789.0L619.7 785.0L619.1 775.0L624.3 765.0L622.6 753.0L624.4 743.0L621.0 736.2L615.0 730.9L611.0 730.9L605.0 736.9L603.0 736.8L587.0 726.4L585.0 727.7L582.2 733.0L580.6 747.0L577.0 749.8L573.0 749.4L568.5 745.0L566.5 741.0L567.4 731.0L566.1 721.0L569.5 717.0L581.0 711.4L585.3 713.0L589.0 718.9L591.0 720.1L599.0 718.3L602.0 715.0L599.3 705.0L601.0 702.5L605.0 701.0L623.0 702.8L631.1 699.0L635.0 698.5L645.0 701.9L655.0 702.0L661.0 707.9L671.0 704.2L683.0 702.1L693.0 696.6L694.9 697.0L695.0 703.0L696.7 707.0L701.0 709.4L704.0 709.0L706.1 707.0L707.0 700.6L711.0 699.1L715.0 699.9L717.4 703.0L718.0 709.0L720.8 715.0L717.5 721.0L717.0 725.0L728.2 753.0L727.0 759.3L723.0 762.6L717.0 761.7L713.0 763.6L710.5 767.0L707.6 777.0L705.0 779.6L687.0 782.1L677.0 780.4L673.0 781.3L669.0 787.0L667.7 791.0L670.0 801.0L669.5 805.0L667.0 807.8L657.8 813.0L653.9 821.0L654.1 833.0L656.4 843.0L649.9 849.0L649.1 855.0L651.0 859.8L653.0 861.2L661.0 860.2L665.0 862.3L667.9 877.0L664.1 889.0L657.1 899.0L655.0 910.0L647.7 919.0L651.3 929.0L652.7 943.0L657.7 957.0L657.5 961.0L654.6 969.0L655.0 973.0L662.8 989.0L662.6 991.0L657.0 991.5L655.0 993.0L652.3 1001.0L654.7 1011.0L651.0 1021.0L651.2 1023.0L657.1 1031.0L658.2 1039.0ZM739.7 719.0L739.2 721.0L737.0 721.6L732.8 721.0L730.9 719.0L735.0 717.1ZM1337.0 736.2L1332.5 733.0L1332.7 729.0L1335.0 723.5L1337.0 721.5L1341.0 721.5L1345.4 725.0L1346.6 729.0L1346.0 731.0L1341.0 735.6ZM601.0 749.0L599.9 747.0L600.5 745.0L603.0 742.9L605.0 744.2L605.2 747.0L603.0 749.2ZM1341.0 777.5L1337.0 781.6L1329.0 783.8L1325.0 783.0L1322.8 781.0L1321.1 773.0L1319.0 769.7L1301.2 763.0L1299.5 761.0L1309.0 752.9L1313.0 751.7L1323.0 761.7L1329.0 763.0L1334.3 769.0L1339.0 771.5L1341.0 774.3ZM577.0 782.8L573.0 781.5L572.1 779.0L573.8 775.0L577.0 773.7L579.3 775.0L580.4 779.0ZM515.0 905.5L507.0 902.0L501.5 895.0L499.6 887.0L500.3 877.0L503.0 869.3L507.0 865.6L511.0 864.3L523.0 864.0L533.0 857.9L535.1 855.0L538.3 841.0L533.0 838.6L532.4 837.0L535.5 829.0L534.9 825.0L528.9 809.0L527.0 807.0L519.0 803.8L516.1 799.0L518.6 795.0L526.4 789.0L535.0 777.2L539.0 776.1L545.3 781.0L553.9 793.0L555.4 799.0L554.4 809.0L560.5 817.0L559.6 821.0L557.0 823.9L549.0 825.8L546.1 829.0L546.9 831.0L553.0 832.8L555.0 834.8L556.1 839.0L555.0 845.8L552.7 849.0L539.0 860.4L537.4 863.0L538.2 867.0L547.0 870.8L548.9 873.0L550.0 877.0L545.0 885.4L541.2 897.0L537.0 901.8L529.0 906.4ZM645.0 800.6L647.0 799.4L648.0 797.0L648.9 789.0L645.1 785.0L641.0 784.7L639.0 788.4L639.4 793.0L641.5 799.0ZM693.0 853.8L691.2 853.0L691.0 851.0L693.0 849.8L694.7 851.0ZM534.3 879.0L532.2 875.0L529.0 873.8L525.7 875.0L524.2 877.0L525.2 881.0L529.0 882.4L533.0 881.4ZM489.0 913.6L481.0 913.8L477.1 911.0L476.0 909.0L475.7 905.0L477.0 899.3L481.0 894.8L487.0 896.3L491.9 903.0L492.8 909.0L492.1 911.0ZM825.0 901.6L824.8 897.0L827.0 895.8L828.6 897.0L828.7 899.0L827.0 901.3ZM549.6 1019.0L547.0 1022.9L545.0 1023.1L535.0 1017.4L531.0 1017.2L528.1 1019.0L528.3 1023.0L534.1 1031.0L534.2 1039.0L511.6 1039.0L509.0 1035.7L505.0 1034.3L497.0 1036.1L491.0 1030.8L487.0 1029.4L481.0 1031.6L474.8 1039.0L465.7 1039.0L461.0 1033.9L451.9 1029.0L450.3 1023.0L449.0 1021.8L441.0 1018.7L436.4 1015.0L436.0 1013.0L442.8 1003.0L444.2 999.0L442.5 995.0L435.0 993.0L427.6 995.0L426.3 997.0L429.1 1007.0L429.0 1009.7L427.0 1011.3L415.0 1008.3L407.0 1003.1L396.5 1007.0L394.7 1011.0L396.5 1019.0L396.2 1027.0L393.0 1036.2L391.0 1038.6L387.0 1036.1L381.0 1034.8L367.7 1017.0L361.0 1013.9L361.0 992.5L373.0 989.4L380.8 995.0L385.0 996.6L393.0 998.2L407.0 998.0L416.9 991.0L414.6 973.0L418.6 965.0L417.3 957.0L418.5 953.0L425.0 950.4L433.0 952.0L435.0 950.8L443.0 939.7L447.0 938.7L453.7 939.0L455.0 937.2L456.6 925.0L459.0 918.1L463.0 913.0L469.0 911.8L473.0 914.3L481.9 925.0L497.0 935.2L501.0 935.0L505.3 933.0L515.0 923.0L519.8 923.0L520.4 925.0L517.9 931.0L518.0 939.0L515.2 947.0L511.0 950.2L499.0 953.4L495.0 952.7L487.0 948.6L483.0 948.9L475.0 953.0L473.5 955.0L471.0 964.6L461.0 966.2L455.0 972.0L451.0 974.3L449.0 973.1L445.0 961.7L443.0 960.4L441.0 960.7L430.0 973.0L430.7 977.0L437.0 980.9L447.0 980.3L449.0 982.5L450.8 991.0L453.0 993.9L457.0 995.2L467.0 994.7L471.0 996.7L478.9 1005.0L478.8 1007.0L474.7 1013.0L476.2 1017.0L481.0 1019.9L493.0 1022.7L503.0 1019.1L511.0 1018.4L513.6 1017.0L514.7 1015.0L514.1 1013.0L511.0 1011.3L503.0 1009.7L495.5 1003.0L485.0 1000.2L480.6 995.0L477.7 987.0L479.9 983.0L485.0 979.7L497.0 978.2L503.0 976.1L505.8 973.0L507.0 969.2L509.0 968.6L515.0 972.4L517.1 975.0L520.1 987.0L518.6 1001.0L521.0 1006.4L527.0 1009.8L533.0 1008.7L545.9 1011.0L549.0 1013.8ZM539.0 952.5L535.0 952.2L533.0 950.6L532.0 947.0L533.2 939.0L522.6 925.0L522.4 923.0L529.0 918.2L533.0 918.4L543.8 925.0L542.4 937.0L543.4 947.0L541.5 951.0ZM671.0 938.0L667.0 937.7L660.4 935.0L657.0 931.0L658.1 927.0L665.0 921.7L669.0 922.2L672.8 929.0L673.5 935.0ZM1215.0 951.0L1212.7 947.0L1213.8 943.0L1220.7 937.0L1225.0 930.6L1228.5 931.0L1229.1 933.0L1226.6 939.0L1225.7 949.0L1221.0 951.5ZM465.5 947.0L466.0 945.0L463.0 941.9L459.0 941.4L457.5 943.0L461.0 947.2ZM1301.0 957.8L1297.8 955.0L1297.3 953.0L1299.0 949.4L1303.0 948.0L1306.8 949.0L1309.2 951.0L1306.8 955.0ZM802.0 973.0L797.0 973.2L794.6 971.0L794.7 967.0L797.0 963.0L799.0 962.7L803.6 967.0L804.0 971.0ZM549.0 984.8L543.0 988.5L539.0 988.1L534.2 981.0L533.0 972.8L537.0 971.8L549.0 976.8L550.5 981.0ZM444.3 1039.0L422.1 1039.0L426.9 1029.0L425.3 1025.0L427.0 1022.4L429.0 1023.9L431.4 1029.0L441.0 1029.8L444.0 1031.0L444.9 1033.0Z"/>
<path fill="#c08a31" fill-rule="evenodd" d="M605.0 311.5L603.7 309.0L604.0 301.0L611.2 301.0L609.0 308.9L607.0 311.1ZM727.0 489.8L725.0 489.0L725.3 487.0L727.0 485.5L729.3 487.0L728.8 489.0ZM707.0 527.2L704.4 525.0L705.0 522.7L707.0 522.9L708.0 525.0ZM719.3 751.0L709.5 759.0L705.0 765.0L701.0 773.0L697.0 775.5L689.0 776.9L685.0 776.2L675.0 768.2L659.0 762.8L656.1 765.0L653.4 775.0L651.0 776.9L649.0 776.6L647.0 774.8L643.2 767.0L642.6 763.0L645.0 759.4L649.5 757.0L651.0 755.0L650.3 753.0L647.3 751.0L641.0 749.7L639.0 747.9L632.2 737.0L627.8 725.0L617.3 721.0L614.9 717.0L617.0 714.2L619.0 713.9L629.0 720.7L643.0 718.9L647.0 721.1L653.0 727.5L655.0 727.7L673.0 709.4L687.0 707.2L689.9 709.0L695.0 715.4L705.0 716.3L708.6 719.0L718.7 741.0L720.0 747.0ZM613.0 818.4L611.7 815.0L611.8 811.0L614.8 801.0L625.0 789.7L629.0 788.3L631.0 790.2L631.6 793.0L629.2 809.0L627.0 811.0L613.5 817.0ZM545.0 805.1L541.0 805.8L537.0 802.7L533.6 795.0L535.0 790.8L537.0 789.8L541.0 790.4L546.1 795.0L547.7 801.0ZM611.0 872.9L607.0 869.0L604.2 863.0L604.5 859.0L607.0 852.9L611.0 849.6L621.0 845.5L633.0 846.1L636.7 843.0L636.8 841.0L634.7 837.0L631.0 835.2L627.0 834.7L619.0 838.2L609.0 833.6L604.9 829.0L606.1 823.0L611.0 817.7L613.0 819.4L617.0 827.6L619.0 829.3L623.0 830.5L625.0 829.6L630.8 823.0L635.5 813.0L643.0 809.8L649.0 810.8L649.8 815.0L647.0 827.0L643.0 833.0L639.2 843.0L641.7 859.0L641.0 865.4L637.0 869.2L631.0 871.3L625.0 872.0L617.0 870.7ZM613.0 885.0L610.8 877.0L611.0 875.3L613.0 874.1L616.5 879.0L615.0 884.4ZM627.0 924.9L623.4 923.0L622.1 921.0L623.4 911.0L622.6 909.0L611.9 899.0L611.0 893.4L613.0 888.1L615.0 888.1L619.0 891.3L625.0 892.0L627.0 890.5L631.0 881.2L633.0 879.6L637.0 879.1L641.5 881.0L645.5 885.0L646.5 889.0L646.0 893.0L643.0 899.9L632.8 905.0L635.3 913.0L635.0 917.0L631.0 923.6ZM526.4 893.0L521.0 898.7L517.0 900.1L511.5 899.0L508.9 895.0L511.0 888.2L515.0 886.1L522.6 889.0L525.6 891.0ZM475.0 936.1L471.8 935.0L468.9 931.0L466.9 925.0L469.0 923.5L475.0 927.8L477.5 931.0L477.0 934.6ZM602.0 1039.0L605.6 1029.0L603.4 1015.0L604.6 1009.0L609.0 1000.7L616.6 995.0L623.0 981.0L622.7 979.0L620.4 977.0L609.0 974.2L607.9 973.0L611.9 965.0L615.0 953.0L621.0 942.9L631.0 932.4L635.0 930.6L639.0 930.4L643.0 933.1L653.0 959.0L648.4 971.0L648.9 977.0L647.2 985.0L648.4 993.0L647.6 997.0L645.0 1001.1L637.7 1005.0L636.6 1007.0L640.7 1015.0L642.8 1027.0L650.9 1035.0L652.6 1039.0ZM384.7 1019.0L383.0 1020.1L379.0 1018.6L363.2 1005.0L375.0 1001.5L383.1 1003.0L384.9 1005.0Z"/>
<path fill="#8b5724" fill-rule="evenodd" d="M714.8 749.0L693.0 765.5L677.0 760.4L670.2 755.0L670.0 751.0L672.4 745.0L671.6 741.0L669.0 739.5L663.0 739.6L661.0 738.5L660.7 735.0L662.4 729.0L667.8 721.0L673.0 717.8L677.0 716.7L681.0 718.6L685.0 728.3L687.0 731.0L689.0 731.7L697.0 724.5L701.0 723.2L703.0 723.6L707.0 727.5L714.7 741.0L715.8 745.0ZM643.0 736.2L641.0 735.8L638.9 733.0L639.0 730.5L641.0 728.9L643.0 729.8L644.7 733.0ZM627.6 857.0L627.1 859.0L623.0 860.5L617.0 860.3L613.8 859.0L613.8 857.0L619.0 854.6L625.0 854.9ZM635.0 970.5L632.6 967.0L633.0 963.2L637.0 956.1L641.0 954.5L644.1 957.0L644.4 959.0L639.1 965.0L637.0 969.4ZM626.8 997.0L626.7 993.0L633.0 988.4L637.0 987.5L641.4 991.0L641.6 995.0L639.0 997.4L631.0 999.1ZM631.0 1022.4L629.0 1023.5L625.0 1023.0L617.4 1019.0L611.2 1013.0L610.5 1011.0L611.3 1007.0L613.2 1005.0L617.0 1004.4L627.0 1009.1L631.2 1013.0L633.1 1017.0ZM642.6 1039.0L628.2 1039.0L629.2 1031.0L631.0 1028.9L635.0 1029.8L640.4 1035.0Z"/>
</g>
<path d="M1476.0 601.0L1490.0 596.0L1505.0 591.0L1520.0 587.0L1516.0 592.0L1500.0 598.0L1485.0 603.0L1476.0 604.0Z" fill="#cdebe8" stroke="#231f20" stroke-width="0.8"/>
<path d="M1413.0 650.0L1417.0 654.0L1420.0 666.0L1425.0 682.0L1430.0 698.0L1432.0 708.0L1429.0 710.0L1425.0 700.0L1420.0 688.0L1416.0 672.0L1412.0 659.0Z" fill="#fff" stroke="#231f20" stroke-width="0.8"/>
<path d="M1442.0 650.0L1447.0 655.0L1449.0 663.0L1444.0 662.0L1440.0 656.0Z" fill="#fff" stroke="#231f20" stroke-width="0.8"/>
<path d="M616.7 569.3L626.0 568.0L630.0 575.0L637.0 580.0L642.8 588.0L638.0 598.0L632.0 600.3L625.0 592.0L618.0 582.0Z" fill="#fff" stroke="#231f20" stroke-width="0.8"/>
<path d="M402.0 372.0L407.0 366.0L410.0 382.0L413.0 399.0L408.0 404.0L404.0 392.0Z" fill="#fff" stroke="#231f20" stroke-width="0.8"/>
<path d="M1318.0 959.0L1326.0 958.0L1328.0 966.0L1322.0 970.0L1316.0 966.0Z" fill="#fff" stroke="#231f20" stroke-width="0.8"/>
<path d="M820.5 371.8L846.2 376.9L853.8 389.7L876.9 388.5" fill="none" stroke="#231f20" stroke-width="3.2" stroke-linejoin="round"/>
<path d="M820.5 371.8L846.2 376.9L853.8 389.7L876.9 388.5" fill="none" stroke="#fff" stroke-width="1.4" stroke-linejoin="round"/>
<path d="M887.2 417.9L889.7 443.6L892.3 466.7L879.5 479.5L892.3 487.2" fill="none" stroke="#231f20" stroke-width="3.2" stroke-linejoin="round"/>
<path d="M887.2 417.9L889.7 443.6L892.3 466.7L879.5 479.5L892.3 487.2" fill="none" stroke="#fff" stroke-width="1.4" stroke-linejoin="round"/>
<path d="M724.7 387.5L741.5 384.7L754.5 381.9L763.8 376.3L765.7 389.4" fill="none" stroke="#231f20" stroke-width="3.2" stroke-linejoin="round"/>
<path d="M724.7 387.5L741.5 384.7L754.5 381.9L763.8 376.3L765.7 389.4" fill="none" stroke="#fff" stroke-width="1.4" stroke-linejoin="round"/>
<path fill="none" stroke="#4d4d4f" stroke-width="1.1" d="M379.8 431.5L399.6 435.2L407.0 448.9L417.0 452.6L449.3 448.9L486.5 440.2L531.1 440.2M530.0 343.0L530.0 440.0M533.6 439.0L541.0 448.9L534.9 473.7L527.4 488.6L532.4 498.5L529.9 561.0M465.3 561.0L465.3 647.0L583.2 756.0M595.6 561.0L595.6 723.8M595.6 723.8L584.5 728.8L582.0 756.0L593.2 776.0L580.8 818.1M595.6 703.2L705.6 703.2M705.6 590.2L705.6 852.7M659.9 703.1L857.5 703.1M815.0 343.0L815.0 590.0M659.9 471.3L815.0 471.3M815.0 441.5L976.3 441.5M815.0 532.0L935.3 532.0L975.0 542.0M857.5 703.1L1020.2 703.1M835.4 717.7L902.9 717.7L902.9 769.4L942.5 783.4L977.4 789.2L1007.6 785.7L1021.6 792.7M976.3 516.0L1098.2 516.0M998.6 602.9L1090.0 602.9M1073.8 418.7L1061.0 448.9L1062.1 476.8L1083.1 493.1L1094.7 516.4L1098.2 532.7L1113.3 551.3L1116.8 567.6L1099.4 595.5L1100.8 598.5L1088.7 606.6L1092.8 624.7L1108.9 648.9L1119.0 657.0L1115.0 669.1L1133.1 685.2L1137.1 701.4M1104.0 418.7L1129.6 430.3L1166.8 448.9L1173.8 469.8M1108.9 546.5L1171.4 546.5M1176.5 569.0L1266.2 569.0M1176.5 569.0L1175.5 644.9L1173.5 669.1M1236.0 569.0L1236.0 645.0M1167.4 713.5L1360.0 716.5M1119.0 757.8L1248.0 757.8L1304.6 715.5M1163.4 757.8L1157.4 876.4M1219.8 757.8L1231.3 829.0L1233.3 868.2M1174.9 862.0L1231.3 862.0M1233.3 869.2L1294.9 873.3L1307.2 868.2M1036.4 810.4L1095.9 810.4M1137.1 701.4L1120.0 740.0L1105.0 780.0L1095.9 810.0L1090.0 840.0L1087.7 862.0L1127.7 862.0L1129.7 880.5M1268.3 761.9L1290.4 751.8L1309.0 770.0L1317.4 790.0L1309.0 817.0L1317.4 833.3M1290.0 752.2L1322.6 759.8L1348.6 763.1L1372.5 787.0M1290.0 715.3L1431.2 715.3M1331.3 627.8L1439.9 627.8M1353.0 627.8L1353.0 640.4M1260.2 713.5L1292.5 693.3M1347.6 561.8L1444.4 561.8M1442.0 561.0L1450.7 568.7L1457.2 580.6L1448.6 592.6L1455.1 614.3L1442.0 623.0M1435.5 644.7L1435.5 662.1L1449.6 662.1M1488.8 470.5L1485.4 513.2L1489.6 538.8L1483.6 590.0M1526.3 470.5L1516.0 491.0L1505.8 538.8M1536.6 462.0L1541.7 530.2M1489.6 539.6L1540.0 539.6M1484.5 561.0L1529.7 561.0M1518.0 561.0L1518.0 585.0"/>
<path fill="none" stroke="#231f20" stroke-width="1" d="M1131.0 374.0L1138.5 361.5L1159.0 346.0L1164.0 342.3L1207.7 351.3L1236.0 377.0L1241.0 402.6L1251.3 423.0L1261.5 438.5M1007.5 343.0L1010.0 330.0L1016.0 318.0L1020.0 309.0L1024.0 318.0L1031.0 330.0L1028.0 342.0L1022.0 349.0M1264.8 440.0L1272.2 441.9L1305.7 438.2L1324.3 441.9L1348.5 477.3L1339.2 486.6L1320.6 475.4L1305.7 464.2L1313.2 477.3L1303.9 501.5L1302.0 522.0L1289.0 531.3L1283.4 545.0M1276.0 550.0L1290.0 548.0L1302.7 542.4L1335.0 538.3L1362.0 530.0M1348.4 520.0L1361.5 507.0L1387.5 503.8L1410.3 497.3L1433.1 490.8"/>
<path d="M361.2 363.3L380.4 370.3L398.3 370.3L403.7 371.9L408.0 360.0L406.0 350.0L404.0 343.0L1007.5 343.0L1022.0 349.0L1039.0 356.0L1060.0 356.0L1074.0 364.0L1088.0 372.0L1104.0 368.6L1131.9 374.5L1097.2 395.4L1076.8 415.8L1104.7 409.3L1103.7 419.6L1115.8 419.6L1127.0 414.0L1140.0 410.3L1153.1 401.9L1156.8 397.2L1171.7 393.5L1160.5 402.8L1156.8 411.2L1171.7 410.3L1181.0 424.2L1194.0 425.2L1205.2 419.6L1231.3 415.8L1233.1 423.3L1248.0 425.2L1253.6 434.5L1264.8 440.0L1238.7 440.0L1223.8 437.3L1205.2 441.0L1197.8 447.5L1186.6 456.8L1166.1 482.9L1179.1 486.6L1173.6 505.2L1169.8 527.5L1171.7 553.6L1179.1 570.3L1190.3 570.3L1201.5 557.3L1205.2 536.8L1199.6 512.6L1201.5 490.3L1208.9 473.6L1218.2 466.1L1231.3 447.5L1246.2 449.4L1264.8 460.5L1268.5 471.7L1266.6 490.3L1257.3 505.2L1259.2 512.6L1274.1 501.5L1281.5 503.3L1287.1 527.5L1286.2 542.4L1277.8 548.0L1270.3 564.8L1279.7 575.9L1302.0 574.1L1331.8 561.0L1364.6 539.6L1353.0 524.0L1385.5 521.0L1400.0 523.4L1422.2 514.9L1425.6 499.5L1422.2 497.8L1432.4 487.5L1447.8 475.6L1456.3 471.3L1526.3 470.5L1529.7 463.6L1536.6 461.1L1545.1 453.4L1560.5 417.6L1578.4 392.8L1581.8 399.6L1598.0 396.2L1609.1 405.6L1609.1 448.3L1616.8 453.4L1627.0 475.6L1604.9 489.3L1587.8 491.0L1570.7 502.9L1550.2 516.6L1543.4 533.6L1548.5 543.9L1540.0 554.1L1546.8 562.7L1562.0 567.0L1560.0 559.0L1565.0 558.0L1566.0 570.0L1550.2 572.9L1529.7 579.7L1519.5 584.9L1488.8 588.3L1476.8 600.0L1470.3 601.3L1473.5 607.8L1470.3 620.8L1461.6 638.2L1455.1 646.9L1448.6 662.1L1442.0 677.3L1431.2 690.3L1429.0 699.0L1429.0 709.9L1433.3 716.4L1439.9 733.8L1439.9 751.1L1420.3 762.0L1403.0 768.5L1385.6 787.0L1372.5 788.1L1359.5 803.3L1344.3 814.1L1322.6 825.0L1318.2 840.0L1315.4 841.5L1309.2 864.1L1311.3 876.4L1325.0 923.6L1340.0 964.6L1338.0 1004.0L1323.0 1007.0L1315.4 1004.0L1301.0 977.0L1288.7 954.4L1282.6 935.9L1278.5 911.3L1260.0 888.7L1247.7 885.6L1225.1 892.8L1206.7 878.5L1186.2 876.4L1165.6 880.5L1143.1 878.5L1130.8 886.7L1137.0 911.3L1114.4 907.2L1093.8 905.1L1075.4 898.0L1046.7 893.8L1036.4 896.9L1022.0 901.0L1001.5 915.4L979.0 927.7L962.6 944.1L959.5 958.5L962.9 990.4L936.7 981.4L922.3 974.2L912.6 950.1L903.0 940.5L888.6 911.6L871.8 893.6L852.5 891.2L842.9 894.8L834.5 912.8L811.6 902.0L797.2 878.0L778.0 858.7L763.5 845.5L756.3 843.1L723.9 843.1L723.9 852.7L660.1 852.7L600.0 831.1L578.3 824.3L580.8 818.1L528.6 821.9L523.7 810.7L501.3 789.6L479.0 778.4L454.2 771.0L451.7 756.1L439.3 738.7L423.1 713.9L412.0 694.0L399.6 674.2L389.6 654.3L381.0 630.7L370.3 607.2L376.7 574.9L372.3 566.2L365.4 560.6L368.6 535.8L374.8 498.5L378.5 458.8L379.8 434.0L377.3 430.0L376.5 407.6L373.4 399.8L370.3 389.0L362.6 370.3Z" fill="none" stroke="#231f20" stroke-width="1"/>
<path fill="none" stroke="#050708" stroke-width="6" stroke-linejoin="round" stroke-linecap="round" d="M368.0 561.8L660.0 561.8M549.8 341.0L549.8 374.5L556.0 389.3L563.4 396.8L580.8 416.6L587.0 421.6L584.5 443.9L585.8 453.9L595.7 450.2L603.1 461.3L610.6 476.2L620.5 488.6L637.9 484.9L650.3 484.9L654.1 478.7L659.9 471.3L659.9 590.2L857.5 590.2L857.5 703.1L835.4 703.1L835.4 836.9L756.3 836.9L756.3 846.6M962.7 341.0L967.6 374.5L973.8 419.1L976.3 434.0L976.3 535.8L987.5 573.0L998.6 610.3L1007.3 620.0L1014.6 624.7L1010.1 634.8L1020.2 642.9L1020.2 717.5L1021.6 795.0L1033.3 795.4L1032.3 831.3L1042.6 858.0L1037.4 898.0M1020.2 717.5L1117.0 717.5L1115.0 729.6L1127.1 731.6L1133.1 715.5L1139.2 707.4L1141.2 697.3L1153.3 695.3L1155.3 701.4L1161.4 689.3L1163.4 679.2L1185.6 679.2L1213.8 665.1L1227.9 655.0L1236.0 644.9L1266.2 657.0L1278.3 657.0L1286.4 667.1L1284.4 681.2L1292.5 691.3L1308.6 697.3L1334.8 693.3L1344.9 667.1L1370.4 646.9L1376.9 634.9L1389.9 642.5L1396.4 641.5L1409.5 651.2L1435.5 639.3L1439.9 624.1L1444.2 633.8L1450.7 646.9L1456.2 648.0M1334.8 560.2L1330.8 608.6L1324.7 630.8L1302.5 640.8L1288.4 655.0L1286.4 667.1"/>
<path fill="none" stroke="#050708" stroke-width="5" stroke-dasharray="5 7.6" d="M861.0 620.0L1000.6 620.0"/></svg>
<div class="pn" style="left:213px;top:31px;width:327px;height:268px;z-index:1"></div>
<div class="pn" style="left:642.4px;top:51.3px;width:326.9px;height:269.3px;z-index:1"></div>
<div class="pn" style="left:1110.1px;top:58.5px;width:327.7px;height:272px;z-index:1"></div>
<div class="pn" style="left:1492.7px;top:57.2px;width:378.6px;height:310.8px;z-index:1;box-sizing:border-box;border:4px solid #000"></div>
<div class="pn" style="left:28px;top:335.9px;width:327.2px;height:245.1px;z-index:1"></div>
<div class="pn" style="left:47.4px;top:639.8px;width:327.7px;height:275.3px;z-index:1"></div>
<div class="pn" style="left:133.7px;top:942px;width:327.3px;height:281.9px;z-index:1"></div>
<div class="pn" style="left:526.9px;top:959px;width:327.4px;height:266px;z-index:1"></div>
<div class="pn" style="left:964px;top:979.5px;width:328px;height:271.3px;z-index:1"></div>
<div class="pn" style="left:1578.5px;top:534.4px;width:327.8px;height:270.6px;z-index:1"></div>
<svg width="1950" height="1289" viewBox="0 0 1950 1289" style="z-index:2">
<rect x="272.7" y="83.7" width="251.3" height="164.3" fill="#f3f3f3"/>
<rect x="275.4" y="165.85" width="18" height="8.98" fill="#a8652a"/>
<rect x="297.93" y="164.75" width="18" height="1.1" fill="#15876f"/>
<rect x="320.46" y="156.81" width="18" height="9.04" fill="#15876f"/>
<rect x="342.99" y="164.75" width="18" height="1.1" fill="#15876f"/>
<rect x="365.52" y="163.11" width="18" height="2.74" fill="#15876f"/>
<rect x="388.05" y="165.85" width="18" height="5.48" fill="#a8652a"/>
<rect x="410.58" y="165.85" width="18" height="16.98" fill="#a8652a"/>
<rect x="433.11" y="165.85" width="18" height="8.76" fill="#a8652a"/>
<rect x="455.64" y="163.11" width="18" height="2.74" fill="#15876f"/>
<rect x="478.17" y="159.83" width="18" height="6.02" fill="#15876f"/>
<rect x="500.7" y="155.99" width="18" height="9.86" fill="#15876f"/>
<path d="M272.7 248h6M524 248h-6M272.7 242.52h3M524 242.52h-3M272.7 237.05h3M524 237.05h-3M272.7 231.57h3M524 231.57h-3M272.7 226.09h3M524 226.09h-3M272.7 220.62h6M524 220.62h-6M272.7 215.14h3M524 215.14h-3M272.7 209.66h3M524 209.66h-3M272.7 204.19h3M524 204.19h-3M272.7 198.71h3M524 198.71h-3M272.7 193.23h6M524 193.23h-6M272.7 187.76h3M524 187.76h-3M272.7 182.28h3M524 182.28h-3M272.7 176.8h3M524 176.8h-3M272.7 171.33h3M524 171.33h-3M272.7 165.85h6M524 165.85h-6M272.7 160.37h3M524 160.37h-3M272.7 154.9h3M524 154.9h-3M272.7 149.42h3M524 149.42h-3M272.7 143.94h3M524 143.94h-3M272.7 138.47h6M524 138.47h-6M272.7 132.99h3M524 132.99h-3M272.7 127.51h3M524 127.51h-3M272.7 122.04h3M524 122.04h-3M272.7 116.56h3M524 116.56h-3M272.7 111.08h6M524 111.08h-6M272.7 105.61h3M524 105.61h-3M272.7 100.13h3M524 100.13h-3M272.7 94.65h3M524 94.65h-3M272.7 89.18h3M524 89.18h-3M272.7 83.7h6M524 83.7h-6M287.2 248v-6M309.43 248v-6M331.66 248v-6M353.89 248v-6M376.12 248v-6M398.35 248v-6M420.58 248v-6M442.81 248v-6M465.04 248v-6M487.27 248v-6M509.5 248v-6" stroke="#231f20" stroke-width="1.1" fill="none"/>
<path d="M272.7 165.85H524" stroke="#231f20" stroke-width="2"/>
<rect x="272.7" y="83.7" width="251.3" height="164.3" fill="none" stroke="#231f20" stroke-width="1.6"/>
<text x="267.7" y="92.7" font-size="21.5" text-anchor="end" textLength="19.13" lengthAdjust="spacingAndGlyphs">15</text>
<text x="267.7" y="173.35" font-size="21.5" text-anchor="end" textLength="9.57" lengthAdjust="spacingAndGlyphs">0</text>
<text x="267.7" y="251" font-size="21.5" text-anchor="end" textLength="24.86" lengthAdjust="spacingAndGlyphs">-15</text>
<text x="287.2" y="267.7" font-size="18.5" text-anchor="middle" textLength="38.31" lengthAdjust="spacingAndGlyphs">1900s</text>
<text x="334.66" y="267.7" font-size="18.5" text-anchor="middle" textLength="22.67" lengthAdjust="spacingAndGlyphs">20s</text>
<text x="379.12" y="267.7" font-size="18.5" text-anchor="middle" textLength="22.67" lengthAdjust="spacingAndGlyphs">40s</text>
<text x="423.58" y="267.7" font-size="18.5" text-anchor="middle" textLength="22.67" lengthAdjust="spacingAndGlyphs">60s</text>
<text x="468.04" y="267.7" font-size="18.5" text-anchor="middle" textLength="22.67" lengthAdjust="spacingAndGlyphs">80s</text>
<text x="512.5" y="267.7" font-size="18.5" text-anchor="middle" textLength="22.67" lengthAdjust="spacingAndGlyphs">00s</text>
<g transform="translate(235.45 161.7) rotate(-90)"><text x="0" y="0" font-size="17.5" text-anchor="middle" textLength="165.3" lengthAdjust="spacingAndGlyphs">Precipitation Change (%)</text></g>
<text x="393.85" y="288.3" font-size="22.5" text-anchor="middle" textLength="76.3" lengthAdjust="spacingAndGlyphs">Decade</text>
<text x="234.3" y="65" font-size="40" textLength="99" lengthAdjust="spacingAndGlyphs" stroke="#231f20" stroke-width="0.45">Alaska</text>
<rect x="707.6" y="113.1" width="246.4" height="158" fill="#f3f3f3"/>
<rect x="712.6" y="167.14" width="17.6" height="24.96" fill="#15876f"/>
<rect x="734.52" y="179.93" width="17.6" height="12.17" fill="#15876f"/>
<rect x="756.44" y="176.35" width="17.6" height="15.75" fill="#15876f"/>
<rect x="778.36" y="192.1" width="17.6" height="68.41" fill="#a8652a"/>
<rect x="800.28" y="153.18" width="17.6" height="38.92" fill="#15876f"/>
<rect x="822.2" y="192.1" width="17.6" height="20.7" fill="#a8652a"/>
<rect x="844.12" y="174.09" width="17.6" height="18.01" fill="#15876f"/>
<rect x="866.04" y="182.88" width="17.6" height="9.22" fill="#15876f"/>
<rect x="887.96" y="186.04" width="17.6" height="6.06" fill="#15876f"/>
<rect x="909.88" y="140.54" width="17.6" height="51.56" fill="#15876f"/>
<rect x="931.8" y="181.51" width="17.6" height="10.59" fill="#15876f"/>
<path d="M707.6 271.1h6M954 271.1h-6M707.6 265.83h3M954 265.83h-3M707.6 260.57h3M954 260.57h-3M707.6 255.3h3M954 255.3h-3M707.6 250.03h3M954 250.03h-3M707.6 244.77h6M954 244.77h-6M707.6 239.5h3M954 239.5h-3M707.6 234.23h3M954 234.23h-3M707.6 228.97h3M954 228.97h-3M707.6 223.7h3M954 223.7h-3M707.6 218.43h6M954 218.43h-6M707.6 213.17h3M954 213.17h-3M707.6 207.9h3M954 207.9h-3M707.6 202.63h3M954 202.63h-3M707.6 197.37h3M954 197.37h-3M707.6 192.1h6M954 192.1h-6M707.6 186.83h3M954 186.83h-3M707.6 181.57h3M954 181.57h-3M707.6 176.3h3M954 176.3h-3M707.6 171.03h3M954 171.03h-3M707.6 165.77h6M954 165.77h-6M707.6 160.5h3M954 160.5h-3M707.6 155.23h3M954 155.23h-3M707.6 149.97h3M954 149.97h-3M707.6 144.7h3M954 144.7h-3M707.6 139.43h6M954 139.43h-6M707.6 134.17h3M954 134.17h-3M707.6 128.9h3M954 128.9h-3M707.6 123.63h3M954 123.63h-3M707.6 118.37h3M954 118.37h-3M707.6 113.1h6M954 113.1h-6M722.1 271.1v-6M743.84 271.1v-6M765.58 271.1v-6M787.32 271.1v-6M809.06 271.1v-6M830.8 271.1v-6M852.54 271.1v-6M874.28 271.1v-6M896.02 271.1v-6M917.76 271.1v-6M939.5 271.1v-6" stroke="#231f20" stroke-width="1.1" fill="none"/>
<path d="M707.6 192.1H954" stroke="#231f20" stroke-width="2"/>
<rect x="707.6" y="113.1" width="246.4" height="158" fill="none" stroke="#231f20" stroke-width="1.6"/>
<text x="702.6" y="122.1" font-size="21.5" text-anchor="end" textLength="19.13" lengthAdjust="spacingAndGlyphs">15</text>
<text x="702.6" y="199.6" font-size="21.5" text-anchor="end" textLength="9.57" lengthAdjust="spacingAndGlyphs">0</text>
<text x="702.6" y="274.1" font-size="21.5" text-anchor="end" textLength="24.86" lengthAdjust="spacingAndGlyphs">-15</text>
<text x="722.1" y="291.6" font-size="18.5" text-anchor="middle" textLength="38.31" lengthAdjust="spacingAndGlyphs">1900s</text>
<text x="768.58" y="291.6" font-size="18.5" text-anchor="middle" textLength="22.67" lengthAdjust="spacingAndGlyphs">20s</text>
<text x="812.06" y="291.6" font-size="18.5" text-anchor="middle" textLength="22.67" lengthAdjust="spacingAndGlyphs">40s</text>
<text x="855.54" y="291.6" font-size="18.5" text-anchor="middle" textLength="22.67" lengthAdjust="spacingAndGlyphs">60s</text>
<text x="899.02" y="291.6" font-size="18.5" text-anchor="middle" textLength="22.67" lengthAdjust="spacingAndGlyphs">80s</text>
<text x="942.5" y="291.6" font-size="18.5" text-anchor="middle" textLength="22.67" lengthAdjust="spacingAndGlyphs">00s</text>
<g transform="translate(671.65 188.8) rotate(-90)"><text x="0" y="0" font-size="17.5" text-anchor="middle" textLength="164.7" lengthAdjust="spacingAndGlyphs">Precipitation Change (%)</text></g>
<text x="823.5" y="311.6" font-size="22.5" text-anchor="middle" textLength="76.5" lengthAdjust="spacingAndGlyphs">Decade</text>
<text x="657.5" y="88.4" font-size="40" textLength="264" lengthAdjust="spacingAndGlyphs" stroke="#231f20" stroke-width="0.45">Great Plains North</text>
<rect x="1171" y="114.6" width="249.5" height="162.6" fill="#f3f3f3"/>
<rect x="1177.6" y="190.26" width="17.4" height="5.64" fill="#15876f"/>
<rect x="1199.42" y="195.9" width="17.4" height="0.92" fill="#a8652a"/>
<rect x="1221.24" y="194.11" width="17.4" height="1.79" fill="#15876f"/>
<rect x="1243.06" y="195.9" width="17.4" height="24.5" fill="#a8652a"/>
<rect x="1264.88" y="170.05" width="17.4" height="25.85" fill="#15876f"/>
<rect x="1286.7" y="195.9" width="17.4" height="6.99" fill="#a8652a"/>
<rect x="1308.52" y="191.62" width="17.4" height="4.28" fill="#15876f"/>
<rect x="1330.34" y="175.2" width="17.4" height="20.7" fill="#15876f"/>
<rect x="1352.16" y="156.12" width="17.4" height="39.78" fill="#15876f"/>
<rect x="1373.98" y="155.63" width="17.4" height="40.27" fill="#15876f"/>
<rect x="1395.8" y="147.55" width="17.4" height="48.35" fill="#15876f"/>
<path d="M1171 277.2h6M1420.5 277.2h-6M1171 271.78h3M1420.5 271.78h-3M1171 266.36h3M1420.5 266.36h-3M1171 260.94h3M1420.5 260.94h-3M1171 255.52h3M1420.5 255.52h-3M1171 250.1h6M1420.5 250.1h-6M1171 244.68h3M1420.5 244.68h-3M1171 239.26h3M1420.5 239.26h-3M1171 233.84h3M1420.5 233.84h-3M1171 228.42h3M1420.5 228.42h-3M1171 223h6M1420.5 223h-6M1171 217.58h3M1420.5 217.58h-3M1171 212.16h3M1420.5 212.16h-3M1171 206.74h3M1420.5 206.74h-3M1171 201.32h3M1420.5 201.32h-3M1171 195.9h6M1420.5 195.9h-6M1171 190.48h3M1420.5 190.48h-3M1171 185.06h3M1420.5 185.06h-3M1171 179.64h3M1420.5 179.64h-3M1171 174.22h3M1420.5 174.22h-3M1171 168.8h6M1420.5 168.8h-6M1171 163.38h3M1420.5 163.38h-3M1171 157.96h3M1420.5 157.96h-3M1171 152.54h3M1420.5 152.54h-3M1171 147.12h3M1420.5 147.12h-3M1171 141.7h6M1420.5 141.7h-6M1171 136.28h3M1420.5 136.28h-3M1171 130.86h3M1420.5 130.86h-3M1171 125.44h3M1420.5 125.44h-3M1171 120.02h3M1420.5 120.02h-3M1171 114.6h6M1420.5 114.6h-6M1185.5 277.2v-6M1207.55 277.2v-6M1229.6 277.2v-6M1251.65 277.2v-6M1273.7 277.2v-6M1295.75 277.2v-6M1317.8 277.2v-6M1339.85 277.2v-6M1361.9 277.2v-6M1383.95 277.2v-6M1406 277.2v-6" stroke="#231f20" stroke-width="1.1" fill="none"/>
<path d="M1171 195.9H1420.5" stroke="#231f20" stroke-width="2"/>
<rect x="1171" y="114.6" width="249.5" height="162.6" fill="none" stroke="#231f20" stroke-width="1.6"/>
<text x="1166" y="123.6" font-size="21.5" text-anchor="end" textLength="19.13" lengthAdjust="spacingAndGlyphs">15</text>
<text x="1166" y="203.4" font-size="21.5" text-anchor="end" textLength="9.57" lengthAdjust="spacingAndGlyphs">0</text>
<text x="1166" y="280.2" font-size="21.5" text-anchor="end" textLength="24.86" lengthAdjust="spacingAndGlyphs">-15</text>
<text x="1185.5" y="297" font-size="18.5" text-anchor="middle" textLength="38.31" lengthAdjust="spacingAndGlyphs">1900s</text>
<text x="1232.6" y="297" font-size="18.5" text-anchor="middle" textLength="22.67" lengthAdjust="spacingAndGlyphs">20s</text>
<text x="1276.7" y="297" font-size="18.5" text-anchor="middle" textLength="22.67" lengthAdjust="spacingAndGlyphs">40s</text>
<text x="1320.8" y="297" font-size="18.5" text-anchor="middle" textLength="22.67" lengthAdjust="spacingAndGlyphs">60s</text>
<text x="1364.9" y="297" font-size="18.5" text-anchor="middle" textLength="22.67" lengthAdjust="spacingAndGlyphs">80s</text>
<text x="1409" y="297" font-size="18.5" text-anchor="middle" textLength="22.67" lengthAdjust="spacingAndGlyphs">00s</text>
<g transform="translate(1135.75 196) rotate(-90)"><text x="0" y="0" font-size="17.5" text-anchor="middle" textLength="164.6" lengthAdjust="spacingAndGlyphs">Precipitation Change (%)</text></g>
<text x="1300.65" y="318.8" font-size="22.5" text-anchor="middle" textLength="76.5" lengthAdjust="spacingAndGlyphs">Decade</text>
<text x="1133.3" y="93.9" font-size="40" textLength="122.6" lengthAdjust="spacingAndGlyphs" stroke="#231f20" stroke-width="0.45">Midwest</text>
<rect x="1570.5" y="127" width="280.7" height="183" fill="#f3f3f3"/>
<rect x="1574.2" y="211.61" width="20.2" height="6.89" fill="#15876f"/>
<rect x="1599.21" y="211.12" width="20.2" height="7.38" fill="#15876f"/>
<rect x="1624.22" y="218.5" width="20.2" height="5" fill="#a8652a"/>
<rect x="1649.23" y="218.5" width="20.2" height="19.52" fill="#a8652a"/>
<rect x="1674.24" y="192.64" width="20.2" height="25.86" fill="#15876f"/>
<rect x="1699.25" y="218.5" width="20.2" height="11.89" fill="#a8652a"/>
<rect x="1724.26" y="218.5" width="20.2" height="2.38" fill="#a8652a"/>
<rect x="1749.27" y="189.16" width="20.2" height="29.34" fill="#15876f"/>
<rect x="1774.28" y="191.54" width="20.2" height="26.96" fill="#15876f"/>
<rect x="1799.29" y="174.4" width="20.2" height="44.1" fill="#15876f"/>
<rect x="1824.3" y="200.81" width="20.2" height="17.69" fill="#15876f"/>
<path d="M1570.5 310h6M1851.2 310h-6M1570.5 303.9h3M1851.2 303.9h-3M1570.5 297.8h3M1851.2 297.8h-3M1570.5 291.7h3M1851.2 291.7h-3M1570.5 285.6h3M1851.2 285.6h-3M1570.5 279.5h6M1851.2 279.5h-6M1570.5 273.4h3M1851.2 273.4h-3M1570.5 267.3h3M1851.2 267.3h-3M1570.5 261.2h3M1851.2 261.2h-3M1570.5 255.1h3M1851.2 255.1h-3M1570.5 249h6M1851.2 249h-6M1570.5 242.9h3M1851.2 242.9h-3M1570.5 236.8h3M1851.2 236.8h-3M1570.5 230.7h3M1851.2 230.7h-3M1570.5 224.6h3M1851.2 224.6h-3M1570.5 218.5h6M1851.2 218.5h-6M1570.5 212.4h3M1851.2 212.4h-3M1570.5 206.3h3M1851.2 206.3h-3M1570.5 200.2h3M1851.2 200.2h-3M1570.5 194.1h3M1851.2 194.1h-3M1570.5 188h6M1851.2 188h-6M1570.5 181.9h3M1851.2 181.9h-3M1570.5 175.8h3M1851.2 175.8h-3M1570.5 169.7h3M1851.2 169.7h-3M1570.5 163.6h3M1851.2 163.6h-3M1570.5 157.5h6M1851.2 157.5h-6M1570.5 151.4h3M1851.2 151.4h-3M1570.5 145.3h3M1851.2 145.3h-3M1570.5 139.2h3M1851.2 139.2h-3M1570.5 133.1h3M1851.2 133.1h-3M1570.5 127h6M1851.2 127h-6M1585 310v-6M1610.17 310v-6M1635.34 310v-6M1660.51 310v-6M1685.68 310v-6M1710.85 310v-6M1736.02 310v-6M1761.19 310v-6M1786.36 310v-6M1811.53 310v-6M1836.7 310v-6" stroke="#231f20" stroke-width="1.1" fill="none"/>
<path d="M1570.5 218.5H1851.2" stroke="#231f20" stroke-width="2"/>
<rect x="1570.5" y="127" width="280.7" height="183" fill="none" stroke="#231f20" stroke-width="1.6"/>
<text x="1564.45" y="137.88" font-size="26" text-anchor="end" textLength="23.14" lengthAdjust="spacingAndGlyphs">15</text>
<text x="1564.45" y="227.57" font-size="26" text-anchor="end" textLength="11.57" lengthAdjust="spacingAndGlyphs">0</text>
<text x="1564.45" y="313.63" font-size="26" text-anchor="end" textLength="30.06" lengthAdjust="spacingAndGlyphs">-15</text>
<text x="1585" y="332" font-size="22.5" text-anchor="middle" textLength="46.59" lengthAdjust="spacingAndGlyphs">1900s</text>
<text x="1638.34" y="332" font-size="22.5" text-anchor="middle" textLength="27.57" lengthAdjust="spacingAndGlyphs">20s</text>
<text x="1688.68" y="332" font-size="22.5" text-anchor="middle" textLength="27.57" lengthAdjust="spacingAndGlyphs">40s</text>
<text x="1739.02" y="332" font-size="22.5" text-anchor="middle" textLength="27.57" lengthAdjust="spacingAndGlyphs">60s</text>
<text x="1789.36" y="332" font-size="22.5" text-anchor="middle" textLength="27.57" lengthAdjust="spacingAndGlyphs">80s</text>
<text x="1837.41" y="332" font-size="22.5" text-anchor="middle" textLength="27.57" lengthAdjust="spacingAndGlyphs">00s</text>
<g transform="translate(1525.1 213) rotate(-90)"><text x="0" y="0" font-size="20" text-anchor="middle" textLength="188.7" lengthAdjust="spacingAndGlyphs">Precipitation Change (%)</text></g>
<text x="1704.35" y="355.3" font-size="25" text-anchor="middle" textLength="87" lengthAdjust="spacingAndGlyphs">Decade</text>
<text x="1524.3" y="104.6" font-size="40" textLength="219.5" lengthAdjust="spacingAndGlyphs" stroke="#231f20" stroke-width="0.45">U.S. Average</text>
<rect x="91.6" y="393.5" width="247.8" height="161.7" fill="#f3f3f3"/>
<rect x="98.55" y="450.9" width="17.3" height="23.45" fill="#15876f"/>
<rect x="120.38" y="474.35" width="17.3" height="3.77" fill="#a8652a"/>
<rect x="142.21" y="474.35" width="17.3" height="45.65" fill="#a8652a"/>
<rect x="164.04" y="474.35" width="17.3" height="16.76" fill="#a8652a"/>
<rect x="185.87" y="456.13" width="17.3" height="18.22" fill="#15876f"/>
<rect x="207.7" y="452.79" width="17.3" height="21.56" fill="#15876f"/>
<rect x="229.53" y="454.03" width="17.3" height="20.32" fill="#15876f"/>
<rect x="251.36" y="454.46" width="17.3" height="19.89" fill="#15876f"/>
<rect x="273.19" y="456.13" width="17.3" height="18.22" fill="#15876f"/>
<rect x="295.02" y="436.84" width="17.3" height="37.51" fill="#15876f"/>
<rect x="316.85" y="473.49" width="17.3" height="0.86" fill="#15876f"/>
<path d="M91.6 555.2h6M339.4 555.2h-6M91.6 549.81h3M339.4 549.81h-3M91.6 544.42h3M339.4 544.42h-3M91.6 539.03h3M339.4 539.03h-3M91.6 533.64h3M339.4 533.64h-3M91.6 528.25h6M339.4 528.25h-6M91.6 522.86h3M339.4 522.86h-3M91.6 517.47h3M339.4 517.47h-3M91.6 512.08h3M339.4 512.08h-3M91.6 506.69h3M339.4 506.69h-3M91.6 501.3h6M339.4 501.3h-6M91.6 495.91h3M339.4 495.91h-3M91.6 490.52h3M339.4 490.52h-3M91.6 485.13h3M339.4 485.13h-3M91.6 479.74h3M339.4 479.74h-3M91.6 474.35h6M339.4 474.35h-6M91.6 468.96h3M339.4 468.96h-3M91.6 463.57h3M339.4 463.57h-3M91.6 458.18h3M339.4 458.18h-3M91.6 452.79h3M339.4 452.79h-3M91.6 447.4h6M339.4 447.4h-6M91.6 442.01h3M339.4 442.01h-3M91.6 436.62h3M339.4 436.62h-3M91.6 431.23h3M339.4 431.23h-3M91.6 425.84h3M339.4 425.84h-3M91.6 420.45h6M339.4 420.45h-6M91.6 415.06h3M339.4 415.06h-3M91.6 409.67h3M339.4 409.67h-3M91.6 404.28h3M339.4 404.28h-3M91.6 398.89h3M339.4 398.89h-3M91.6 393.5h6M339.4 393.5h-6M106.1 555.2v-6M127.98 555.2v-6M149.86 555.2v-6M171.74 555.2v-6M193.62 555.2v-6M215.5 555.2v-6M237.38 555.2v-6M259.26 555.2v-6M281.14 555.2v-6M303.02 555.2v-6M324.9 555.2v-6" stroke="#231f20" stroke-width="1.1" fill="none"/>
<path d="M91.6 474.35H339.4" stroke="#231f20" stroke-width="2"/>
<rect x="91.6" y="393.5" width="247.8" height="161.7" fill="none" stroke="#231f20" stroke-width="1.6"/>
<text x="86.6" y="402.5" font-size="21.5" text-anchor="end" textLength="19.13" lengthAdjust="spacingAndGlyphs">15</text>
<text x="86.6" y="481.85" font-size="21.5" text-anchor="end" textLength="9.57" lengthAdjust="spacingAndGlyphs">0</text>
<text x="86.6" y="558.2" font-size="21.5" text-anchor="end" textLength="24.86" lengthAdjust="spacingAndGlyphs">-15</text>
<text x="106.1" y="576.1" font-size="18.5" text-anchor="middle" textLength="38.31" lengthAdjust="spacingAndGlyphs">1900s</text>
<text x="152.86" y="576.1" font-size="18.5" text-anchor="middle" textLength="22.67" lengthAdjust="spacingAndGlyphs">20s</text>
<text x="196.62" y="576.1" font-size="18.5" text-anchor="middle" textLength="22.67" lengthAdjust="spacingAndGlyphs">40s</text>
<text x="240.38" y="576.1" font-size="18.5" text-anchor="middle" textLength="22.67" lengthAdjust="spacingAndGlyphs">60s</text>
<text x="284.14" y="576.1" font-size="18.5" text-anchor="middle" textLength="22.67" lengthAdjust="spacingAndGlyphs">80s</text>
<text x="327.9" y="576.1" font-size="18.5" text-anchor="middle" textLength="22.67" lengthAdjust="spacingAndGlyphs">00s</text>
<g transform="translate(55.35 473.5) rotate(-90)"><text x="0" y="0" font-size="17.5" text-anchor="middle" textLength="165.5" lengthAdjust="spacingAndGlyphs">Precipitation Change (%)</text></g>
<text x="60.2" y="371.9" font-size="40" textLength="150.8" lengthAdjust="spacingAndGlyphs" stroke="#231f20" stroke-width="0.45">Northwest</text>
<rect x="107.5" y="695.6" width="249.9" height="162" fill="#f3f3f3"/>
<rect x="114" y="747.06" width="17.8" height="29.54" fill="#15876f"/>
<rect x="136.15" y="748.68" width="17.8" height="27.92" fill="#15876f"/>
<rect x="158.3" y="776.6" width="17.8" height="23.06" fill="#a8652a"/>
<rect x="180.45" y="776.6" width="17.8" height="5.83" fill="#a8652a"/>
<rect x="202.6" y="774.76" width="17.8" height="1.84" fill="#15876f"/>
<rect x="224.75" y="776.6" width="17.8" height="29.81" fill="#a8652a"/>
<rect x="246.9" y="776.6" width="17.8" height="1.4" fill="#a8652a"/>
<rect x="269.05" y="776.6" width="17.8" height="9.77" fill="#a8652a"/>
<rect x="291.2" y="735.88" width="17.8" height="40.72" fill="#15876f"/>
<rect x="313.35" y="723.52" width="17.8" height="53.08" fill="#15876f"/>
<rect x="335.5" y="776.6" width="17.8" height="27" fill="#a8652a"/>
<path d="M107.5 857.6h6M357.4 857.6h-6M107.5 852.2h3M357.4 852.2h-3M107.5 846.8h3M357.4 846.8h-3M107.5 841.4h3M357.4 841.4h-3M107.5 836h3M357.4 836h-3M107.5 830.6h6M357.4 830.6h-6M107.5 825.2h3M357.4 825.2h-3M107.5 819.8h3M357.4 819.8h-3M107.5 814.4h3M357.4 814.4h-3M107.5 809h3M357.4 809h-3M107.5 803.6h6M357.4 803.6h-6M107.5 798.2h3M357.4 798.2h-3M107.5 792.8h3M357.4 792.8h-3M107.5 787.4h3M357.4 787.4h-3M107.5 782h3M357.4 782h-3M107.5 776.6h6M357.4 776.6h-6M107.5 771.2h3M357.4 771.2h-3M107.5 765.8h3M357.4 765.8h-3M107.5 760.4h3M357.4 760.4h-3M107.5 755h3M357.4 755h-3M107.5 749.6h6M357.4 749.6h-6M107.5 744.2h3M357.4 744.2h-3M107.5 738.8h3M357.4 738.8h-3M107.5 733.4h3M357.4 733.4h-3M107.5 728h3M357.4 728h-3M107.5 722.6h6M357.4 722.6h-6M107.5 717.2h3M357.4 717.2h-3M107.5 711.8h3M357.4 711.8h-3M107.5 706.4h3M357.4 706.4h-3M107.5 701h3M357.4 701h-3M107.5 695.6h6M357.4 695.6h-6M122 857.6v-6M144.09 857.6v-6M166.18 857.6v-6M188.27 857.6v-6M210.36 857.6v-6M232.45 857.6v-6M254.54 857.6v-6M276.63 857.6v-6M298.72 857.6v-6M320.81 857.6v-6M342.9 857.6v-6" stroke="#231f20" stroke-width="1.1" fill="none"/>
<path d="M107.5 776.6H357.4" stroke="#231f20" stroke-width="2"/>
<rect x="107.5" y="695.6" width="249.9" height="162" fill="none" stroke="#231f20" stroke-width="1.6"/>
<text x="102.5" y="704.6" font-size="21.5" text-anchor="end" textLength="19.13" lengthAdjust="spacingAndGlyphs">15</text>
<text x="102.5" y="784.1" font-size="21.5" text-anchor="end" textLength="9.57" lengthAdjust="spacingAndGlyphs">0</text>
<text x="102.5" y="860.6" font-size="21.5" text-anchor="end" textLength="24.86" lengthAdjust="spacingAndGlyphs">-15</text>
<text x="122" y="879" font-size="18.5" text-anchor="middle" textLength="38.31" lengthAdjust="spacingAndGlyphs">1900s</text>
<text x="169.18" y="879" font-size="18.5" text-anchor="middle" textLength="22.67" lengthAdjust="spacingAndGlyphs">20s</text>
<text x="213.36" y="879" font-size="18.5" text-anchor="middle" textLength="22.67" lengthAdjust="spacingAndGlyphs">40s</text>
<text x="257.54" y="879" font-size="18.5" text-anchor="middle" textLength="22.67" lengthAdjust="spacingAndGlyphs">60s</text>
<text x="301.72" y="879" font-size="18.5" text-anchor="middle" textLength="22.67" lengthAdjust="spacingAndGlyphs">80s</text>
<text x="345.9" y="879" font-size="18.5" text-anchor="middle" textLength="22.67" lengthAdjust="spacingAndGlyphs">00s</text>
<g transform="translate(71.25 776) rotate(-90)"><text x="0" y="0" font-size="17.5" text-anchor="middle" textLength="166.4" lengthAdjust="spacingAndGlyphs">Precipitation Change (%)</text></g>
<text x="229.45" y="904.6" font-size="22.5" text-anchor="middle" textLength="76.3" lengthAdjust="spacingAndGlyphs">Decade</text>
<text x="67.5" y="674.9" font-size="40" textLength="155.7" lengthAdjust="spacingAndGlyphs" stroke="#231f20" stroke-width="0.45">Southwest</text>
<rect x="194.6" y="991.8" width="254.9" height="166" fill="#f3f3f3"/>
<rect x="203.2" y="1055.82" width="17.8" height="18.98" fill="#15876f"/>
<rect x="225.37" y="1059.14" width="17.8" height="15.66" fill="#15876f"/>
<rect x="247.54" y="1072.14" width="17.8" height="2.66" fill="#15876f"/>
<rect x="269.71" y="1070.93" width="17.8" height="3.87" fill="#15876f"/>
<rect x="291.88" y="1074.8" width="17.8" height="24.79" fill="#a8652a"/>
<rect x="314.05" y="1074.8" width="17.8" height="17.82" fill="#a8652a"/>
<rect x="336.22" y="1064.95" width="17.8" height="9.85" fill="#15876f"/>
<rect x="358.39" y="1074.8" width="17.8" height="44.76" fill="#a8652a"/>
<rect x="380.56" y="1074.8" width="17.8" height="7.91" fill="#a8652a"/>
<rect x="402.73" y="1074.8" width="17.8" height="53.67" fill="#a8652a"/>
<rect x="424.9" y="1074.8" width="17.8" height="95.51" fill="#a8652a"/>
<path d="M194.6 1157.8h6M449.5 1157.8h-6M194.6 1152.27h3M449.5 1152.27h-3M194.6 1146.73h3M449.5 1146.73h-3M194.6 1141.2h3M449.5 1141.2h-3M194.6 1135.67h3M449.5 1135.67h-3M194.6 1130.13h6M449.5 1130.13h-6M194.6 1124.6h3M449.5 1124.6h-3M194.6 1119.07h3M449.5 1119.07h-3M194.6 1113.53h3M449.5 1113.53h-3M194.6 1108h3M449.5 1108h-3M194.6 1102.47h6M449.5 1102.47h-6M194.6 1096.93h3M449.5 1096.93h-3M194.6 1091.4h3M449.5 1091.4h-3M194.6 1085.87h3M449.5 1085.87h-3M194.6 1080.33h3M449.5 1080.33h-3M194.6 1074.8h6M449.5 1074.8h-6M194.6 1069.27h3M449.5 1069.27h-3M194.6 1063.73h3M449.5 1063.73h-3M194.6 1058.2h3M449.5 1058.2h-3M194.6 1052.67h3M449.5 1052.67h-3M194.6 1047.13h6M449.5 1047.13h-6M194.6 1041.6h3M449.5 1041.6h-3M194.6 1036.07h3M449.5 1036.07h-3M194.6 1030.53h3M449.5 1030.53h-3M194.6 1025h3M449.5 1025h-3M194.6 1019.47h6M449.5 1019.47h-6M194.6 1013.93h3M449.5 1013.93h-3M194.6 1008.4h3M449.5 1008.4h-3M194.6 1002.87h3M449.5 1002.87h-3M194.6 997.33h3M449.5 997.33h-3M194.6 991.8h6M449.5 991.8h-6M209.1 1157.8v-6M231.69 1157.8v-6M254.28 1157.8v-6M276.87 1157.8v-6M299.46 1157.8v-6M322.05 1157.8v-6M344.64 1157.8v-6M367.23 1157.8v-6M389.82 1157.8v-6M412.41 1157.8v-6M435 1157.8v-6" stroke="#231f20" stroke-width="1.1" fill="none"/>
<path d="M194.6 1074.8H449.5" stroke="#231f20" stroke-width="2"/>
<rect x="194.6" y="991.8" width="254.9" height="166" fill="none" stroke="#231f20" stroke-width="1.6"/>
<text x="189.6" y="1000.8" font-size="21.5" text-anchor="end" textLength="19.13" lengthAdjust="spacingAndGlyphs">15</text>
<text x="189.6" y="1082.3" font-size="21.5" text-anchor="end" textLength="9.57" lengthAdjust="spacingAndGlyphs">0</text>
<text x="189.6" y="1160.8" font-size="21.5" text-anchor="end" textLength="24.86" lengthAdjust="spacingAndGlyphs">-15</text>
<text x="209.1" y="1185.4" font-size="18.5" text-anchor="middle" textLength="38.31" lengthAdjust="spacingAndGlyphs">1900s</text>
<text x="257.28" y="1185.4" font-size="18.5" text-anchor="middle" textLength="22.67" lengthAdjust="spacingAndGlyphs">20s</text>
<text x="302.46" y="1185.4" font-size="18.5" text-anchor="middle" textLength="22.67" lengthAdjust="spacingAndGlyphs">40s</text>
<text x="347.64" y="1185.4" font-size="18.5" text-anchor="middle" textLength="22.67" lengthAdjust="spacingAndGlyphs">60s</text>
<text x="392.82" y="1185.4" font-size="18.5" text-anchor="middle" textLength="22.67" lengthAdjust="spacingAndGlyphs">80s</text>
<text x="438" y="1185.4" font-size="18.5" text-anchor="middle" textLength="22.67" lengthAdjust="spacingAndGlyphs">00s</text>
<g transform="translate(158.75 1073) rotate(-90)"><text x="0" y="0" font-size="17.5" text-anchor="middle" textLength="165.9" lengthAdjust="spacingAndGlyphs">Precipitation Change (%)</text></g>
<text x="314.85" y="1211.8" font-size="22.5" text-anchor="middle" textLength="77" lengthAdjust="spacingAndGlyphs">Decade</text>
<text x="157.3" y="976.4" font-size="40" textLength="106.3" lengthAdjust="spacingAndGlyphs" stroke="#231f20" stroke-width="0.45">Hawaiʻi</text>
<rect x="591" y="1013.5" width="247.6" height="161.1" fill="#f3f3f3"/>
<rect x="596" y="1094.05" width="17.8" height="9.67" fill="#a8652a"/>
<rect x="617.94" y="1091.37" width="17.8" height="2.68" fill="#15876f"/>
<rect x="639.88" y="1084.17" width="17.8" height="9.88" fill="#15876f"/>
<rect x="661.82" y="1094.05" width="17.8" height="22.93" fill="#a8652a"/>
<rect x="683.76" y="1047.28" width="17.8" height="46.77" fill="#15876f"/>
<rect x="705.7" y="1094.05" width="17.8" height="27.01" fill="#a8652a"/>
<rect x="727.64" y="1094.05" width="17.8" height="8.32" fill="#a8652a"/>
<rect x="749.58" y="1065.27" width="17.8" height="28.78" fill="#15876f"/>
<rect x="771.52" y="1051.73" width="17.8" height="42.32" fill="#15876f"/>
<rect x="793.46" y="1030.85" width="17.8" height="63.2" fill="#15876f"/>
<rect x="815.4" y="1081.43" width="17.8" height="12.62" fill="#15876f"/>
<path d="M591 1174.6h6M838.6 1174.6h-6M591 1169.23h3M838.6 1169.23h-3M591 1163.86h3M838.6 1163.86h-3M591 1158.49h3M838.6 1158.49h-3M591 1153.12h3M838.6 1153.12h-3M591 1147.75h6M838.6 1147.75h-6M591 1142.38h3M838.6 1142.38h-3M591 1137.01h3M838.6 1137.01h-3M591 1131.64h3M838.6 1131.64h-3M591 1126.27h3M838.6 1126.27h-3M591 1120.9h6M838.6 1120.9h-6M591 1115.53h3M838.6 1115.53h-3M591 1110.16h3M838.6 1110.16h-3M591 1104.79h3M838.6 1104.79h-3M591 1099.42h3M838.6 1099.42h-3M591 1094.05h6M838.6 1094.05h-6M591 1088.68h3M838.6 1088.68h-3M591 1083.31h3M838.6 1083.31h-3M591 1077.94h3M838.6 1077.94h-3M591 1072.57h3M838.6 1072.57h-3M591 1067.2h6M838.6 1067.2h-6M591 1061.83h3M838.6 1061.83h-3M591 1056.46h3M838.6 1056.46h-3M591 1051.09h3M838.6 1051.09h-3M591 1045.72h3M838.6 1045.72h-3M591 1040.35h6M838.6 1040.35h-6M591 1034.98h3M838.6 1034.98h-3M591 1029.61h3M838.6 1029.61h-3M591 1024.24h3M838.6 1024.24h-3M591 1018.87h3M838.6 1018.87h-3M591 1013.5h6M838.6 1013.5h-6M605.5 1174.6v-6M627.36 1174.6v-6M649.22 1174.6v-6M671.08 1174.6v-6M692.94 1174.6v-6M714.8 1174.6v-6M736.66 1174.6v-6M758.52 1174.6v-6M780.38 1174.6v-6M802.24 1174.6v-6M824.1 1174.6v-6" stroke="#231f20" stroke-width="1.1" fill="none"/>
<path d="M591 1094.05H838.6" stroke="#231f20" stroke-width="2"/>
<rect x="591" y="1013.5" width="247.6" height="161.1" fill="none" stroke="#231f20" stroke-width="1.6"/>
<text x="586" y="1022.5" font-size="21.5" text-anchor="end" textLength="19.13" lengthAdjust="spacingAndGlyphs">15</text>
<text x="586" y="1101.55" font-size="21.5" text-anchor="end" textLength="9.57" lengthAdjust="spacingAndGlyphs">0</text>
<text x="586" y="1177.6" font-size="21.5" text-anchor="end" textLength="24.86" lengthAdjust="spacingAndGlyphs">-15</text>
<text x="605.5" y="1196.4" font-size="18.5" text-anchor="middle" textLength="38.31" lengthAdjust="spacingAndGlyphs">1900s</text>
<text x="652.22" y="1196.4" font-size="18.5" text-anchor="middle" textLength="22.67" lengthAdjust="spacingAndGlyphs">20s</text>
<text x="695.94" y="1196.4" font-size="18.5" text-anchor="middle" textLength="22.67" lengthAdjust="spacingAndGlyphs">40s</text>
<text x="739.66" y="1196.4" font-size="18.5" text-anchor="middle" textLength="22.67" lengthAdjust="spacingAndGlyphs">60s</text>
<text x="783.38" y="1196.4" font-size="18.5" text-anchor="middle" textLength="22.67" lengthAdjust="spacingAndGlyphs">80s</text>
<text x="827.1" y="1196.4" font-size="18.5" text-anchor="middle" textLength="22.67" lengthAdjust="spacingAndGlyphs">00s</text>
<g transform="translate(553.45 1092.3) rotate(-90)"><text x="0" y="0" font-size="17.5" text-anchor="middle" textLength="165.4" lengthAdjust="spacingAndGlyphs">Precipitation Change (%)</text></g>
<text x="709.9" y="1216.6" font-size="22.5" text-anchor="middle" textLength="76" lengthAdjust="spacingAndGlyphs">Decade</text>
<text x="545.4" y="997.3" font-size="40" textLength="266.6" lengthAdjust="spacingAndGlyphs" stroke="#231f20" stroke-width="0.45">Great Plains South</text>
<rect x="1030.3" y="1036.4" width="244.9" height="159.3" fill="#f3f3f3"/>
<rect x="1034.8" y="1116.05" width="17.7" height="7.65" fill="#a8652a"/>
<rect x="1056.56" y="1111.32" width="17.7" height="4.73" fill="#15876f"/>
<rect x="1078.32" y="1114.24" width="17.7" height="1.81" fill="#15876f"/>
<rect x="1100.08" y="1116.05" width="17.7" height="8.12" fill="#a8652a"/>
<rect x="1121.84" y="1095.55" width="17.7" height="20.5" fill="#15876f"/>
<rect x="1143.6" y="1116.05" width="17.7" height="13.7" fill="#a8652a"/>
<rect x="1165.36" y="1116.05" width="17.7" height="6.53" fill="#a8652a"/>
<rect x="1187.12" y="1076.23" width="17.7" height="39.83" fill="#15876f"/>
<rect x="1208.88" y="1110" width="17.7" height="6.05" fill="#15876f"/>
<rect x="1230.64" y="1094.65" width="17.7" height="21.4" fill="#15876f"/>
<rect x="1252.4" y="1112.65" width="17.7" height="3.4" fill="#15876f"/>
<path d="M1030.3 1195.7h6M1275.2 1195.7h-6M1030.3 1190.39h3M1275.2 1190.39h-3M1030.3 1185.08h3M1275.2 1185.08h-3M1030.3 1179.77h3M1275.2 1179.77h-3M1030.3 1174.46h3M1275.2 1174.46h-3M1030.3 1169.15h6M1275.2 1169.15h-6M1030.3 1163.84h3M1275.2 1163.84h-3M1030.3 1158.53h3M1275.2 1158.53h-3M1030.3 1153.22h3M1275.2 1153.22h-3M1030.3 1147.91h3M1275.2 1147.91h-3M1030.3 1142.6h6M1275.2 1142.6h-6M1030.3 1137.29h3M1275.2 1137.29h-3M1030.3 1131.98h3M1275.2 1131.98h-3M1030.3 1126.67h3M1275.2 1126.67h-3M1030.3 1121.36h3M1275.2 1121.36h-3M1030.3 1116.05h6M1275.2 1116.05h-6M1030.3 1110.74h3M1275.2 1110.74h-3M1030.3 1105.43h3M1275.2 1105.43h-3M1030.3 1100.12h3M1275.2 1100.12h-3M1030.3 1094.81h3M1275.2 1094.81h-3M1030.3 1089.5h6M1275.2 1089.5h-6M1030.3 1084.19h3M1275.2 1084.19h-3M1030.3 1078.88h3M1275.2 1078.88h-3M1030.3 1073.57h3M1275.2 1073.57h-3M1030.3 1068.26h3M1275.2 1068.26h-3M1030.3 1062.95h6M1275.2 1062.95h-6M1030.3 1057.64h3M1275.2 1057.64h-3M1030.3 1052.33h3M1275.2 1052.33h-3M1030.3 1047.02h3M1275.2 1047.02h-3M1030.3 1041.71h3M1275.2 1041.71h-3M1030.3 1036.4h6M1275.2 1036.4h-6M1044.8 1195.7v-6M1066.39 1195.7v-6M1087.98 1195.7v-6M1109.57 1195.7v-6M1131.16 1195.7v-6M1152.75 1195.7v-6M1174.34 1195.7v-6M1195.93 1195.7v-6M1217.52 1195.7v-6M1239.11 1195.7v-6M1260.7 1195.7v-6" stroke="#231f20" stroke-width="1.1" fill="none"/>
<path d="M1030.3 1116.05H1275.2" stroke="#231f20" stroke-width="2"/>
<rect x="1030.3" y="1036.4" width="244.9" height="159.3" fill="none" stroke="#231f20" stroke-width="1.6"/>
<text x="1025.3" y="1045.4" font-size="21.5" text-anchor="end" textLength="19.13" lengthAdjust="spacingAndGlyphs">15</text>
<text x="1025.3" y="1123.55" font-size="21.5" text-anchor="end" textLength="9.57" lengthAdjust="spacingAndGlyphs">0</text>
<text x="1025.3" y="1198.7" font-size="21.5" text-anchor="end" textLength="24.86" lengthAdjust="spacingAndGlyphs">-15</text>
<text x="1044.8" y="1218.6" font-size="18.5" text-anchor="middle" textLength="38.31" lengthAdjust="spacingAndGlyphs">1900s</text>
<text x="1090.98" y="1218.6" font-size="18.5" text-anchor="middle" textLength="22.67" lengthAdjust="spacingAndGlyphs">20s</text>
<text x="1134.16" y="1218.6" font-size="18.5" text-anchor="middle" textLength="22.67" lengthAdjust="spacingAndGlyphs">40s</text>
<text x="1177.34" y="1218.6" font-size="18.5" text-anchor="middle" textLength="22.67" lengthAdjust="spacingAndGlyphs">60s</text>
<text x="1220.52" y="1218.6" font-size="18.5" text-anchor="middle" textLength="22.67" lengthAdjust="spacingAndGlyphs">80s</text>
<text x="1263.7" y="1218.6" font-size="18.5" text-anchor="middle" textLength="22.67" lengthAdjust="spacingAndGlyphs">00s</text>
<g transform="translate(990.95 1114.6) rotate(-90)"><text x="0" y="0" font-size="17.5" text-anchor="middle" textLength="165.4" lengthAdjust="spacingAndGlyphs">Precipitation Change (%)</text></g>
<text x="1152.75" y="1239.6" font-size="22.5" text-anchor="middle" textLength="76.5" lengthAdjust="spacingAndGlyphs">Decade</text>
<text x="999" y="1017.3" font-size="40" textLength="150.1" lengthAdjust="spacingAndGlyphs" stroke="#231f20" stroke-width="0.45">Southeast</text>
<rect x="1642.4" y="592" width="246.3" height="160.8" fill="#f3f3f3"/>
<rect x="1646.5" y="672.13" width="17.5" height="0.6" fill="#15876f"/>
<rect x="1668.32" y="670.36" width="17.5" height="2.04" fill="#15876f"/>
<rect x="1690.14" y="672.4" width="17.5" height="18.44" fill="#a8652a"/>
<rect x="1711.96" y="665" width="17.5" height="7.4" fill="#15876f"/>
<rect x="1733.78" y="672.4" width="17.5" height="4.07" fill="#a8652a"/>
<rect x="1755.6" y="658.89" width="17.5" height="13.51" fill="#15876f"/>
<rect x="1777.42" y="672.4" width="17.5" height="39.82" fill="#a8652a"/>
<rect x="1799.24" y="627.86" width="17.5" height="44.54" fill="#15876f"/>
<rect x="1821.06" y="653.53" width="17.5" height="18.87" fill="#15876f"/>
<rect x="1842.88" y="653.26" width="17.5" height="19.14" fill="#15876f"/>
<rect x="1864.7" y="611.24" width="17.5" height="61.16" fill="#15876f"/>
<path d="M1642.4 752.8h6M1888.7 752.8h-6M1642.4 747.44h3M1888.7 747.44h-3M1642.4 742.08h3M1888.7 742.08h-3M1642.4 736.72h3M1888.7 736.72h-3M1642.4 731.36h3M1888.7 731.36h-3M1642.4 726h6M1888.7 726h-6M1642.4 720.64h3M1888.7 720.64h-3M1642.4 715.28h3M1888.7 715.28h-3M1642.4 709.92h3M1888.7 709.92h-3M1642.4 704.56h3M1888.7 704.56h-3M1642.4 699.2h6M1888.7 699.2h-6M1642.4 693.84h3M1888.7 693.84h-3M1642.4 688.48h3M1888.7 688.48h-3M1642.4 683.12h3M1888.7 683.12h-3M1642.4 677.76h3M1888.7 677.76h-3M1642.4 672.4h6M1888.7 672.4h-6M1642.4 667.04h3M1888.7 667.04h-3M1642.4 661.68h3M1888.7 661.68h-3M1642.4 656.32h3M1888.7 656.32h-3M1642.4 650.96h3M1888.7 650.96h-3M1642.4 645.6h6M1888.7 645.6h-6M1642.4 640.24h3M1888.7 640.24h-3M1642.4 634.88h3M1888.7 634.88h-3M1642.4 629.52h3M1888.7 629.52h-3M1642.4 624.16h3M1888.7 624.16h-3M1642.4 618.8h6M1888.7 618.8h-6M1642.4 613.44h3M1888.7 613.44h-3M1642.4 608.08h3M1888.7 608.08h-3M1642.4 602.72h3M1888.7 602.72h-3M1642.4 597.36h3M1888.7 597.36h-3M1642.4 592h6M1888.7 592h-6M1656.9 752.8v-6M1678.63 752.8v-6M1700.36 752.8v-6M1722.09 752.8v-6M1743.82 752.8v-6M1765.55 752.8v-6M1787.28 752.8v-6M1809.01 752.8v-6M1830.74 752.8v-6M1852.47 752.8v-6M1874.2 752.8v-6" stroke="#231f20" stroke-width="1.1" fill="none"/>
<path d="M1642.4 672.4H1888.7" stroke="#231f20" stroke-width="2"/>
<rect x="1642.4" y="592" width="246.3" height="160.8" fill="none" stroke="#231f20" stroke-width="1.6"/>
<text x="1637.4" y="601" font-size="21.5" text-anchor="end" textLength="19.13" lengthAdjust="spacingAndGlyphs">15</text>
<text x="1637.4" y="679.9" font-size="21.5" text-anchor="end" textLength="9.57" lengthAdjust="spacingAndGlyphs">0</text>
<text x="1637.4" y="755.8" font-size="21.5" text-anchor="end" textLength="24.86" lengthAdjust="spacingAndGlyphs">-15</text>
<text x="1656.9" y="773.1" font-size="18.5" text-anchor="middle" textLength="38.31" lengthAdjust="spacingAndGlyphs">1900s</text>
<text x="1703.36" y="773.1" font-size="18.5" text-anchor="middle" textLength="22.67" lengthAdjust="spacingAndGlyphs">20s</text>
<text x="1746.82" y="773.1" font-size="18.5" text-anchor="middle" textLength="22.67" lengthAdjust="spacingAndGlyphs">40s</text>
<text x="1790.28" y="773.1" font-size="18.5" text-anchor="middle" textLength="22.67" lengthAdjust="spacingAndGlyphs">60s</text>
<text x="1833.74" y="773.1" font-size="18.5" text-anchor="middle" textLength="22.67" lengthAdjust="spacingAndGlyphs">80s</text>
<text x="1877.2" y="773.1" font-size="18.5" text-anchor="middle" textLength="22.67" lengthAdjust="spacingAndGlyphs">00s</text>
<g transform="translate(1605.15 670.3) rotate(-90)"><text x="0" y="0" font-size="17.5" text-anchor="middle" textLength="163.8" lengthAdjust="spacingAndGlyphs">Precipitation Change (%)</text></g>
<text x="1765.55" y="792.7" font-size="22.5" text-anchor="middle" textLength="75.8" lengthAdjust="spacingAndGlyphs">Decade</text>
<text x="1597" y="570.7" font-size="40" textLength="145.7" lengthAdjust="spacingAndGlyphs" stroke="#231f20" stroke-width="0.45">Northeast</text>
<text x="1447.8" y="850.3" font-size="28" textLength="169.4" lengthAdjust="spacingAndGlyphs">Precipitation</text>
<text x="1454.6" y="884.9" font-size="28" textLength="166" lengthAdjust="spacingAndGlyphs">Change (%)</text>
<rect x="1439" y="906.8" width="58.5" height="28.5" fill="#01665e" stroke="#6d6e71" stroke-width="2.6"/>
<text x="1507.4" y="933" font-size="30" textLength="49.9" lengthAdjust="spacingAndGlyphs">&gt;15</text>
<rect x="1439" y="951.9" width="58.5" height="28.5" fill="#35978f" stroke="#6d6e71" stroke-width="2.6"/>
<text x="1507.4" y="978.1" font-size="30" textLength="107.7" lengthAdjust="spacingAndGlyphs">10 to 15</text>
<rect x="1439" y="997" width="58.5" height="28.5" fill="#80cdc1" stroke="#6d6e71" stroke-width="2.6"/>
<text x="1507.4" y="1023.2" font-size="30" textLength="91.7" lengthAdjust="spacingAndGlyphs">5 to 10</text>
<rect x="1439" y="1042.1" width="58.5" height="28.5" fill="#c7eae5" stroke="#6d6e71" stroke-width="2.6"/>
<text x="1507.4" y="1068.3" font-size="30" textLength="74.9" lengthAdjust="spacingAndGlyphs">0 to 5</text>
<rect x="1439" y="1087.2" width="58.5" height="28.5" fill="#f6e8c3" stroke="#6d6e71" stroke-width="2.6"/>
<text x="1507.4" y="1113.4" font-size="30" textLength="84.9" lengthAdjust="spacingAndGlyphs">-5 to 0</text>
<rect x="1439" y="1132.3" width="58.5" height="28.5" fill="#dfc27d" stroke="#6d6e71" stroke-width="2.6"/>
<text x="1507.4" y="1158.5" font-size="30" textLength="113.1" lengthAdjust="spacingAndGlyphs">-10 to -5</text>
<rect x="1439" y="1177.4" width="58.5" height="28.5" fill="#bf812d" stroke="#6d6e71" stroke-width="2.6"/>
<text x="1507.4" y="1203.6" font-size="30" textLength="129.5" lengthAdjust="spacingAndGlyphs">-15 to -10</text>
<rect x="1439" y="1222.5" width="58.5" height="28.5" fill="#8c510a" stroke="#6d6e71" stroke-width="2.6"/>
<text x="1507.4" y="1248.7" font-size="30" textLength="59.6" lengthAdjust="spacingAndGlyphs">&lt;-15</text>
</svg>
</body></html>
